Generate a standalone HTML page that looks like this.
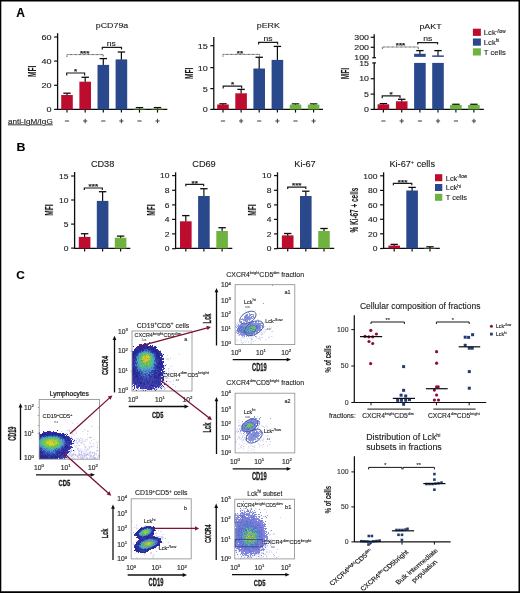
<!DOCTYPE html>
<html><head><meta charset="utf-8"><style>
html,body{margin:0;padding:0;background:#fff;}
svg{display:block;font-family:"Liberation Sans",sans-serif;will-change:transform;}
text{stroke:currentColor;stroke-width:0.12px;}
</style></head><body>
<svg width="520" height="593" viewBox="0 0 520 593">
<defs><filter id="soft" x="0" y="0" width="1" height="1"><feGaussianBlur stdDeviation="0.35"/></filter></defs>
<rect width="520" height="593" fill="#fff"/>
<g filter="url(#soft)">
<path d="M0 0H520V593H0Z M1.3 1.5V591.2H518.5V1.5Z" fill="#000" fill-rule="evenodd"/>
<text transform="translate(16.30,16.90) scale(1.0,1.0)" font-size="12" text-anchor="start" font-weight="bold" fill="#000" color="#000">A</text>
<text transform="translate(16.60,150.90) scale(1.06,1.0)" font-size="11.7" text-anchor="start" font-weight="bold" fill="#000" color="#000">B</text>
<text transform="translate(16.30,278.60) scale(1.0,1.0)" font-size="11.8" text-anchor="start" font-weight="bold" fill="#000" color="#000">C</text>
<line x1="57.60" y1="33.20" x2="57.60" y2="110.00" stroke="#111" stroke-width="1.3"/>
<line x1="54.10" y1="109.40" x2="57.60" y2="109.40" stroke="#111" stroke-width="1.2"/>
<text transform="translate(51.50,112.32) scale(1.12,1.0)" font-size="8.1" text-anchor="end" font-weight="normal" fill="#222" color="#222">0</text>
<line x1="54.10" y1="85.30" x2="57.60" y2="85.30" stroke="#111" stroke-width="1.2"/>
<text transform="translate(51.50,88.22) scale(1.12,1.0)" font-size="8.1" text-anchor="end" font-weight="normal" fill="#222" color="#222">20</text>
<line x1="54.10" y1="61.10" x2="57.60" y2="61.10" stroke="#111" stroke-width="1.2"/>
<text transform="translate(51.50,64.02) scale(1.12,1.0)" font-size="8.1" text-anchor="end" font-weight="normal" fill="#222" color="#222">40</text>
<line x1="54.10" y1="37.00" x2="57.60" y2="37.00" stroke="#111" stroke-width="1.2"/>
<text transform="translate(51.50,39.92) scale(1.12,1.0)" font-size="8.1" text-anchor="end" font-weight="normal" fill="#222" color="#222">60</text>
<line x1="57.00" y1="109.40" x2="167.30" y2="109.40" stroke="#111" stroke-width="1.3"/>
<line x1="67.00" y1="109.40" x2="67.00" y2="112.60" stroke="#111" stroke-width="1.2"/>
<line x1="85.20" y1="109.40" x2="85.20" y2="112.60" stroke="#111" stroke-width="1.2"/>
<line x1="103.30" y1="109.40" x2="103.30" y2="112.60" stroke="#111" stroke-width="1.2"/>
<line x1="121.40" y1="109.40" x2="121.40" y2="112.60" stroke="#111" stroke-width="1.2"/>
<line x1="139.50" y1="109.40" x2="139.50" y2="112.60" stroke="#111" stroke-width="1.2"/>
<line x1="157.50" y1="109.40" x2="157.50" y2="112.60" stroke="#111" stroke-width="1.2"/>
<line x1="67.00" y1="93.20" x2="67.00" y2="95.50" stroke="#111" stroke-width="1.2"/>
<line x1="63.30" y1="93.20" x2="70.70" y2="93.20" stroke="#111" stroke-width="1.3"/>
<rect x="61.20" y="95.00" width="11.60" height="14.40" fill="#bd0a2e"/>
<line x1="85.20" y1="77.30" x2="85.20" y2="82.20" stroke="#111" stroke-width="1.2"/>
<line x1="81.50" y1="77.30" x2="88.90" y2="77.30" stroke="#111" stroke-width="1.3"/>
<rect x="79.40" y="81.70" width="11.60" height="27.70" fill="#bd0a2e"/>
<line x1="103.30" y1="58.60" x2="103.30" y2="65.40" stroke="#111" stroke-width="1.2"/>
<line x1="99.60" y1="58.60" x2="107.00" y2="58.60" stroke="#111" stroke-width="1.3"/>
<rect x="97.50" y="64.90" width="11.60" height="44.50" fill="#2b4a8d"/>
<line x1="121.40" y1="52.00" x2="121.40" y2="59.90" stroke="#111" stroke-width="1.2"/>
<line x1="117.70" y1="52.00" x2="125.10" y2="52.00" stroke="#111" stroke-width="1.3"/>
<rect x="115.60" y="59.40" width="11.60" height="50.00" fill="#2b4a8d"/>
<line x1="139.50" y1="107.60" x2="139.50" y2="109.10" stroke="#111" stroke-width="1.2"/>
<line x1="135.80" y1="107.60" x2="143.20" y2="107.60" stroke="#111" stroke-width="1.3"/>
<rect x="133.70" y="108.60" width="11.60" height="0.80" fill="#6fb241"/>
<line x1="157.50" y1="107.60" x2="157.50" y2="109.10" stroke="#111" stroke-width="1.2"/>
<line x1="153.80" y1="107.60" x2="161.20" y2="107.60" stroke="#111" stroke-width="1.3"/>
<rect x="151.70" y="108.60" width="11.60" height="0.80" fill="#6fb241"/>
<path d="M66.70,75.40 V73.00 H84.60 V75.40" fill="none" stroke="#1a1a1a" stroke-width="1.2"/>
<text transform="translate(75.60,74.00) scale(1.1,1.0)" font-size="7.4" text-anchor="middle" font-weight="bold" fill="#1c1c1c" color="#1c1c1c">*</text>
<path d="M66.90,56.80 V54.60 H103.20 V56.80" fill="none" stroke="#3a3a3a" stroke-width="1.0" stroke-dasharray="0.8,0.5"/>
<text transform="translate(84.70,55.80) scale(1.1,1.0)" font-size="7.4" text-anchor="middle" font-weight="bold" fill="#1c1c1c" color="#1c1c1c">***</text>
<path d="M102.30,49.40 V47.40 H121.50 V49.40" fill="none" stroke="#1a1a1a" stroke-width="1.2"/>
<text transform="translate(111.30,46.10) scale(1.15,1.0)" font-size="7.5" text-anchor="middle" font-weight="normal" fill="#1c1c1c" color="#1c1c1c">ns</text>
<text transform="translate(112.00,27.80) scale(1.18,1.0)" font-size="7.5" text-anchor="middle" font-weight="normal" fill="#1c1c1c" color="#1c1c1c">pCD79a</text>
<text transform="translate(35.90,71.30) rotate(-90) scale(0.65,1)" font-size="10.2" text-anchor="middle" font-weight="bold" fill="#1a1a1a" color="#1a1a1a">MFI</text>
<line x1="64.90" y1="121.00" x2="69.10" y2="121.00" stroke="#444" stroke-width="1.05"/>
<line x1="83.10" y1="121.00" x2="87.30" y2="121.00" stroke="#444" stroke-width="1.05"/>
<line x1="85.20" y1="118.80" x2="85.20" y2="123.20" stroke="#444" stroke-width="1.05"/>
<line x1="101.20" y1="121.00" x2="105.40" y2="121.00" stroke="#444" stroke-width="1.05"/>
<line x1="119.30" y1="121.00" x2="123.50" y2="121.00" stroke="#444" stroke-width="1.05"/>
<line x1="121.40" y1="118.80" x2="121.40" y2="123.20" stroke="#444" stroke-width="1.05"/>
<line x1="137.40" y1="121.00" x2="141.60" y2="121.00" stroke="#444" stroke-width="1.05"/>
<line x1="155.40" y1="121.00" x2="159.60" y2="121.00" stroke="#444" stroke-width="1.05"/>
<line x1="157.50" y1="118.80" x2="157.50" y2="123.20" stroke="#444" stroke-width="1.05"/>
<text transform="translate(8.00,123.50) scale(1.1,1.0)" font-size="7.4" text-anchor="start" font-weight="normal" fill="#1c1c1c" color="#1c1c1c" text-decoration="underline">anti-IgM/IgG</text>
<line x1="213.80" y1="37.00" x2="213.80" y2="110.00" stroke="#111" stroke-width="1.3"/>
<line x1="210.30" y1="109.40" x2="213.80" y2="109.40" stroke="#111" stroke-width="1.2"/>
<text transform="translate(207.70,112.32) scale(1.12,1.0)" font-size="8.1" text-anchor="end" font-weight="normal" fill="#222" color="#222">0</text>
<line x1="210.30" y1="88.60" x2="213.80" y2="88.60" stroke="#111" stroke-width="1.2"/>
<text transform="translate(207.70,91.52) scale(1.12,1.0)" font-size="8.1" text-anchor="end" font-weight="normal" fill="#222" color="#222">5</text>
<line x1="210.30" y1="67.60" x2="213.80" y2="67.60" stroke="#111" stroke-width="1.2"/>
<text transform="translate(207.70,70.52) scale(1.12,1.0)" font-size="8.1" text-anchor="end" font-weight="normal" fill="#222" color="#222">10</text>
<line x1="210.30" y1="45.70" x2="213.80" y2="45.70" stroke="#111" stroke-width="1.2"/>
<text transform="translate(207.70,48.62) scale(1.12,1.0)" font-size="8.1" text-anchor="end" font-weight="normal" fill="#222" color="#222">15</text>
<line x1="213.20" y1="109.40" x2="323.00" y2="109.40" stroke="#111" stroke-width="1.3"/>
<line x1="223.00" y1="109.40" x2="223.00" y2="112.60" stroke="#111" stroke-width="1.2"/>
<line x1="241.10" y1="109.40" x2="241.10" y2="112.60" stroke="#111" stroke-width="1.2"/>
<line x1="259.20" y1="109.40" x2="259.20" y2="112.60" stroke="#111" stroke-width="1.2"/>
<line x1="277.40" y1="109.40" x2="277.40" y2="112.60" stroke="#111" stroke-width="1.2"/>
<line x1="295.50" y1="109.40" x2="295.50" y2="112.60" stroke="#111" stroke-width="1.2"/>
<line x1="313.60" y1="109.40" x2="313.60" y2="112.60" stroke="#111" stroke-width="1.2"/>
<line x1="223.00" y1="103.80" x2="223.00" y2="105.00" stroke="#111" stroke-width="1.2"/>
<line x1="219.30" y1="103.80" x2="226.70" y2="103.80" stroke="#111" stroke-width="1.3"/>
<rect x="217.20" y="104.50" width="11.60" height="4.90" fill="#bd0a2e"/>
<line x1="241.10" y1="89.40" x2="241.10" y2="93.80" stroke="#111" stroke-width="1.2"/>
<line x1="237.40" y1="89.40" x2="244.80" y2="89.40" stroke="#111" stroke-width="1.3"/>
<rect x="235.30" y="93.30" width="11.60" height="16.10" fill="#bd0a2e"/>
<line x1="259.20" y1="57.30" x2="259.20" y2="69.00" stroke="#111" stroke-width="1.2"/>
<line x1="255.50" y1="57.30" x2="262.90" y2="57.30" stroke="#111" stroke-width="1.3"/>
<rect x="253.40" y="68.50" width="11.60" height="40.90" fill="#2b4a8d"/>
<line x1="277.40" y1="46.40" x2="277.40" y2="60.40" stroke="#111" stroke-width="1.2"/>
<line x1="273.70" y1="46.40" x2="281.10" y2="46.40" stroke="#111" stroke-width="1.3"/>
<rect x="271.60" y="59.90" width="11.60" height="49.50" fill="#2b4a8d"/>
<line x1="295.50" y1="103.90" x2="295.50" y2="105.10" stroke="#111" stroke-width="1.2"/>
<line x1="291.80" y1="103.90" x2="299.20" y2="103.90" stroke="#111" stroke-width="1.3"/>
<rect x="289.70" y="104.60" width="11.60" height="4.80" fill="#6fb241"/>
<line x1="313.60" y1="103.90" x2="313.60" y2="105.10" stroke="#111" stroke-width="1.2"/>
<line x1="309.90" y1="103.90" x2="317.30" y2="103.90" stroke="#111" stroke-width="1.3"/>
<rect x="307.80" y="104.60" width="11.60" height="4.80" fill="#6fb241"/>
<path d="M223.20,88.50 V86.10 H241.60 V88.50" fill="none" stroke="#1a1a1a" stroke-width="1.2"/>
<text transform="translate(232.50,87.20) scale(1.1,1.0)" font-size="7.4" text-anchor="middle" font-weight="bold" fill="#1c1c1c" color="#1c1c1c">*</text>
<path d="M222.90,56.60 V54.40 H259.60 V56.60" fill="none" stroke="#3a3a3a" stroke-width="1.0" stroke-dasharray="0.8,0.5"/>
<text transform="translate(240.00,55.60) scale(1.1,1.0)" font-size="7.4" text-anchor="middle" font-weight="bold" fill="#1c1c1c" color="#1c1c1c">**</text>
<path d="M258.60,44.40 V42.40 H277.60 V44.40" fill="none" stroke="#1a1a1a" stroke-width="1.2"/>
<text transform="translate(268.10,41.10) scale(1.15,1.0)" font-size="7.5" text-anchor="middle" font-weight="normal" fill="#1c1c1c" color="#1c1c1c">ns</text>
<text transform="translate(268.30,28.40) scale(1.18,1.0)" font-size="7.5" text-anchor="middle" font-weight="normal" fill="#1c1c1c" color="#1c1c1c">pERK</text>
<text transform="translate(192.50,73.30) rotate(-90) scale(0.65,1)" font-size="10.2" text-anchor="middle" font-weight="bold" fill="#1a1a1a" color="#1a1a1a">MFI</text>
<line x1="220.90" y1="121.00" x2="225.10" y2="121.00" stroke="#444" stroke-width="1.05"/>
<line x1="239.00" y1="121.00" x2="243.20" y2="121.00" stroke="#444" stroke-width="1.05"/>
<line x1="241.10" y1="118.80" x2="241.10" y2="123.20" stroke="#444" stroke-width="1.05"/>
<line x1="257.10" y1="121.00" x2="261.30" y2="121.00" stroke="#444" stroke-width="1.05"/>
<line x1="275.30" y1="121.00" x2="279.50" y2="121.00" stroke="#444" stroke-width="1.05"/>
<line x1="277.40" y1="118.80" x2="277.40" y2="123.20" stroke="#444" stroke-width="1.05"/>
<line x1="293.40" y1="121.00" x2="297.60" y2="121.00" stroke="#444" stroke-width="1.05"/>
<line x1="311.50" y1="121.00" x2="315.70" y2="121.00" stroke="#444" stroke-width="1.05"/>
<line x1="313.60" y1="118.80" x2="313.60" y2="123.20" stroke="#444" stroke-width="1.05"/>
<line x1="374.20" y1="34.20" x2="374.20" y2="57.70" stroke="#111" stroke-width="1.3"/>
<line x1="372.30" y1="57.70" x2="375.90" y2="57.70" stroke="#111" stroke-width="1.3"/>
<line x1="374.20" y1="62.90" x2="374.20" y2="110.00" stroke="#111" stroke-width="1.3"/>
<line x1="372.30" y1="62.90" x2="375.90" y2="62.90" stroke="#111" stroke-width="1.3"/>
<line x1="370.70" y1="37.30" x2="374.20" y2="37.30" stroke="#111" stroke-width="1.2"/>
<text transform="translate(369.00,40.00) scale(1.18,1.0)" font-size="7.5" text-anchor="end" font-weight="normal" fill="#222" color="#222">300</text>
<line x1="370.70" y1="47.30" x2="374.20" y2="47.30" stroke="#111" stroke-width="1.2"/>
<text transform="translate(369.00,50.00) scale(1.18,1.0)" font-size="7.5" text-anchor="end" font-weight="normal" fill="#222" color="#222">200</text>
<text transform="translate(369.00,60.40) scale(1.18,1.0)" font-size="7.5" text-anchor="end" font-weight="normal" fill="#222" color="#222">100</text>
<text transform="translate(369.00,65.60) scale(1.18,1.0)" font-size="7.5" text-anchor="end" font-weight="normal" fill="#222" color="#222">15</text>
<line x1="370.70" y1="78.70" x2="374.20" y2="78.70" stroke="#111" stroke-width="1.2"/>
<text transform="translate(369.00,81.40) scale(1.18,1.0)" font-size="7.5" text-anchor="end" font-weight="normal" fill="#222" color="#222">10</text>
<line x1="370.70" y1="94.10" x2="374.20" y2="94.10" stroke="#111" stroke-width="1.2"/>
<text transform="translate(369.00,96.80) scale(1.18,1.0)" font-size="7.5" text-anchor="end" font-weight="normal" fill="#222" color="#222">5</text>
<line x1="370.70" y1="109.40" x2="374.20" y2="109.40" stroke="#111" stroke-width="1.2"/>
<text transform="translate(369.00,112.10) scale(1.18,1.0)" font-size="7.5" text-anchor="end" font-weight="normal" fill="#222" color="#222">0</text>
<line x1="373.60" y1="109.40" x2="483.80" y2="109.40" stroke="#111" stroke-width="1.3"/>
<line x1="383.40" y1="109.40" x2="383.40" y2="112.60" stroke="#111" stroke-width="1.2"/>
<line x1="401.70" y1="109.40" x2="401.70" y2="112.60" stroke="#111" stroke-width="1.2"/>
<line x1="419.90" y1="109.40" x2="419.90" y2="112.60" stroke="#111" stroke-width="1.2"/>
<line x1="438.00" y1="109.40" x2="438.00" y2="112.60" stroke="#111" stroke-width="1.2"/>
<line x1="455.90" y1="109.40" x2="455.90" y2="112.60" stroke="#111" stroke-width="1.2"/>
<line x1="473.90" y1="109.40" x2="473.90" y2="112.60" stroke="#111" stroke-width="1.2"/>
<line x1="383.40" y1="103.60" x2="383.40" y2="104.80" stroke="#111" stroke-width="1.2"/>
<line x1="379.70" y1="103.60" x2="387.10" y2="103.60" stroke="#111" stroke-width="1.3"/>
<rect x="377.60" y="104.30" width="11.60" height="5.10" fill="#bd0a2e"/>
<line x1="401.70" y1="99.30" x2="401.70" y2="101.80" stroke="#111" stroke-width="1.2"/>
<line x1="398.00" y1="99.30" x2="405.40" y2="99.30" stroke="#111" stroke-width="1.3"/>
<rect x="395.90" y="101.30" width="11.60" height="8.10" fill="#bd0a2e"/>
<rect x="414.10" y="62.90" width="11.60" height="46.50" fill="#2b4a8d"/>
<rect x="432.20" y="62.90" width="11.60" height="46.50" fill="#2b4a8d"/>
<line x1="419.90" y1="50.60" x2="419.90" y2="54.30" stroke="#111" stroke-width="1.2"/>
<line x1="416.20" y1="50.60" x2="423.60" y2="50.60" stroke="#111" stroke-width="1.3"/>
<rect x="414.10" y="53.80" width="11.60" height="3.10" fill="#2b4a8d"/>
<line x1="438.00" y1="50.60" x2="438.00" y2="55.90" stroke="#111" stroke-width="1.2"/>
<line x1="434.30" y1="50.60" x2="441.70" y2="50.60" stroke="#111" stroke-width="1.3"/>
<rect x="432.20" y="55.40" width="11.60" height="1.50" fill="#2b4a8d"/>
<line x1="455.90" y1="104.30" x2="455.90" y2="105.40" stroke="#111" stroke-width="1.2"/>
<line x1="452.20" y1="104.30" x2="459.60" y2="104.30" stroke="#111" stroke-width="1.3"/>
<rect x="450.10" y="104.90" width="11.60" height="4.50" fill="#6fb241"/>
<line x1="473.90" y1="104.30" x2="473.90" y2="105.40" stroke="#111" stroke-width="1.2"/>
<line x1="470.20" y1="104.30" x2="477.60" y2="104.30" stroke="#111" stroke-width="1.3"/>
<rect x="468.10" y="104.90" width="11.60" height="4.50" fill="#6fb241"/>
<path d="M382.20,98.30 V95.90 H400.00 V98.30" fill="none" stroke="#1a1a1a" stroke-width="1.2"/>
<text transform="translate(391.00,97.00) scale(1.1,1.0)" font-size="7.4" text-anchor="middle" font-weight="bold" fill="#1c1c1c" color="#1c1c1c">*</text>
<path d="M382.40,49.00 V47.00 H418.30 V49.00" fill="none" stroke="#3a3a3a" stroke-width="1.0" stroke-dasharray="0.8,0.5"/>
<text transform="translate(400.50,48.20) scale(1.1,1.0)" font-size="7.4" text-anchor="middle" font-weight="bold" fill="#1c1c1c" color="#1c1c1c">***</text>
<path d="M417.80,44.50 V42.70 H437.60 V44.50" fill="none" stroke="#1a1a1a" stroke-width="1.2"/>
<text transform="translate(427.80,41.30) scale(1.15,1.0)" font-size="7.5" text-anchor="middle" font-weight="normal" fill="#1c1c1c" color="#1c1c1c">ns</text>
<text transform="translate(430.50,29.00) scale(1.18,1.0)" font-size="7.5" text-anchor="middle" font-weight="normal" fill="#1c1c1c" color="#1c1c1c">pAKT</text>
<text transform="translate(349.20,73.50) rotate(-90) scale(0.65,1)" font-size="10.2" text-anchor="middle" font-weight="bold" fill="#1a1a1a" color="#1a1a1a">MFI</text>
<line x1="381.30" y1="121.00" x2="385.50" y2="121.00" stroke="#444" stroke-width="1.05"/>
<line x1="399.60" y1="121.00" x2="403.80" y2="121.00" stroke="#444" stroke-width="1.05"/>
<line x1="401.70" y1="118.80" x2="401.70" y2="123.20" stroke="#444" stroke-width="1.05"/>
<line x1="417.80" y1="121.00" x2="422.00" y2="121.00" stroke="#444" stroke-width="1.05"/>
<line x1="435.90" y1="121.00" x2="440.10" y2="121.00" stroke="#444" stroke-width="1.05"/>
<line x1="438.00" y1="118.80" x2="438.00" y2="123.20" stroke="#444" stroke-width="1.05"/>
<line x1="453.80" y1="121.00" x2="458.00" y2="121.00" stroke="#444" stroke-width="1.05"/>
<line x1="471.80" y1="121.00" x2="476.00" y2="121.00" stroke="#444" stroke-width="1.05"/>
<line x1="473.90" y1="118.80" x2="473.90" y2="123.20" stroke="#444" stroke-width="1.05"/>
<rect x="472.90" y="28.70" width="8.00" height="7.20" fill="#bd0a2e"/>
<text transform="translate(483.80,35.30) scale(1.0,1.0)" font-size="7.7" text-anchor="start" font-weight="normal" fill="#1c1c1c" color="#1c1c1c">Lck<tspan dy="-2.8" font-size="4.6">-/low</tspan></text>
<rect x="472.90" y="38.50" width="8.00" height="7.20" fill="#2b4a8d"/>
<text transform="translate(483.80,45.10) scale(1.0,1.0)" font-size="7.7" text-anchor="start" font-weight="normal" fill="#1c1c1c" color="#1c1c1c">Lck<tspan dy="-2.8" font-size="4.6">hi</tspan></text>
<rect x="472.90" y="48.30" width="8.00" height="7.20" fill="#6fb241"/>
<text transform="translate(483.80,54.90) scale(1.0,1.0)" font-size="7.7" text-anchor="start" font-weight="normal" fill="#1c1c1c" color="#1c1c1c">T cells</text>
<line x1="74.60" y1="172.00" x2="74.60" y2="249.00" stroke="#111" stroke-width="1.3"/>
<line x1="71.10" y1="248.10" x2="74.60" y2="248.10" stroke="#111" stroke-width="1.2"/>
<text transform="translate(68.50,250.84) scale(1.12,1.0)" font-size="7.6" text-anchor="end" font-weight="normal" fill="#222" color="#222">0</text>
<line x1="71.10" y1="224.10" x2="74.60" y2="224.10" stroke="#111" stroke-width="1.2"/>
<text transform="translate(68.50,226.84) scale(1.12,1.0)" font-size="7.6" text-anchor="end" font-weight="normal" fill="#222" color="#222">5</text>
<line x1="71.10" y1="200.00" x2="74.60" y2="200.00" stroke="#111" stroke-width="1.2"/>
<text transform="translate(68.50,202.74) scale(1.12,1.0)" font-size="7.6" text-anchor="end" font-weight="normal" fill="#222" color="#222">10</text>
<line x1="71.10" y1="176.00" x2="74.60" y2="176.00" stroke="#111" stroke-width="1.2"/>
<text transform="translate(68.50,178.74) scale(1.12,1.0)" font-size="7.6" text-anchor="end" font-weight="normal" fill="#222" color="#222">15</text>
<line x1="74.00" y1="248.40" x2="130.30" y2="248.40" stroke="#111" stroke-width="1.3"/>
<line x1="84.60" y1="248.40" x2="84.60" y2="251.60" stroke="#111" stroke-width="1.2"/>
<line x1="102.60" y1="248.40" x2="102.60" y2="251.60" stroke="#111" stroke-width="1.2"/>
<line x1="120.60" y1="248.40" x2="120.60" y2="251.60" stroke="#111" stroke-width="1.2"/>
<line x1="84.60" y1="233.70" x2="84.60" y2="237.40" stroke="#111" stroke-width="1.2"/>
<line x1="80.90" y1="233.70" x2="88.30" y2="233.70" stroke="#111" stroke-width="1.3"/>
<rect x="78.80" y="236.90" width="11.60" height="11.50" fill="#bd0a2e"/>
<line x1="102.60" y1="191.70" x2="102.60" y2="201.40" stroke="#111" stroke-width="1.2"/>
<line x1="98.90" y1="191.70" x2="106.30" y2="191.70" stroke="#111" stroke-width="1.3"/>
<rect x="96.80" y="200.90" width="11.60" height="47.50" fill="#2b4a8d"/>
<line x1="120.60" y1="236.10" x2="120.60" y2="238.20" stroke="#111" stroke-width="1.2"/>
<line x1="116.90" y1="236.10" x2="124.30" y2="236.10" stroke="#111" stroke-width="1.3"/>
<rect x="114.80" y="237.70" width="11.60" height="10.70" fill="#6fb241"/>
<text transform="translate(102.60,166.60) scale(1.12,1.0)" font-size="8.2" text-anchor="middle" font-weight="normal" fill="#1c1c1c" color="#1c1c1c">CD38</text>
<text transform="translate(52.90,210.10) rotate(-90) scale(0.65,1)" font-size="10.2" text-anchor="middle" font-weight="bold" fill="#1a1a1a" color="#1a1a1a">MFI</text>
<path d="M84.30,190.00 V188.00 H102.30 V190.00" fill="none" stroke="#1a1a1a" stroke-width="1.2"/>
<text transform="translate(93.30,189.20) scale(1.1,1.0)" font-size="7.4" text-anchor="middle" font-weight="bold" fill="#1c1c1c" color="#1c1c1c">***</text>
<line x1="175.60" y1="172.30" x2="175.60" y2="249.00" stroke="#111" stroke-width="1.3"/>
<line x1="172.10" y1="248.70" x2="175.60" y2="248.70" stroke="#111" stroke-width="1.2"/>
<text transform="translate(169.50,251.44) scale(1.12,1.0)" font-size="7.6" text-anchor="end" font-weight="normal" fill="#222" color="#222">0</text>
<line x1="172.10" y1="233.90" x2="175.60" y2="233.90" stroke="#111" stroke-width="1.2"/>
<text transform="translate(169.50,236.64) scale(1.12,1.0)" font-size="7.6" text-anchor="end" font-weight="normal" fill="#222" color="#222">2</text>
<line x1="172.10" y1="219.40" x2="175.60" y2="219.40" stroke="#111" stroke-width="1.2"/>
<text transform="translate(169.50,222.14) scale(1.12,1.0)" font-size="7.6" text-anchor="end" font-weight="normal" fill="#222" color="#222">4</text>
<line x1="172.10" y1="204.90" x2="175.60" y2="204.90" stroke="#111" stroke-width="1.2"/>
<text transform="translate(169.50,207.64) scale(1.12,1.0)" font-size="7.6" text-anchor="end" font-weight="normal" fill="#222" color="#222">6</text>
<line x1="172.10" y1="190.30" x2="175.60" y2="190.30" stroke="#111" stroke-width="1.2"/>
<text transform="translate(169.50,193.04) scale(1.12,1.0)" font-size="7.6" text-anchor="end" font-weight="normal" fill="#222" color="#222">8</text>
<line x1="172.10" y1="175.60" x2="175.60" y2="175.60" stroke="#111" stroke-width="1.2"/>
<text transform="translate(169.50,178.34) scale(1.12,1.0)" font-size="7.6" text-anchor="end" font-weight="normal" fill="#222" color="#222">10</text>
<line x1="175.00" y1="248.40" x2="232.30" y2="248.40" stroke="#111" stroke-width="1.3"/>
<line x1="185.80" y1="248.40" x2="185.80" y2="251.60" stroke="#111" stroke-width="1.2"/>
<line x1="203.90" y1="248.40" x2="203.90" y2="251.60" stroke="#111" stroke-width="1.2"/>
<line x1="222.10" y1="248.40" x2="222.10" y2="251.60" stroke="#111" stroke-width="1.2"/>
<line x1="185.80" y1="215.60" x2="185.80" y2="221.80" stroke="#111" stroke-width="1.2"/>
<line x1="182.10" y1="215.60" x2="189.50" y2="215.60" stroke="#111" stroke-width="1.3"/>
<rect x="180.00" y="221.30" width="11.60" height="27.10" fill="#bd0a2e"/>
<line x1="203.90" y1="188.70" x2="203.90" y2="196.50" stroke="#111" stroke-width="1.2"/>
<line x1="200.20" y1="188.70" x2="207.60" y2="188.70" stroke="#111" stroke-width="1.3"/>
<rect x="198.10" y="196.00" width="11.60" height="52.40" fill="#2b4a8d"/>
<line x1="222.10" y1="227.70" x2="222.10" y2="231.50" stroke="#111" stroke-width="1.2"/>
<line x1="218.40" y1="227.70" x2="225.80" y2="227.70" stroke="#111" stroke-width="1.3"/>
<rect x="216.30" y="231.00" width="11.60" height="17.40" fill="#6fb241"/>
<text transform="translate(204.00,166.60) scale(1.12,1.0)" font-size="8.2" text-anchor="middle" font-weight="normal" fill="#1c1c1c" color="#1c1c1c">CD69</text>
<text transform="translate(154.90,210.10) rotate(-90) scale(0.65,1)" font-size="10.2" text-anchor="middle" font-weight="bold" fill="#1a1a1a" color="#1a1a1a">MFI</text>
<path d="M185.80,186.30 V184.30 H203.60 V186.30" fill="none" stroke="#1a1a1a" stroke-width="1.2"/>
<text transform="translate(194.70,185.50) scale(1.1,1.0)" font-size="7.4" text-anchor="middle" font-weight="bold" fill="#1c1c1c" color="#1c1c1c">**</text>
<line x1="277.50" y1="172.30" x2="277.50" y2="249.00" stroke="#111" stroke-width="1.3"/>
<line x1="274.00" y1="248.70" x2="277.50" y2="248.70" stroke="#111" stroke-width="1.2"/>
<text transform="translate(271.40,251.44) scale(1.12,1.0)" font-size="7.6" text-anchor="end" font-weight="normal" fill="#222" color="#222">0</text>
<line x1="274.00" y1="233.90" x2="277.50" y2="233.90" stroke="#111" stroke-width="1.2"/>
<text transform="translate(271.40,236.64) scale(1.12,1.0)" font-size="7.6" text-anchor="end" font-weight="normal" fill="#222" color="#222">2</text>
<line x1="274.00" y1="219.40" x2="277.50" y2="219.40" stroke="#111" stroke-width="1.2"/>
<text transform="translate(271.40,222.14) scale(1.12,1.0)" font-size="7.6" text-anchor="end" font-weight="normal" fill="#222" color="#222">4</text>
<line x1="274.00" y1="204.90" x2="277.50" y2="204.90" stroke="#111" stroke-width="1.2"/>
<text transform="translate(271.40,207.64) scale(1.12,1.0)" font-size="7.6" text-anchor="end" font-weight="normal" fill="#222" color="#222">6</text>
<line x1="274.00" y1="190.30" x2="277.50" y2="190.30" stroke="#111" stroke-width="1.2"/>
<text transform="translate(271.40,193.04) scale(1.12,1.0)" font-size="7.6" text-anchor="end" font-weight="normal" fill="#222" color="#222">8</text>
<line x1="274.00" y1="175.60" x2="277.50" y2="175.60" stroke="#111" stroke-width="1.2"/>
<text transform="translate(271.40,178.34) scale(1.12,1.0)" font-size="7.6" text-anchor="end" font-weight="normal" fill="#222" color="#222">10</text>
<line x1="276.90" y1="248.40" x2="334.20" y2="248.40" stroke="#111" stroke-width="1.3"/>
<line x1="287.70" y1="248.40" x2="287.70" y2="251.60" stroke="#111" stroke-width="1.2"/>
<line x1="305.80" y1="248.40" x2="305.80" y2="251.60" stroke="#111" stroke-width="1.2"/>
<line x1="324.00" y1="248.40" x2="324.00" y2="251.60" stroke="#111" stroke-width="1.2"/>
<line x1="287.70" y1="233.50" x2="287.70" y2="235.90" stroke="#111" stroke-width="1.2"/>
<line x1="284.00" y1="233.50" x2="291.40" y2="233.50" stroke="#111" stroke-width="1.3"/>
<rect x="281.90" y="235.40" width="11.60" height="13.00" fill="#bd0a2e"/>
<line x1="305.80" y1="191.20" x2="305.80" y2="196.50" stroke="#111" stroke-width="1.2"/>
<line x1="302.10" y1="191.20" x2="309.50" y2="191.20" stroke="#111" stroke-width="1.3"/>
<rect x="300.00" y="196.00" width="11.60" height="52.40" fill="#2b4a8d"/>
<line x1="324.00" y1="228.50" x2="324.00" y2="231.50" stroke="#111" stroke-width="1.2"/>
<line x1="320.30" y1="228.50" x2="327.70" y2="228.50" stroke="#111" stroke-width="1.3"/>
<rect x="318.20" y="231.00" width="11.60" height="17.40" fill="#6fb241"/>
<text transform="translate(305.00,166.60) scale(1.12,1.0)" font-size="8.2" text-anchor="middle" font-weight="normal" fill="#1c1c1c" color="#1c1c1c">Ki-67</text>
<text transform="translate(255.90,210.10) rotate(-90) scale(0.65,1)" font-size="10.2" text-anchor="middle" font-weight="bold" fill="#1a1a1a" color="#1a1a1a">MFI</text>
<path d="M287.70,189.10 V187.10 H305.80 V189.10" fill="none" stroke="#1a1a1a" stroke-width="1.2"/>
<text transform="translate(296.75,188.30) scale(1.1,1.0)" font-size="7.4" text-anchor="middle" font-weight="bold" fill="#1c1c1c" color="#1c1c1c">***</text>
<line x1="383.60" y1="172.30" x2="383.60" y2="249.00" stroke="#111" stroke-width="1.3"/>
<line x1="380.10" y1="248.50" x2="383.60" y2="248.50" stroke="#111" stroke-width="1.2"/>
<text transform="translate(377.50,251.24) scale(1.12,1.0)" font-size="7.6" text-anchor="end" font-weight="normal" fill="#222" color="#222">0</text>
<line x1="380.10" y1="233.80" x2="383.60" y2="233.80" stroke="#111" stroke-width="1.2"/>
<text transform="translate(377.50,236.54) scale(1.12,1.0)" font-size="7.6" text-anchor="end" font-weight="normal" fill="#222" color="#222">20</text>
<line x1="380.10" y1="219.30" x2="383.60" y2="219.30" stroke="#111" stroke-width="1.2"/>
<text transform="translate(377.50,222.04) scale(1.12,1.0)" font-size="7.6" text-anchor="end" font-weight="normal" fill="#222" color="#222">40</text>
<line x1="380.10" y1="204.80" x2="383.60" y2="204.80" stroke="#111" stroke-width="1.2"/>
<text transform="translate(377.50,207.54) scale(1.12,1.0)" font-size="7.6" text-anchor="end" font-weight="normal" fill="#222" color="#222">60</text>
<line x1="380.10" y1="190.40" x2="383.60" y2="190.40" stroke="#111" stroke-width="1.2"/>
<text transform="translate(377.50,193.14) scale(1.12,1.0)" font-size="7.6" text-anchor="end" font-weight="normal" fill="#222" color="#222">80</text>
<line x1="380.10" y1="175.80" x2="383.60" y2="175.80" stroke="#111" stroke-width="1.2"/>
<text transform="translate(377.50,178.54) scale(1.12,1.0)" font-size="7.6" text-anchor="end" font-weight="normal" fill="#222" color="#222">100</text>
<line x1="383.00" y1="248.40" x2="439.80" y2="248.40" stroke="#111" stroke-width="1.3"/>
<line x1="394.20" y1="248.40" x2="394.20" y2="251.60" stroke="#111" stroke-width="1.2"/>
<line x1="412.10" y1="248.40" x2="412.10" y2="251.60" stroke="#111" stroke-width="1.2"/>
<line x1="430.00" y1="248.40" x2="430.00" y2="251.60" stroke="#111" stroke-width="1.2"/>
<line x1="394.20" y1="244.40" x2="394.20" y2="246.10" stroke="#111" stroke-width="1.2"/>
<line x1="390.50" y1="244.40" x2="397.90" y2="244.40" stroke="#111" stroke-width="1.3"/>
<rect x="388.40" y="245.60" width="11.60" height="2.80" fill="#bd0a2e"/>
<line x1="412.10" y1="187.40" x2="412.10" y2="191.00" stroke="#111" stroke-width="1.2"/>
<line x1="408.40" y1="187.40" x2="415.80" y2="187.40" stroke="#111" stroke-width="1.3"/>
<rect x="406.30" y="190.50" width="11.60" height="57.90" fill="#2b4a8d"/>
<line x1="430.00" y1="246.80" x2="430.00" y2="248.50" stroke="#111" stroke-width="1.2"/>
<line x1="426.30" y1="246.80" x2="433.70" y2="246.80" stroke="#111" stroke-width="1.3"/>
<rect x="424.20" y="248.00" width="11.60" height="0.40" fill="#6fb241"/>
<text transform="translate(412.20,166.60) scale(1.12,1.0)" font-size="8.2" text-anchor="middle" font-weight="normal" fill="#1c1c1c" color="#1c1c1c">Ki-67<tspan dy="-2.8" font-size="5">+</tspan><tspan dy="2.8"> cells</tspan></text>
<text transform="translate(358.20,210.1) rotate(-90) scale(0.645,1)" font-size="10" text-anchor="middle" font-weight="bold" fill="#1a1a1a" color="#1a1a1a">% Ki-67 + cells</text>
<path d="M393.40,185.30 V183.30 H411.80 V185.30" fill="none" stroke="#1a1a1a" stroke-width="1.2"/>
<text transform="translate(402.60,184.50) scale(1.1,1.0)" font-size="7.4" text-anchor="middle" font-weight="bold" fill="#1c1c1c" color="#1c1c1c">***</text>
<rect x="435.00" y="174.20" width="7.30" height="7.00" fill="#bd0a2e"/>
<text transform="translate(445.80,180.60) scale(1.0,1.0)" font-size="7.4" text-anchor="start" font-weight="normal" fill="#1c1c1c" color="#1c1c1c">Lck<tspan dy="-2.8" font-size="4.6">-/low</tspan></text>
<rect x="435.00" y="184.00" width="7.30" height="7.00" fill="#2b4a8d"/>
<text transform="translate(445.80,190.40) scale(1.0,1.0)" font-size="7.4" text-anchor="start" font-weight="normal" fill="#1c1c1c" color="#1c1c1c">Lck<tspan dy="-2.8" font-size="4.6">hi</tspan></text>
<rect x="435.00" y="193.80" width="7.30" height="7.00" fill="#6fb241"/>
<text transform="translate(445.80,200.20) scale(1.0,1.0)" font-size="7.4" text-anchor="start" font-weight="normal" fill="#1c1c1c" color="#1c1c1c">T cells</text>
<g transform="translate(39.20,399.40)" shape-rendering="crispEdges"><path fill="#3232aa" d="M18 31h1v1h-1zM4 32h1v1h-1zM10 32h2v1h-2zM14 32h1v1h-1zM0 33h1v1h-1zM4 33h1v1h-1zM8 33h1v1h-1zM13 33h1v1h-1zM0 34h1v1h-1zM4 34h1v1h-1zM20 34h2v1h-2zM23 34h1v1h-1zM28 35h1v1h-1zM25 36h1v1h-1zM27 37h3v1h-3zM30 39h3v1h-3zM30 40h1v1h-1zM33 40h1v1h-1zM35 41h1v1h-1zM32 43h1v1h-1zM31 44h1v1h-1zM34 44h1v1h-1zM31 45h1v1h-1zM31 47h2v1h-2zM30 48h4v1h-4zM30 49h2v1h-2zM30 50h1v1h-1zM28 52h3v1h-3zM28 54h1v1h-1zM27 56h1v1h-1zM24 57h3v1h-3zM0 58h1v1h-1zM23 58h5v1h-5zM0 59h1v1h-1zM17 59h1v1h-1zM21 59h3v1h-3zM25 59h1v1h-1z"/><path fill="#2c2c9e" d="M8 32h2v1h-2zM5 33h3v1h-3zM9 33h4v1h-4zM15 33h3v1h-3zM3 34h1v1h-1zM5 34h2v1h-2zM11 34h2v1h-2zM14 34h1v1h-1zM17 34h3v1h-3zM24 34h1v1h-1zM0 35h2v1h-2zM19 35h1v1h-1zM21 35h1v1h-1zM23 35h4v1h-4zM1 36h1v1h-1zM24 36h1v1h-1zM27 36h1v1h-1zM27 38h4v1h-4zM29 39h1v1h-1zM29 40h1v1h-1zM31 40h1v1h-1zM31 41h2v1h-2zM31 42h2v1h-2zM34 42h1v1h-1zM31 43h1v1h-1zM30 44h1v1h-1zM32 44h2v1h-2zM30 45h1v1h-1zM32 45h1v1h-1zM29 47h2v1h-2zM28 48h2v1h-2zM28 49h2v1h-2zM26 50h4v1h-4zM27 51h1v1h-1zM34 51h1v1h-1zM26 52h2v1h-2zM26 53h4v1h-4zM25 54h1v1h-1zM27 54h1v1h-1zM24 55h4v1h-4zM23 56h1v1h-1zM26 56h1v1h-1zM3 57h1v1h-1zM22 57h2v1h-2zM1 58h1v1h-1zM3 58h1v1h-1zM14 58h1v1h-1zM17 58h1v1h-1zM19 58h4v1h-4zM1 59h12v1h-12zM14 59h1v1h-1zM16 59h1v1h-1zM18 59h1v1h-1zM20 59h1v1h-1z"/><path fill="#262691" d="M14 33h1v1h-1zM7 34h4v1h-4zM13 34h1v1h-1zM15 34h2v1h-2zM2 35h3v1h-3zM6 35h1v1h-1zM9 35h1v1h-1zM12 35h2v1h-2zM18 35h1v1h-1zM20 35h1v1h-1zM22 35h1v1h-1zM0 36h1v1h-1zM2 36h3v1h-3zM22 36h2v1h-2zM0 37h2v1h-2zM24 37h3v1h-3zM0 38h1v1h-1zM24 38h1v1h-1zM26 38h1v1h-1zM27 39h2v1h-2zM27 40h2v1h-2zM28 41h3v1h-3zM30 42h1v1h-1zM30 43h1v1h-1zM28 44h2v1h-2zM29 45h1v1h-1zM27 46h3v1h-3zM28 47h1v1h-1zM27 48h1v1h-1zM26 49h2v1h-2zM24 50h1v1h-1zM25 51h2v1h-2zM28 51h1v1h-1zM24 52h2v1h-2zM24 53h2v1h-2zM22 54h3v1h-3zM26 54h1v1h-1zM0 55h2v1h-2zM22 55h2v1h-2zM0 56h1v1h-1zM20 56h3v1h-3zM24 56h2v1h-2zM0 57h2v1h-2zM5 57h2v1h-2zM16 57h2v1h-2zM19 57h1v1h-1zM21 57h1v1h-1zM2 58h1v1h-1zM4 58h6v1h-6zM13 58h1v1h-1zM15 58h2v1h-2zM18 58h1v1h-1zM13 59h1v1h-1zM15 59h1v1h-1z"/><path fill="#272c94" d="M5 35h1v1h-1zM7 35h2v1h-2zM11 35h1v1h-1zM14 35h4v1h-4zM5 36h1v1h-1zM13 36h1v1h-1zM19 36h3v1h-3zM23 37h1v1h-1zM25 38h1v1h-1zM25 39h2v1h-2zM26 40h1v1h-1zM27 41h1v1h-1zM27 42h1v1h-1zM29 42h1v1h-1zM27 43h3v1h-3zM27 44h1v1h-1zM27 45h2v1h-2zM30 46h1v1h-1zM26 47h2v1h-2zM25 48h2v1h-2zM25 49h1v1h-1zM0 50h1v1h-1zM25 50h1v1h-1zM0 51h1v1h-1zM23 51h2v1h-2zM0 52h2v1h-2zM3 52h1v1h-1zM22 52h2v1h-2zM0 53h3v1h-3zM20 53h4v1h-4zM0 54h4v1h-4zM18 54h1v1h-1zM20 54h2v1h-2zM2 55h3v1h-3zM18 55h2v1h-2zM21 55h1v1h-1zM1 56h2v1h-2zM4 56h1v1h-1zM6 56h2v1h-2zM9 56h1v1h-1zM16 56h1v1h-1zM18 56h2v1h-2zM2 57h1v1h-1zM4 57h1v1h-1zM7 57h3v1h-3zM12 57h4v1h-4zM18 57h1v1h-1zM20 57h1v1h-1zM10 58h3v1h-3z"/><path fill="#2b39a0" d="M10 35h1v1h-1zM6 36h6v1h-6zM14 36h1v1h-1zM16 36h3v1h-3zM2 37h1v1h-1zM4 37h1v1h-1zM6 37h1v1h-1zM19 37h4v1h-4zM1 38h1v1h-1zM23 38h1v1h-1zM0 39h1v1h-1zM24 39h1v1h-1zM0 40h1v1h-1zM25 40h1v1h-1zM26 41h1v1h-1zM26 42h1v1h-1zM28 42h1v1h-1zM26 45h1v1h-1zM26 46h1v1h-1zM25 47h1v1h-1zM23 48h1v1h-1zM0 49h3v1h-3zM22 49h3v1h-3zM1 50h1v1h-1zM19 50h1v1h-1zM21 50h3v1h-3zM1 51h2v1h-2zM18 51h5v1h-5zM2 52h1v1h-1zM4 52h1v1h-1zM17 52h5v1h-5zM3 53h2v1h-2zM17 53h3v1h-3zM5 54h1v1h-1zM8 54h1v1h-1zM14 54h1v1h-1zM17 54h1v1h-1zM19 54h1v1h-1zM5 55h2v1h-2zM8 55h3v1h-3zM13 55h3v1h-3zM17 55h1v1h-1zM20 55h1v1h-1zM3 56h1v1h-1zM5 56h1v1h-1zM8 56h1v1h-1zM10 56h6v1h-6zM17 56h1v1h-1zM10 57h2v1h-2z"/><path fill="#3658b4" d="M12 36h1v1h-1zM15 36h1v1h-1zM3 37h1v1h-1zM5 37h1v1h-1zM8 37h1v1h-1zM13 37h1v1h-1zM16 37h1v1h-1zM2 38h1v1h-1zM21 38h2v1h-2zM1 39h1v1h-1zM21 39h3v1h-3zM23 40h1v1h-1zM25 41h1v1h-1zM25 43h2v1h-2zM25 44h2v1h-2zM25 45h1v1h-1zM25 46h1v1h-1zM0 47h1v1h-1zM22 47h3v1h-3zM0 48h2v1h-2zM22 48h1v1h-1zM24 48h1v1h-1zM17 49h1v1h-1zM20 49h1v1h-1zM2 50h2v1h-2zM16 50h1v1h-1zM18 50h1v1h-1zM20 50h1v1h-1zM4 51h2v1h-2zM14 51h1v1h-1zM16 51h2v1h-2zM5 52h2v1h-2zM8 52h1v1h-1zM10 52h1v1h-1zM15 52h2v1h-2zM5 53h6v1h-6zM12 53h2v1h-2zM16 53h1v1h-1zM4 54h1v1h-1zM6 54h2v1h-2zM9 54h5v1h-5zM15 54h2v1h-2zM7 55h1v1h-1zM11 55h2v1h-2zM16 55h1v1h-1z"/><path fill="#4584cd" d="M7 37h1v1h-1zM9 37h4v1h-4zM15 37h1v1h-1zM17 37h2v1h-2zM3 38h3v1h-3zM8 38h1v1h-1zM19 38h2v1h-2zM2 39h1v1h-1zM20 39h1v1h-1zM1 40h1v1h-1zM21 40h1v1h-1zM24 40h1v1h-1zM0 41h1v1h-1zM23 41h1v1h-1zM23 42h3v1h-3zM24 43h1v1h-1zM24 44h1v1h-1zM0 45h1v1h-1zM24 45h1v1h-1zM0 46h1v1h-1zM23 46h2v1h-2zM2 47h1v1h-1zM21 47h1v1h-1zM2 48h2v1h-2zM21 48h1v1h-1zM3 49h3v1h-3zM7 49h1v1h-1zM19 49h1v1h-1zM21 49h1v1h-1zM4 50h4v1h-4zM15 50h1v1h-1zM3 51h1v1h-1zM6 51h2v1h-2zM9 51h2v1h-2zM15 51h1v1h-1zM7 52h1v1h-1zM9 52h1v1h-1zM12 52h3v1h-3zM11 53h1v1h-1zM14 53h2v1h-2z"/><path fill="#4ca2c4" d="M14 37h1v1h-1zM6 38h1v1h-1zM9 38h1v1h-1zM13 38h1v1h-1zM15 38h4v1h-4zM3 39h1v1h-1zM5 39h1v1h-1zM19 39h1v1h-1zM3 40h1v1h-1zM1 41h1v1h-1zM24 41h1v1h-1zM0 42h2v1h-2zM0 43h1v1h-1zM23 43h1v1h-1zM0 44h2v1h-2zM23 44h1v1h-1zM1 45h1v1h-1zM23 45h1v1h-1zM1 46h2v1h-2zM22 46h1v1h-1zM1 47h1v1h-1zM3 47h2v1h-2zM4 48h1v1h-1zM6 49h1v1h-1zM8 49h1v1h-1zM15 49h2v1h-2zM18 49h1v1h-1zM8 50h1v1h-1zM10 50h3v1h-3zM17 50h1v1h-1zM8 51h1v1h-1zM11 51h3v1h-3zM11 52h1v1h-1z"/><path fill="#4fb6a3" d="M7 38h1v1h-1zM10 38h1v1h-1zM12 38h1v1h-1zM4 39h1v1h-1zM6 39h1v1h-1zM18 39h1v1h-1zM2 40h1v1h-1zM22 40h1v1h-1zM2 41h2v1h-2zM21 41h2v1h-2zM21 42h2v1h-2zM1 43h1v1h-1zM22 43h1v1h-1zM21 45h2v1h-2zM3 46h2v1h-2zM21 46h1v1h-1zM20 47h1v1h-1zM5 48h2v1h-2zM9 48h1v1h-1zM12 48h1v1h-1zM15 48h1v1h-1zM17 48h4v1h-4zM9 49h3v1h-3zM13 49h2v1h-2zM9 50h1v1h-1zM13 50h2v1h-2z"/><path fill="#56c081" d="M11 38h1v1h-1zM14 38h1v1h-1zM10 39h2v1h-2zM13 39h1v1h-1zM4 40h2v1h-2zM19 40h2v1h-2zM19 41h2v1h-2zM2 42h1v1h-1zM2 43h1v1h-1zM20 44h1v1h-1zM2 45h2v1h-2zM5 46h1v1h-1zM19 46h2v1h-2zM5 47h3v1h-3zM17 47h1v1h-1zM19 47h1v1h-1zM7 48h1v1h-1zM10 48h1v1h-1zM12 49h1v1h-1z"/><path fill="#60c25e" d="M7 39h3v1h-3zM12 39h1v1h-1zM14 39h2v1h-2zM17 39h1v1h-1zM6 40h2v1h-2zM18 40h1v1h-1zM4 41h2v1h-2zM3 42h1v1h-1zM20 42h1v1h-1zM3 43h1v1h-1zM5 43h1v1h-1zM21 43h1v1h-1zM3 44h1v1h-1zM21 44h2v1h-2zM4 45h1v1h-1zM18 45h1v1h-1zM20 45h1v1h-1zM18 46h1v1h-1zM8 47h1v1h-1zM18 47h1v1h-1zM8 48h1v1h-1zM13 48h2v1h-2zM16 48h1v1h-1z"/><path fill="#74c649" d="M16 39h1v1h-1zM8 40h1v1h-1zM11 40h1v1h-1zM15 40h1v1h-1zM6 41h1v1h-1zM4 42h1v1h-1zM6 42h2v1h-2zM19 42h1v1h-1zM4 43h1v1h-1zM20 43h1v1h-1zM2 44h1v1h-1zM4 44h3v1h-3zM6 45h1v1h-1zM17 45h1v1h-1zM19 45h1v1h-1zM6 46h1v1h-1zM9 46h1v1h-1zM15 46h1v1h-1zM17 46h1v1h-1zM9 47h8v1h-8zM11 48h1v1h-1z"/><path fill="#8fcc3e" d="M9 40h2v1h-2zM13 40h2v1h-2zM16 40h2v1h-2zM7 41h3v1h-3zM13 41h1v1h-1zM15 41h1v1h-1zM17 41h2v1h-2zM5 42h1v1h-1zM18 42h1v1h-1zM6 43h1v1h-1zM15 43h1v1h-1zM18 43h2v1h-2zM5 45h1v1h-1zM7 45h1v1h-1zM7 46h1v1h-1zM13 46h1v1h-1zM16 46h1v1h-1z"/><path fill="#aad232" d="M12 40h1v1h-1zM11 41h1v1h-1zM14 41h1v1h-1zM16 41h1v1h-1zM7 43h1v1h-1zM9 43h1v1h-1zM16 43h1v1h-1zM18 44h2v1h-2zM8 45h2v1h-2zM15 45h2v1h-2zM8 46h1v1h-1z"/><path fill="#e5d229" d="M10 41h1v1h-1zM8 42h1v1h-1zM11 42h1v1h-1zM10 43h1v1h-1zM12 43h2v1h-2zM17 43h1v1h-1zM7 44h1v1h-1zM10 44h6v1h-6zM12 45h1v1h-1zM14 45h1v1h-1z"/><path fill="#c8d22d" d="M12 41h1v1h-1zM9 42h2v1h-2zM12 42h6v1h-6zM8 43h1v1h-1zM11 43h1v1h-1zM14 43h1v1h-1zM8 44h2v1h-2zM16 44h2v1h-2zM10 45h2v1h-2zM13 45h1v1h-1zM10 46h3v1h-3zM14 46h1v1h-1z"/></g>
<path transform="translate(39.20,399.40)" fill="#6a6ad0" fill-opacity="0.45" d="M26.7 33.4h.9v.9h-.9zM40.4 54.6h.9v.9h-.9zM27.3 43.1h.9v.9h-.9zM14 58.2h.9v.9h-.9zM25.8 53.7h.9v.9h-.9zM43.3 31.8h.9v.9h-.9zM53 58.3h.9v.9h-.9zM31.7 36.5h.9v.9h-.9zM29.5 29.9h.9v.9h-.9zM54.1 46.1h.9v.9h-.9zM31.1 53h.9v.9h-.9zM43.4 58.4h.9v.9h-.9zM24 54h.9v.9h-.9zM12.5 51.3h.9v.9h-.9zM39.2 54.4h.9v.9h-.9zM26.4 52.9h.9v.9h-.9zM19.2 57.7h.9v.9h-.9zM39.1 41.3h.9v.9h-.9zM23.8 54.6h.9v.9h-.9zM32.6 54.9h.9v.9h-.9zM19.6 44.3h.9v.9h-.9zM34.7 42h.9v.9h-.9zM31 51.1h.9v.9h-.9zM17.9 37.3h.9v.9h-.9zM49.3 54.1h.9v.9h-.9zM24.5 51.2h.9v.9h-.9zM43.3 39.1h.9v.9h-.9zM27.5 51.3h.9v.9h-.9zM40.7 38.4h.9v.9h-.9zM39 45.3h.9v.9h-.9zM50.6 38.2h.9v.9h-.9zM52.6 56.8h.9v.9h-.9zM27.4 58.6h.9v.9h-.9zM47.9 34.3h.9v.9h-.9zM23.5 42.8h.9v.9h-.9zM51.1 57.3h.9v.9h-.9zM34.5 57.3h.9v.9h-.9zM41.2 57.6h.9v.9h-.9zM1.3 41.7h.9v.9h-.9zM21.4 46.4h.9v.9h-.9zM42.1 52.1h.9v.9h-.9zM25.3 54.8h.9v.9h-.9zM33.2 23.1h.9v.9h-.9zM53.9 55.7h.9v.9h-.9zM40.7 56.5h.9v.9h-.9zM27 55.5h.9v.9h-.9zM54.8 58.7h.9v.9h-.9zM42 43.2h.9v.9h-.9zM42.9 41.9h.9v.9h-.9zM6.4 38h.9v.9h-.9zM38.4 39.1h.9v.9h-.9zM57.4 51.7h.9v.9h-.9zM39 52h.9v.9h-.9zM12.3 47.1h.9v.9h-.9zM36.4 42.3h.9v.9h-.9zM43.6 58.6h.9v.9h-.9zM20.8 50.1h.9v.9h-.9zM57.9 47.7h.9v.9h-.9zM54.9 54.2h.9v.9h-.9zM53.1 53.6h.9v.9h-.9zM21.1 57.1h.9v.9h-.9zM55.1 53.1h.9v.9h-.9zM23.4 58.2h.9v.9h-.9zM45.2 41.5h.9v.9h-.9zM1.4 54.6h.9v.9h-.9zM48.1 50h.9v.9h-.9zM11.8 32.3h.9v.9h-.9zM54.8 58h.9v.9h-.9zM47.7 54.9h.9v.9h-.9zM41.3 40.8h.9v.9h-.9zM31.5 37.9h.9v.9h-.9zM39.4 41.9h.9v.9h-.9zM54 57.7h.9v.9h-.9zM20.2 49.6h.9v.9h-.9zM10 58.6h.9v.9h-.9zM52.8 58.5h.9v.9h-.9zM9.8 53.6h.9v.9h-.9zM39.4 54.3h.9v.9h-.9zM54.5 39.5h.9v.9h-.9zM58 57.3h.9v.9h-.9zM15.5 36.7h.9v.9h-.9zM29.2 46.5h.9v.9h-.9zM54.7 55.1h.9v.9h-.9zM48.5 31.4h.9v.9h-.9zM47.2 54.5h.9v.9h-.9zM21.7 49.4h.9v.9h-.9zM30.6 53.1h.9v.9h-.9zM50.9 37.3h.9v.9h-.9zM54.2 58.1h.9v.9h-.9zM47.6 58.6h.9v.9h-.9zM27.9 44.9h.9v.9h-.9zM33.5 57.9h.9v.9h-.9zM31.7 56.8h.9v.9h-.9zM25.5 55.2h.9v.9h-.9zM30.7 44.6h.9v.9h-.9zM37.7 43.9h.9v.9h-.9zM37.7 49.4h.9v.9h-.9zM56.3 53.7h.9v.9h-.9zM32.4 38.2h.9v.9h-.9zM49.8 37.5h.9v.9h-.9zM42.9 56.2h.9v.9h-.9zM58.8 56.3h.9v.9h-.9zM49.5 52h.9v.9h-.9zM52.5 58h.9v.9h-.9zM41.9 54.1h.9v.9h-.9zM51 57.1h.9v.9h-.9zM21.4 53.9h.9v.9h-.9zM39.3 53.6h.9v.9h-.9zM39.7 55.7h.9v.9h-.9zM55.2 58.3h.9v.9h-.9zM21.7 58.1h.9v.9h-.9zM41.7 52.3h.9v.9h-.9zM50.8 51.6h.9v.9h-.9zM29 54h.9v.9h-.9zM47.3 57.6h.9v.9h-.9zM17.2 51.2h.9v.9h-.9zM42.9 57.9h.9v.9h-.9zM41.2 58.9h.9v.9h-.9zM39.9 51.9h.9v.9h-.9zM49.9 47.9h.9v.9h-.9zM43.4 41.1h.9v.9h-.9zM40.1 58h.9v.9h-.9zM47.1 52.4h.9v.9h-.9zM29.5 30h.9v.9h-.9zM44.1 53.8h.9v.9h-.9zM36.2 40.3h.9v.9h-.9zM39.7 40.9h.9v.9h-.9zM23.8 45.4h.9v.9h-.9zM25.2 55.5h.9v.9h-.9zM31.8 51.6h.9v.9h-.9zM59.2 27.3h.9v.9h-.9zM7 33.8h.9v.9h-.9zM59.3 56.2h.9v.9h-.9zM28.8 45.6h.9v.9h-.9zM28 56.1h.9v.9h-.9zM56.8 42.5h.9v.9h-.9zM38.2 56.5h.9v.9h-.9zM45.4 54.1h.9v.9h-.9zM27.5 42.4h.9v.9h-.9zM27.6 30.7h.9v.9h-.9zM14 53.6h.9v.9h-.9zM38.1 56.6h.9v.9h-.9zM29 44.4h.9v.9h-.9zM50.4 57.9h.9v.9h-.9zM39.7 55.5h.9v.9h-.9zM29.6 31.6h.9v.9h-.9zM42.2 43.6h.9v.9h-.9zM47.4 54.1h.9v.9h-.9zM57.7 46h.9v.9h-.9zM39.9 54.8h.9v.9h-.9zM35.9 54.7h.9v.9h-.9zM9.3 57.2h.9v.9h-.9zM42.2 52.9h.9v.9h-.9zM46.5 54.6h.9v.9h-.9zM34.2 41h.9v.9h-.9zM38 57.8h.9v.9h-.9zM49.2 53.6h.9v.9h-.9zM39.5 56h.9v.9h-.9zM35.7 55.6h.9v.9h-.9zM26.4 39.4h.9v.9h-.9zM41.9 52.7h.9v.9h-.9zM47 55.1h.9v.9h-.9zM23.7 40.5h.9v.9h-.9zM29.7 44.5h.9v.9h-.9zM42.8 55.1h.9v.9h-.9zM48.6 46.8h.9v.9h-.9zM54.2 56.6h.9v.9h-.9zM37.7 55.9h.9v.9h-.9zM50.4 42.4h.9v.9h-.9zM47 58.8h.9v.9h-.9zM58.3 57.6h.9v.9h-.9zM57.6 47.9h.9v.9h-.9zM48 53.9h.9v.9h-.9zM29.6 45.8h.9v.9h-.9zM30.6 55.8h.9v.9h-.9zM30.9 50.6h.9v.9h-.9zM39.5 53.9h.9v.9h-.9zM37.2 55.3h.9v.9h-.9zM29.2 54h.9v.9h-.9zM50.3 56.1h.9v.9h-.9zM25.1 57.2h.9v.9h-.9zM18.9 47.5h.9v.9h-.9zM36.8 40.7h.9v.9h-.9zM24.9 39.8h.9v.9h-.9zM33.4 54.2h.9v.9h-.9zM41.8 55h.9v.9h-.9zM19.6 36.4h.9v.9h-.9zM37.3 56.1h.9v.9h-.9zM54.6 52.2h.9v.9h-.9zM40 45.6h.9v.9h-.9zM45.3 47.3h.9v.9h-.9zM34 53.2h.9v.9h-.9zM3.3 54.3h.9v.9h-.9zM16.3 42.3h.9v.9h-.9zM58.6 42.2h.9v.9h-.9zM44.4 44h.9v.9h-.9zM45.6 46.1h.9v.9h-.9zM32.6 34.2h.9v.9h-.9zM31.7 50.5h.9v.9h-.9zM26.2 57.9h.9v.9h-.9zM27.5 51.6h.9v.9h-.9zM13.7 42.2h.9v.9h-.9zM37.6 49.4h.9v.9h-.9zM40.4 55.4h.9v.9h-.9zM27.9 42h.9v.9h-.9zM45.3 57.3h.9v.9h-.9zM44.8 54.4h.9v.9h-.9zM57.1 50.5h.9v.9h-.9zM34.1 55.2h.9v.9h-.9zM32.5 58.7h.9v.9h-.9zM51.2 55.4h.9v.9h-.9zM31.5 43.1h.9v.9h-.9zM48.3 49.9h.9v.9h-.9zM46.2 41.1h.9v.9h-.9zM28.5 55.7h.9v.9h-.9zM0.5 49.4h.9v.9h-.9zM54.2 55.9h.9v.9h-.9zM33.2 55.2h.9v.9h-.9zM35.6 54.3h.9v.9h-.9zM53.7 57.1h.9v.9h-.9zM44.5 56.5h.9v.9h-.9zM42.1 58.8h.9v.9h-.9zM19.5 54.9h.9v.9h-.9zM50 53.3h.9v.9h-.9zM34.8 39.9h.9v.9h-.9zM47.1 58.2h.9v.9h-.9zM31.5 56.4h.9v.9h-.9zM43.8 58h.9v.9h-.9zM7.5 49h.9v.9h-.9zM11.7 52h.9v.9h-.9zM42.1 50.1h.9v.9h-.9zM48 49.2h.9v.9h-.9zM27.5 48.9h.9v.9h-.9zM57.2 55.3h.9v.9h-.9zM41.5 52.2h.9v.9h-.9zM56.7 54.2h.9v.9h-.9zM31.2 54.4h.9v.9h-.9zM29.7 55h.9v.9h-.9zM53.2 52.7h.9v.9h-.9zM55.2 58.6h.9v.9h-.9zM29.2 57.1h.9v.9h-.9zM22.3 51.6h.9v.9h-.9zM47.4 54.7h.9v.9h-.9zM27.9 56.8h.9v.9h-.9zM30.6 49.2h.9v.9h-.9zM35.8 46.9h.9v.9h-.9zM49.7 58.4h.9v.9h-.9zM43.6 55h.9v.9h-.9zM32.2 51h.9v.9h-.9zM35.3 58.5h.9v.9h-.9zM34.1 30.5h.9v.9h-.9zM52.2 58.6h.9v.9h-.9zM25.5 51h.9v.9h-.9zM43.1 57.7h.9v.9h-.9zM21.1 42.9h.9v.9h-.9zM30.7 52.3h.9v.9h-.9zM23.5 56.1h.9v.9h-.9zM31.1 40h.9v.9h-.9zM23.4 44.6h.9v.9h-.9zM20.8 49h.9v.9h-.9zM15.9 46.6h.9v.9h-.9zM38.5 58.3h.9v.9h-.9zM26.4 53.8h.9v.9h-.9zM21.3 56.5h.9v.9h-.9zM32.2 56.5h.9v.9h-.9zM49.7 56h.9v.9h-.9zM44.5 56.4h.9v.9h-.9zM28.1 43.8h.9v.9h-.9zM18.8 54.6h.9v.9h-.9zM25.7 43.5h.9v.9h-.9zM50.8 56.7h.9v.9h-.9zM42.2 55.2h.9v.9h-.9zM9.1 56.9h.9v.9h-.9zM40.6 55.3h.9v.9h-.9zM18.5 50.4h.9v.9h-.9zM56.2 58.6h.9v.9h-.9zM34.8 51.1h.9v.9h-.9zM52.3 46.9h.9v.9h-.9zM37.1 47.1h.9v.9h-.9zM38.9 41.4h.9v.9h-.9zM46.2 39.7h.9v.9h-.9zM25.2 48.7h.9v.9h-.9zM33.2 54.9h.9v.9h-.9zM8.1 52.5h.9v.9h-.9zM40.8 55.2h.9v.9h-.9zM47 56.2h.9v.9h-.9zM29.8 54h.9v.9h-.9zM37.1 38.6h.9v.9h-.9zM54.9 54.7h.9v.9h-.9zM48.1 38h.9v.9h-.9zM51.6 47.3h.9v.9h-.9zM28.4 43.3h.9v.9h-.9zM29.1 56h.9v.9h-.9zM41.5 57.7h.9v.9h-.9zM37 33h.9v.9h-.9zM51.2 44.2h.9v.9h-.9zM39 55.1h.9v.9h-.9zM36.1 31.2h.9v.9h-.9zM47.8 40h.9v.9h-.9zM37.8 23.9h.9v.9h-.9zM42.1 39.3h.9v.9h-.9zM19.6 58.9h.9v.9h-.9zM39.3 50.7h.9v.9h-.9zM32.2 38.8h.9v.9h-.9zM52.4 52.9h.9v.9h-.9zM47.9 31.2h.9v.9h-.9zM28.4 51.4h.9v.9h-.9zM58.3 50.6h.9v.9h-.9zM20.6 51.3h.9v.9h-.9zM45 29.9h.9v.9h-.9zM24 42.8h.9v.9h-.9zM33.4 33.8h.9v.9h-.9zM23.3 38.3h.9v.9h-.9zM50 49.3h.9v.9h-.9zM31.4 43.2h.9v.9h-.9zM39.7 39.6h.9v.9h-.9zM32.3 30.8h.9v.9h-.9zM44.8 53.9h.9v.9h-.9zM45.6 57h.9v.9h-.9zM43.5 51.8h.9v.9h-.9zM26.8 57.6h.9v.9h-.9zM55.1 57.8h.9v.9h-.9zM52 56.1h.9v.9h-.9zM15.8 39.5h.9v.9h-.9zM11.5 42.2h.9v.9h-.9zM22.5 55.9h.9v.9h-.9zM38.5 50h.9v.9h-.9zM45.6 52.1h.9v.9h-.9zM22.1 56h.9v.9h-.9zM50.4 54.8h.9v.9h-.9zM52.2 56.1h.9v.9h-.9zM50.1 47.2h.9v.9h-.9zM38.5 57.1h.9v.9h-.9zM46.2 47.7h.9v.9h-.9zM29.7 38.7h.9v.9h-.9zM30.7 40.6h.9v.9h-.9zM43.4 56.1h.9v.9h-.9zM34.5 45.5h.9v.9h-.9zM51.8 40.5h.9v.9h-.9zM41.3 42.6h.9v.9h-.9zM34.3 43.4h.9v.9h-.9zM27.2 33.7h.9v.9h-.9zM2.4 47.2h.9v.9h-.9zM51.5 37.6h.9v.9h-.9zM47.4 54.4h.9v.9h-.9zM44.3 53.2h.9v.9h-.9zM32.4 44.5h.9v.9h-.9zM8.5 56.2h.9v.9h-.9zM38.7 48.4h.9v.9h-.9zM44.3 45.1h.9v.9h-.9zM38.3 48.6h.9v.9h-.9zM29.9 36.1h.9v.9h-.9zM29.5 41.7h.9v.9h-.9zM28.9 41.8h.9v.9h-.9zM44.8 57.2h.9v.9h-.9zM31.1 52.6h.9v.9h-.9zM19.4 50.4h.9v.9h-.9zM24.2 47.3h.9v.9h-.9zM47.9 54.5h.9v.9h-.9zM18.5 56.2h.9v.9h-.9zM48.6 55.5h.9v.9h-.9zM28.7 50.4h.9v.9h-.9zM34.6 35.6h.9v.9h-.9zM41.7 51.7h.9v.9h-.9zM48.5 49.4h.9v.9h-.9zM21.8 47.2h.9v.9h-.9zM52.4 26.6h.9v.9h-.9zM14.2 43.9h.9v.9h-.9zM21 55.3h.9v.9h-.9zM7.6 50.8h.9v.9h-.9zM33 55.9h.9v.9h-.9zM40.5 49.1h.9v.9h-.9zM56.1 57.6h.9v.9h-.9zM50.5 52.6h.9v.9h-.9zM45.5 54h.9v.9h-.9zM30.2 44.6h.9v.9h-.9zM45.3 50.4h.9v.9h-.9zM26.4 44.5h.9v.9h-.9zM30.5 46.9h.9v.9h-.9zM24.8 44.4h.9v.9h-.9zM19.1 41.9h.9v.9h-.9zM21.3 57.4h.9v.9h-.9zM22.6 57.6h.9v.9h-.9zM34.7 54.6h.9v.9h-.9zM51.7 46.3h.9v.9h-.9zM9.2 49.8h.9v.9h-.9zM0.3 56.3h.9v.9h-.9zM34.8 51.4h.9v.9h-.9zM36.5 42.6h.9v.9h-.9zM26.9 38.1h.9v.9h-.9zM58.7 55.1h.9v.9h-.9zM37.6 43.1h.9v.9h-.9zM23.6 54.4h.9v.9h-.9zM22.1 31.7h.9v.9h-.9zM57.8 44.8h.9v.9h-.9zM42.3 57h.9v.9h-.9zM59.3 56.5h.9v.9h-.9zM28.7 41.8h.9v.9h-.9zM31.7 49.4h.9v.9h-.9zM51.7 55.3h.9v.9h-.9zM37.3 56.4h.9v.9h-.9zM36.3 33.5h.9v.9h-.9zM8 44.9h.9v.9h-.9zM19.3 47.9h.9v.9h-.9zM17.6 42.2h.9v.9h-.9zM14.9 42.1h.9v.9h-.9zM34.2 57.3h.9v.9h-.9zM54.1 43.7h.9v.9h-.9zM40.5 50.8h.9v.9h-.9zM43.9 58.4h.9v.9h-.9zM54.5 57.5h.9v.9h-.9zM51.1 53h.9v.9h-.9zM31.9 55.2h.9v.9h-.9zM36.7 45.5h.9v.9h-.9zM44.7 55.6h.9v.9h-.9zM29.5 30.8h.9v.9h-.9zM47.1 50.6h.9v.9h-.9zM28.2 57h.9v.9h-.9zM46 55.7h.9v.9h-.9zM14.8 51.9h.9v.9h-.9zM23.4 42.3h.9v.9h-.9zM24.9 54h.9v.9h-.9zM45.2 49.3h.9v.9h-.9z"/>
<rect x="39.20" y="399.40" width="60.20" height="59.80" fill="none" stroke="#8a8a8a" stroke-width="0.8"/>
<line x1="37.70" y1="407.50" x2="39.20" y2="407.50" stroke="#8a8a8a" stroke-width="0.7"/>
<line x1="37.70" y1="415.50" x2="39.20" y2="415.50" stroke="#8a8a8a" stroke-width="0.7"/>
<line x1="37.70" y1="425.60" x2="39.20" y2="425.60" stroke="#8a8a8a" stroke-width="0.7"/>
<line x1="37.70" y1="433.40" x2="39.20" y2="433.40" stroke="#8a8a8a" stroke-width="0.7"/>
<text transform="translate(69.30,395.80) scale(1.0,1.0)" font-size="6.7" text-anchor="middle" font-weight="normal" fill="#111" color="#111" style="stroke-width:0.22px">Lymphocytes</text>
<text transform="translate(42.60,418.30) scale(1.0,1.0)" font-size="5.6" text-anchor="start" font-weight="normal" fill="#222" color="#222"><tspan>CD19</tspan><tspan dy="-2.2" font-size="3.6">+</tspan><tspan dy="2.2">CD5</tspan><tspan dy="-2.2" font-size="3.6">+</tspan></text>
<text transform="translate(56.30,423.20) scale(1.0,1.0)" font-size="2.6" text-anchor="middle" font-weight="normal" fill="#777" color="#777">n.x</text>
<text transform="translate(33.80,410.00) scale(1.0,1.0)" font-size="6.7" text-anchor="end" font-weight="normal" fill="#333" color="#333" style="stroke-width:0.2px">10<tspan dy="-2.6" font-size="4.29">2</tspan></text>
<text transform="translate(33.80,435.70) scale(1.0,1.0)" font-size="6.7" text-anchor="end" font-weight="normal" fill="#333" color="#333" style="stroke-width:0.2px">10<tspan dy="-2.6" font-size="4.29">1</tspan></text>
<text transform="translate(33.80,460.40) scale(1.0,1.0)" font-size="6.7" text-anchor="end" font-weight="normal" fill="#333" color="#333" style="stroke-width:0.2px">10<tspan dy="-2.6" font-size="4.29">0</tspan></text>
<text transform="translate(39.00,470.00) scale(1.0,1.0)" font-size="6.7" text-anchor="middle" font-weight="normal" fill="#333" color="#333" style="stroke-width:0.2px">10<tspan dy="-2.6" font-size="4.29">0</tspan></text>
<text transform="translate(65.60,470.00) scale(1.0,1.0)" font-size="6.7" text-anchor="middle" font-weight="normal" fill="#333" color="#333" style="stroke-width:0.2px">10<tspan dy="-2.6" font-size="4.29">1</tspan></text>
<text transform="translate(93.00,470.00) scale(1.0,1.0)" font-size="6.7" text-anchor="middle" font-weight="normal" fill="#333" color="#333" style="stroke-width:0.2px">10<tspan dy="-2.6" font-size="4.29">2</tspan></text>
<line x1="20.50" y1="460.00" x2="20.50" y2="406.80" stroke="#111" stroke-width="1.3"/>
<path d="M20.50,403.30 L18.60,407.60 L22.40,407.60 Z" fill="#111"/>
<line x1="36.00" y1="474.80" x2="91.50" y2="474.80" stroke="#111" stroke-width="1.3"/>
<path d="M95.00,474.80 L90.70,472.90 L90.70,476.70 Z" fill="#111"/>
<text transform="translate(16.10,433.70) rotate(-90) scale(0.56,1)" font-size="10.0" text-anchor="middle" font-weight="bold" fill="#1a1a1a" color="#1a1a1a" style="stroke-width:0.3px">CD19</text>
<text transform="translate(64.45,485.60) scale(0.62,1.0)" font-size="9.6" text-anchor="middle" font-weight="bold" fill="#1a1a1a" color="#1a1a1a" style="stroke-width:0.3px">CD5</text>
<g transform="translate(132.00,331.00)" shape-rendering="crispEdges"><path fill="#3232aa" d="M17 11h1v1h-1zM12 12h2v1h-2zM7 13h2v1h-2zM11 13h3v1h-3zM15 13h1v1h-1zM7 14h1v1h-1zM9 14h1v1h-1zM20 14h1v1h-1zM1 15h1v1h-1zM5 15h2v1h-2zM8 15h1v1h-1zM13 15h1v1h-1zM15 15h1v1h-1zM20 15h1v1h-1zM23 15h1v1h-1zM3 17h1v1h-1zM2 18h1v1h-1zM25 18h1v1h-1zM25 20h1v1h-1zM28 20h1v1h-1zM0 21h1v1h-1zM27 21h2v1h-2zM28 22h2v1h-2zM29 23h1v1h-1zM31 23h1v1h-1zM30 24h1v1h-1zM30 25h1v1h-1zM29 27h3v1h-3zM30 28h2v1h-2zM30 30h2v1h-2zM29 34h1v1h-1zM33 34h1v1h-1zM30 35h2v1h-2zM28 36h1v1h-1zM31 37h2v1h-2zM30 38h2v1h-2zM29 39h2v1h-2zM31 40h1v1h-1zM31 41h1v1h-1zM32 42h1v1h-1zM34 42h1v1h-1zM30 43h1v1h-1zM31 45h1v1h-1zM29 46h1v1h-1zM31 46h1v1h-1zM29 47h1v1h-1zM31 47h1v1h-1zM30 48h2v1h-2zM0 49h1v1h-1zM28 49h1v1h-1zM30 49h2v1h-2zM0 50h1v1h-1zM27 50h1v1h-1zM30 50h1v1h-1zM34 50h1v1h-1zM2 51h1v1h-1zM30 51h1v1h-1zM0 52h3v1h-3zM28 52h2v1h-2zM0 53h1v1h-1zM3 53h1v1h-1zM27 53h1v1h-1zM29 53h1v1h-1zM32 53h1v1h-1zM1 54h2v1h-2zM24 54h1v1h-1zM28 54h1v1h-1zM30 54h1v1h-1zM2 55h1v1h-1zM8 55h1v1h-1zM19 55h1v1h-1zM23 55h1v1h-1zM25 55h3v1h-3zM29 55h1v1h-1zM31 55h1v1h-1zM2 56h1v1h-1zM4 56h3v1h-3zM8 56h1v1h-1zM11 56h1v1h-1zM23 56h2v1h-2zM26 56h1v1h-1zM28 56h1v1h-1zM2 57h1v1h-1zM9 57h2v1h-2zM12 57h1v1h-1zM16 57h1v1h-1zM18 57h1v1h-1zM20 57h2v1h-2zM29 57h1v1h-1zM1 58h1v1h-1zM16 58h4v1h-4zM22 58h1v1h-1zM24 58h1v1h-1zM4 59h1v1h-1zM11 59h1v1h-1zM13 59h1v1h-1z"/><path fill="#2c2c9e" d="M9 13h1v1h-1zM16 13h1v1h-1zM8 14h1v1h-1zM11 14h5v1h-5zM18 14h1v1h-1zM9 15h2v1h-2zM12 15h1v1h-1zM14 15h1v1h-1zM16 15h4v1h-4zM22 15h1v1h-1zM4 16h4v1h-4zM10 16h1v1h-1zM17 16h1v1h-1zM19 16h6v1h-6zM4 17h4v1h-4zM21 17h3v1h-3zM3 18h2v1h-2zM6 18h1v1h-1zM22 18h3v1h-3zM2 19h1v1h-1zM4 19h1v1h-1zM25 19h2v1h-2zM0 20h3v1h-3zM26 20h2v1h-2zM2 21h1v1h-1zM26 21h1v1h-1zM0 22h1v1h-1zM27 22h1v1h-1zM27 23h2v1h-2zM27 24h3v1h-3zM0 25h1v1h-1zM27 25h1v1h-1zM29 25h1v1h-1zM28 26h2v1h-2zM29 29h1v1h-1zM28 30h2v1h-2zM28 31h1v1h-1zM31 31h1v1h-1zM29 32h2v1h-2zM29 33h2v1h-2zM28 34h1v1h-1zM30 34h2v1h-2zM27 35h1v1h-1zM29 35h1v1h-1zM29 36h3v1h-3zM27 37h3v1h-3zM27 38h2v1h-2zM28 39h1v1h-1zM30 40h1v1h-1zM32 40h1v1h-1zM28 41h3v1h-3zM26 42h5v1h-5zM28 43h2v1h-2zM28 44h3v1h-3zM0 45h1v1h-1zM23 45h1v1h-1zM26 45h3v1h-3zM0 46h3v1h-3zM26 46h3v1h-3zM30 46h1v1h-1zM0 47h2v1h-2zM26 47h1v1h-1zM28 47h1v1h-1zM30 47h1v1h-1zM0 48h3v1h-3zM4 48h1v1h-1zM24 48h1v1h-1zM27 48h2v1h-2zM1 49h1v1h-1zM4 49h1v1h-1zM26 49h2v1h-2zM1 50h2v1h-2zM6 50h1v1h-1zM25 50h1v1h-1zM28 50h2v1h-2zM0 51h2v1h-2zM3 51h2v1h-2zM23 51h6v1h-6zM3 52h5v1h-5zM22 52h1v1h-1zM25 52h3v1h-3zM2 53h1v1h-1zM4 53h4v1h-4zM19 53h4v1h-4zM24 53h3v1h-3zM28 53h1v1h-1zM4 54h3v1h-3zM8 54h3v1h-3zM13 54h2v1h-2zM17 54h1v1h-1zM22 54h2v1h-2zM25 54h3v1h-3zM0 55h1v1h-1zM4 55h4v1h-4zM9 55h3v1h-3zM13 55h2v1h-2zM16 55h3v1h-3zM20 55h3v1h-3zM24 55h1v1h-1zM9 56h2v1h-2zM12 56h10v1h-10zM5 57h1v1h-1zM8 57h1v1h-1zM11 57h1v1h-1zM13 57h3v1h-3zM17 57h1v1h-1zM19 57h1v1h-1zM22 57h1v1h-1zM15 58h1v1h-1zM23 59h1v1h-1z"/><path fill="#262691" d="M7 15h1v1h-1zM11 15h1v1h-1zM8 16h2v1h-2zM11 16h2v1h-2zM15 16h2v1h-2zM8 17h2v1h-2zM12 17h1v1h-1zM18 17h3v1h-3zM5 18h1v1h-1zM7 18h1v1h-1zM9 18h1v1h-1zM19 18h1v1h-1zM21 18h1v1h-1zM3 19h1v1h-1zM5 19h2v1h-2zM23 19h2v1h-2zM23 20h2v1h-2zM1 21h1v1h-1zM3 21h2v1h-2zM25 21h1v1h-1zM1 22h3v1h-3zM24 22h3v1h-3zM0 23h3v1h-3zM25 23h2v1h-2zM0 24h2v1h-2zM25 24h2v1h-2zM25 25h2v1h-2zM0 26h1v1h-1zM27 26h1v1h-1zM27 27h2v1h-2zM28 28h2v1h-2zM28 29h1v1h-1zM0 31h1v1h-1zM27 31h1v1h-1zM29 31h2v1h-2zM26 32h3v1h-3zM0 33h1v1h-1zM26 33h3v1h-3zM27 34h1v1h-1zM26 35h1v1h-1zM28 35h1v1h-1zM0 36h1v1h-1zM27 36h1v1h-1zM0 37h1v1h-1zM26 37h1v1h-1zM26 38h1v1h-1zM29 38h1v1h-1zM0 39h2v1h-2zM0 40h1v1h-1zM27 40h2v1h-2zM0 41h3v1h-3zM24 41h1v1h-1zM26 41h2v1h-2zM0 42h1v1h-1zM2 42h1v1h-1zM25 42h1v1h-1zM0 43h3v1h-3zM26 43h2v1h-2zM0 44h2v1h-2zM4 44h1v1h-1zM22 44h6v1h-6zM1 45h1v1h-1zM3 45h1v1h-1zM22 45h1v1h-1zM24 45h2v1h-2zM3 46h1v1h-1zM23 46h3v1h-3zM3 47h1v1h-1zM5 47h1v1h-1zM24 47h2v1h-2zM27 47h1v1h-1zM3 48h1v1h-1zM6 48h1v1h-1zM18 48h1v1h-1zM20 48h1v1h-1zM22 48h2v1h-2zM26 48h1v1h-1zM2 49h2v1h-2zM5 49h2v1h-2zM8 49h1v1h-1zM23 49h1v1h-1zM25 49h1v1h-1zM3 50h3v1h-3zM7 50h2v1h-2zM15 50h1v1h-1zM20 50h5v1h-5zM26 50h1v1h-1zM5 51h4v1h-4zM10 51h1v1h-1zM19 51h4v1h-4zM8 52h5v1h-5zM14 52h1v1h-1zM21 52h1v1h-1zM23 52h2v1h-2zM8 53h1v1h-1zM10 53h3v1h-3zM14 53h4v1h-4zM23 53h1v1h-1zM7 54h1v1h-1zM11 54h2v1h-2zM15 54h2v1h-2zM19 54h3v1h-3zM12 55h1v1h-1zM15 55h1v1h-1z"/><path fill="#272c94" d="M13 16h2v1h-2zM18 16h1v1h-1zM10 17h1v1h-1zM13 17h5v1h-5zM8 18h1v1h-1zM10 18h2v1h-2zM16 18h3v1h-3zM20 18h1v1h-1zM7 19h2v1h-2zM11 19h1v1h-1zM21 19h2v1h-2zM3 20h4v1h-4zM8 20h1v1h-1zM20 20h3v1h-3zM5 21h1v1h-1zM23 21h2v1h-2zM24 23h1v1h-1zM2 24h1v1h-1zM24 24h1v1h-1zM1 25h2v1h-2zM24 25h1v1h-1zM1 26h1v1h-1zM25 26h2v1h-2zM0 27h2v1h-2zM3 27h1v1h-1zM25 27h2v1h-2zM0 28h2v1h-2zM26 28h2v1h-2zM0 29h1v1h-1zM2 29h1v1h-1zM27 29h1v1h-1zM0 30h2v1h-2zM26 30h2v1h-2zM1 31h1v1h-1zM25 31h2v1h-2zM0 32h2v1h-2zM1 33h1v1h-1zM0 34h1v1h-1zM26 34h1v1h-1zM0 35h1v1h-1zM24 35h2v1h-2zM1 36h1v1h-1zM23 36h4v1h-4zM1 37h2v1h-2zM25 37h1v1h-1zM0 38h3v1h-3zM25 38h1v1h-1zM2 39h1v1h-1zM22 39h1v1h-1zM25 39h3v1h-3zM1 40h2v1h-2zM5 40h1v1h-1zM23 40h4v1h-4zM3 41h3v1h-3zM22 41h2v1h-2zM25 41h1v1h-1zM1 42h1v1h-1zM4 42h1v1h-1zM6 42h1v1h-1zM21 42h4v1h-4zM3 43h2v1h-2zM21 43h5v1h-5zM2 44h2v1h-2zM5 44h1v1h-1zM17 44h1v1h-1zM20 44h1v1h-1zM2 45h1v1h-1zM4 45h2v1h-2zM18 45h2v1h-2zM21 45h1v1h-1zM4 46h2v1h-2zM8 46h3v1h-3zM14 46h1v1h-1zM19 46h4v1h-4zM2 47h1v1h-1zM4 47h1v1h-1zM6 47h3v1h-3zM10 47h1v1h-1zM21 47h1v1h-1zM23 47h1v1h-1zM5 48h1v1h-1zM7 48h4v1h-4zM14 48h1v1h-1zM17 48h1v1h-1zM25 48h1v1h-1zM7 49h1v1h-1zM9 49h2v1h-2zM13 49h1v1h-1zM15 49h3v1h-3zM20 49h3v1h-3zM24 49h1v1h-1zM9 50h2v1h-2zM12 50h3v1h-3zM16 50h3v1h-3zM9 51h1v1h-1zM11 51h2v1h-2zM14 51h5v1h-5zM13 52h1v1h-1zM15 52h6v1h-6zM9 53h1v1h-1zM13 53h1v1h-1zM18 53h1v1h-1zM18 54h1v1h-1z"/><path fill="#2b39a0" d="M11 17h1v1h-1zM9 19h2v1h-2zM14 19h1v1h-1zM17 19h4v1h-4zM7 20h1v1h-1zM10 20h1v1h-1zM19 20h1v1h-1zM6 21h1v1h-1zM20 21h3v1h-3zM4 22h2v1h-2zM22 22h2v1h-2zM3 23h3v1h-3zM22 23h1v1h-1zM3 24h2v1h-2zM23 24h1v1h-1zM3 25h1v1h-1zM2 26h2v1h-2zM24 26h1v1h-1zM2 27h1v1h-1zM23 27h2v1h-2zM3 28h2v1h-2zM23 28h3v1h-3zM1 29h1v1h-1zM24 29h3v1h-3zM2 30h2v1h-2zM24 30h2v1h-2zM3 31h1v1h-1zM24 31h1v1h-1zM2 32h3v1h-3zM25 32h1v1h-1zM2 33h1v1h-1zM22 33h1v1h-1zM25 33h1v1h-1zM1 34h2v1h-2zM23 34h3v1h-3zM1 35h3v1h-3zM2 36h3v1h-3zM3 37h2v1h-2zM23 37h2v1h-2zM3 38h1v1h-1zM5 38h1v1h-1zM23 38h2v1h-2zM3 39h3v1h-3zM20 39h2v1h-2zM23 39h2v1h-2zM3 40h1v1h-1zM7 40h1v1h-1zM21 40h2v1h-2zM6 41h2v1h-2zM17 41h1v1h-1zM19 41h2v1h-2zM3 42h1v1h-1zM5 42h1v1h-1zM7 42h1v1h-1zM9 42h1v1h-1zM5 43h4v1h-4zM16 43h2v1h-2zM19 43h2v1h-2zM6 44h3v1h-3zM16 44h1v1h-1zM18 44h2v1h-2zM21 44h1v1h-1zM6 45h4v1h-4zM11 45h1v1h-1zM13 45h1v1h-1zM17 45h1v1h-1zM20 45h1v1h-1zM6 46h2v1h-2zM15 46h4v1h-4zM9 47h1v1h-1zM11 47h4v1h-4zM17 47h4v1h-4zM22 47h1v1h-1zM11 48h3v1h-3zM16 48h1v1h-1zM19 48h1v1h-1zM21 48h1v1h-1zM11 49h2v1h-2zM14 49h1v1h-1zM18 49h2v1h-2zM11 50h1v1h-1zM19 50h1v1h-1zM13 51h1v1h-1z"/><path fill="#3658b4" d="M12 18h4v1h-4zM12 19h2v1h-2zM16 19h1v1h-1zM16 20h1v1h-1zM18 20h1v1h-1zM7 21h2v1h-2zM18 21h2v1h-2zM6 22h1v1h-1zM20 22h2v1h-2zM23 23h1v1h-1zM5 24h1v1h-1zM22 24h1v1h-1zM4 25h1v1h-1zM22 25h2v1h-2zM23 26h1v1h-1zM4 27h1v1h-1zM2 28h1v1h-1zM3 29h2v1h-2zM22 29h2v1h-2zM22 30h2v1h-2zM2 31h1v1h-1zM5 31h1v1h-1zM22 32h1v1h-1zM24 32h1v1h-1zM4 33h1v1h-1zM23 33h2v1h-2zM4 34h1v1h-1zM22 34h1v1h-1zM4 35h1v1h-1zM22 35h2v1h-2zM5 36h1v1h-1zM21 36h2v1h-2zM21 37h2v1h-2zM4 38h1v1h-1zM8 38h1v1h-1zM7 39h1v1h-1zM19 39h1v1h-1zM4 40h1v1h-1zM6 40h1v1h-1zM8 40h2v1h-2zM13 40h1v1h-1zM16 40h1v1h-1zM19 40h2v1h-2zM9 41h2v1h-2zM18 41h1v1h-1zM21 41h1v1h-1zM8 42h1v1h-1zM10 42h1v1h-1zM12 42h4v1h-4zM17 42h3v1h-3zM9 43h6v1h-6zM9 44h3v1h-3zM13 44h3v1h-3zM10 45h1v1h-1zM12 45h1v1h-1zM14 45h3v1h-3zM11 46h3v1h-3zM15 47h2v1h-2zM15 48h1v1h-1z"/><path fill="#4584cd" d="M15 19h1v1h-1zM9 20h1v1h-1zM11 20h1v1h-1zM13 20h3v1h-3zM17 20h1v1h-1zM9 21h1v1h-1zM16 21h1v1h-1zM6 23h1v1h-1zM21 23h1v1h-1zM6 24h1v1h-1zM21 24h1v1h-1zM5 25h1v1h-1zM21 25h1v1h-1zM4 26h1v1h-1zM6 26h1v1h-1zM21 26h2v1h-2zM6 27h1v1h-1zM4 30h2v1h-2zM4 31h1v1h-1zM23 31h1v1h-1zM5 32h1v1h-1zM23 32h1v1h-1zM3 33h1v1h-1zM6 33h1v1h-1zM3 34h1v1h-1zM5 34h1v1h-1zM21 34h1v1h-1zM5 35h2v1h-2zM7 36h1v1h-1zM19 36h1v1h-1zM5 37h3v1h-3zM19 37h1v1h-1zM6 38h2v1h-2zM17 38h1v1h-1zM20 38h3v1h-3zM6 39h1v1h-1zM8 39h2v1h-2zM11 39h1v1h-1zM13 39h3v1h-3zM18 39h1v1h-1zM10 40h3v1h-3zM14 40h1v1h-1zM17 40h2v1h-2zM8 41h1v1h-1zM11 41h1v1h-1zM14 41h3v1h-3zM11 42h1v1h-1zM20 42h1v1h-1zM15 43h1v1h-1zM18 43h1v1h-1zM12 44h1v1h-1z"/><path fill="#4ca2c4" d="M12 20h1v1h-1zM10 21h3v1h-3zM14 21h1v1h-1zM17 21h1v1h-1zM7 22h3v1h-3zM18 22h2v1h-2zM7 23h2v1h-2zM18 23h3v1h-3zM7 24h1v1h-1zM20 24h1v1h-1zM6 25h3v1h-3zM5 26h1v1h-1zM21 27h2v1h-2zM6 28h1v1h-1zM22 28h1v1h-1zM5 29h1v1h-1zM21 30h1v1h-1zM21 31h2v1h-2zM6 32h1v1h-1zM20 32h2v1h-2zM7 33h1v1h-1zM21 33h1v1h-1zM6 34h2v1h-2zM20 34h1v1h-1zM20 35h2v1h-2zM6 36h1v1h-1zM9 36h1v1h-1zM20 36h1v1h-1zM12 37h1v1h-1zM16 37h3v1h-3zM20 37h1v1h-1zM11 38h1v1h-1zM13 38h4v1h-4zM18 38h2v1h-2zM10 39h1v1h-1zM12 39h1v1h-1zM16 39h2v1h-2zM15 40h1v1h-1zM12 41h2v1h-2zM16 42h1v1h-1z"/><path fill="#56c081" d="M13 21h1v1h-1zM10 22h1v1h-1zM10 23h1v1h-1zM17 23h1v1h-1zM8 24h1v1h-1zM18 24h1v1h-1zM9 25h1v1h-1zM19 25h1v1h-1zM7 27h1v1h-1zM19 27h1v1h-1zM7 28h1v1h-1zM20 28h1v1h-1zM6 30h2v1h-2zM19 30h1v1h-1zM6 31h1v1h-1zM8 31h1v1h-1zM19 31h2v1h-2zM8 32h1v1h-1zM10 32h1v1h-1zM18 32h1v1h-1zM9 33h1v1h-1zM12 33h1v1h-1zM18 33h1v1h-1zM8 34h3v1h-3zM12 34h1v1h-1zM18 34h1v1h-1zM7 35h1v1h-1zM9 35h1v1h-1zM12 35h1v1h-1zM14 35h1v1h-1zM16 35h2v1h-2zM14 36h2v1h-2zM18 36h1v1h-1zM14 37h1v1h-1z"/><path fill="#4fb6a3" d="M15 21h1v1h-1zM17 22h1v1h-1zM9 23h1v1h-1zM19 24h1v1h-1zM20 25h1v1h-1zM7 26h1v1h-1zM19 26h2v1h-2zM5 27h1v1h-1zM20 27h1v1h-1zM5 28h1v1h-1zM21 28h1v1h-1zM6 29h2v1h-2zM19 29h3v1h-3zM20 30h1v1h-1zM7 31h1v1h-1zM7 32h1v1h-1zM5 33h1v1h-1zM19 33h2v1h-2zM19 34h1v1h-1zM8 35h1v1h-1zM10 35h2v1h-2zM18 35h2v1h-2zM8 36h1v1h-1zM10 36h4v1h-4zM16 36h2v1h-2zM8 37h4v1h-4zM13 37h1v1h-1zM15 37h1v1h-1zM9 38h2v1h-2zM12 38h1v1h-1z"/><path fill="#60c25e" d="M11 22h6v1h-6zM16 23h1v1h-1zM9 24h2v1h-2zM18 25h1v1h-1zM8 26h1v1h-1zM8 27h2v1h-2zM18 27h1v1h-1zM18 28h2v1h-2zM8 29h2v1h-2zM15 31h1v1h-1zM17 31h2v1h-2zM9 32h1v1h-1zM11 32h1v1h-1zM15 32h1v1h-1zM17 32h1v1h-1zM19 32h1v1h-1zM8 33h1v1h-1zM10 33h2v1h-2zM14 33h1v1h-1zM13 34h5v1h-5zM13 35h1v1h-1zM15 35h1v1h-1z"/><path fill="#8fcc3e" d="M11 23h1v1h-1zM12 24h2v1h-2zM16 24h1v1h-1zM10 25h1v1h-1zM17 25h1v1h-1zM9 26h2v1h-2zM9 28h1v1h-1zM11 29h1v1h-1zM15 29h1v1h-1zM10 30h1v1h-1zM9 31h1v1h-1zM12 32h1v1h-1zM16 32h1v1h-1zM16 33h1v1h-1z"/><path fill="#74c649" d="M12 23h1v1h-1zM14 23h1v1h-1zM11 24h1v1h-1zM15 24h1v1h-1zM17 24h1v1h-1zM18 26h1v1h-1zM8 28h1v1h-1zM10 29h1v1h-1zM17 29h2v1h-2zM8 30h2v1h-2zM16 30h3v1h-3zM12 31h3v1h-3zM14 32h1v1h-1zM13 33h1v1h-1zM15 33h1v1h-1zM17 33h1v1h-1zM11 34h1v1h-1z"/><path fill="#aad232" d="M13 23h1v1h-1zM15 23h1v1h-1zM14 24h1v1h-1zM13 26h1v1h-1zM10 27h1v1h-1zM17 27h1v1h-1zM11 28h1v1h-1zM16 28h1v1h-1zM16 29h1v1h-1zM11 30h2v1h-2zM14 30h2v1h-2zM10 31h2v1h-2zM16 31h1v1h-1zM13 32h1v1h-1z"/><path fill="#c8d22d" d="M11 25h1v1h-1zM15 25h2v1h-2zM11 26h1v1h-1zM15 26h1v1h-1zM17 26h1v1h-1zM11 27h1v1h-1zM14 27h1v1h-1zM16 27h1v1h-1zM10 28h1v1h-1zM12 28h1v1h-1zM17 28h1v1h-1zM12 29h3v1h-3zM13 30h1v1h-1z"/><path fill="#eeb428" d="M12 25h1v1h-1zM12 26h1v1h-1zM14 26h1v1h-1zM12 27h2v1h-2zM15 28h1v1h-1z"/><path fill="#e5d229" d="M13 25h2v1h-2zM16 26h1v1h-1zM13 28h2v1h-2z"/><path fill="#ee8a28" d="M15 27h1v1h-1z"/></g>
<path transform="translate(132.00,331.00)" fill="#6a6ad0" fill-opacity="0.45" d="M16.7 58.7h.9v.9h-.9zM24.1 54.1h.9v.9h-.9zM28.5 44.6h.9v.9h-.9zM17.5 17.8h.9v.9h-.9zM15.7 49.1h.9v.9h-.9zM24.8 49.3h.9v.9h-.9zM10.9 37.7h.9v.9h-.9zM16.4 45h.9v.9h-.9zM6.4 43h.9v.9h-.9zM4.2 33.4h.9v.9h-.9zM3.9 57.2h.9v.9h-.9zM10.2 42.4h.9v.9h-.9zM24.1 57.7h.9v.9h-.9zM2.9 49.8h.9v.9h-.9zM17 17.2h.9v.9h-.9zM23.6 54.3h.9v.9h-.9zM21.4 43.7h.9v.9h-.9zM17.9 54.5h.9v.9h-.9zM27.1 48.9h.9v.9h-.9zM11.2 49.5h.9v.9h-.9zM12.4 43.1h.9v.9h-.9zM7.8 36.6h.9v.9h-.9zM29 55.3h.9v.9h-.9zM18.4 50h.9v.9h-.9zM14.7 52h.9v.9h-.9zM25.4 39.9h.9v.9h-.9zM26.2 40.9h.9v.9h-.9zM24.9 48.8h.9v.9h-.9zM16.1 49.5h.9v.9h-.9zM23 51.3h.9v.9h-.9zM24.8 29.4h.9v.9h-.9zM28.1 49.9h.9v.9h-.9zM19.6 34.6h.9v.9h-.9zM16.7 39.2h.9v.9h-.9zM29.2 55.5h.9v.9h-.9zM2.3 53.8h.9v.9h-.9zM13.2 19.9h.9v.9h-.9zM6.3 33.1h.9v.9h-.9zM34.2 52.5h.9v.9h-.9zM14 51.8h.9v.9h-.9zM7.9 53h.9v.9h-.9zM15 42.4h.9v.9h-.9zM24.9 37.9h.9v.9h-.9zM25.3 27.6h.9v.9h-.9zM17 57.2h.9v.9h-.9zM0.7 30.4h.9v.9h-.9zM13.7 35.7h.9v.9h-.9zM12.5 42.3h.9v.9h-.9zM27.1 54.1h.9v.9h-.9zM29.1 51.4h.9v.9h-.9zM11.6 42.3h.9v.9h-.9zM12 55.9h.9v.9h-.9zM12.3 51h.9v.9h-.9zM36.4 37h.9v.9h-.9zM21.3 33.2h.9v.9h-.9zM18.8 51.1h.9v.9h-.9zM10.5 51h.9v.9h-.9zM10.5 43h.9v.9h-.9zM14.8 46.6h.9v.9h-.9zM19.7 43.9h.9v.9h-.9zM37.1 43.3h.9v.9h-.9zM4.1 33.1h.9v.9h-.9zM27.7 56.8h.9v.9h-.9zM22.3 53.8h.9v.9h-.9zM30.1 41.4h.9v.9h-.9zM4.7 54h.9v.9h-.9zM23.6 51.7h.9v.9h-.9zM4.6 47.7h.9v.9h-.9zM26.7 40.9h.9v.9h-.9zM14.9 53.3h.9v.9h-.9zM29.6 48.1h.9v.9h-.9zM6.3 50.4h.9v.9h-.9zM13.6 54.1h.9v.9h-.9zM24.8 46.9h.9v.9h-.9zM14.6 55.9h.9v.9h-.9zM22.9 57h.9v.9h-.9zM28.2 54h.9v.9h-.9zM25.6 31h.9v.9h-.9zM11.9 46.3h.9v.9h-.9zM19.8 45.7h.9v.9h-.9zM17.4 30h.9v.9h-.9zM6.2 48.3h.9v.9h-.9zM24.3 40.2h.9v.9h-.9zM18.1 43.8h.9v.9h-.9zM16 50h.9v.9h-.9zM7.7 48.9h.9v.9h-.9zM15.2 49.1h.9v.9h-.9zM36.4 52.8h.9v.9h-.9zM34.1 40.7h.9v.9h-.9zM0.5 52.5h.9v.9h-.9zM32 55.7h.9v.9h-.9zM8.5 48h.9v.9h-.9zM12.8 56.3h.9v.9h-.9zM20.7 57.5h.9v.9h-.9zM15.2 56.3h.9v.9h-.9zM13.4 53.3h.9v.9h-.9zM9.1 44.1h.9v.9h-.9zM24.5 47.7h.9v.9h-.9zM30.2 37.5h.9v.9h-.9zM15.2 43.8h.9v.9h-.9zM10.6 52.9h.9v.9h-.9zM18.6 49h.9v.9h-.9zM7.9 54.6h.9v.9h-.9zM2.3 44.3h.9v.9h-.9zM6.2 51.4h.9v.9h-.9zM18.3 50.9h.9v.9h-.9zM29.6 30.6h.9v.9h-.9zM11.6 54.2h.9v.9h-.9zM16.2 53.8h.9v.9h-.9zM16.3 30.2h.9v.9h-.9zM23.6 52.7h.9v.9h-.9zM14.8 31h.9v.9h-.9zM13.7 32.1h.9v.9h-.9zM10.6 55.7h.9v.9h-.9zM19.5 51.9h.9v.9h-.9zM27 52.3h.9v.9h-.9zM17.8 41.5h.9v.9h-.9zM10.8 58.7h.9v.9h-.9zM22.8 56.9h.9v.9h-.9zM25.3 37.5h.9v.9h-.9zM36.1 37.3h.9v.9h-.9zM3.6 47h.9v.9h-.9zM31.1 40.9h.9v.9h-.9zM22.5 50.8h.9v.9h-.9zM34.9 46.4h.9v.9h-.9zM36.5 43.1h.9v.9h-.9zM38.9 44.4h.9v.9h-.9zM26.7 54h.9v.9h-.9zM19.9 24.9h.9v.9h-.9zM28 51.2h.9v.9h-.9zM6.2 48.7h.9v.9h-.9zM16.2 40.9h.9v.9h-.9zM9.1 29.1h.9v.9h-.9zM21.1 52h.9v.9h-.9zM37.5 49.9h.9v.9h-.9zM14.6 58.1h.9v.9h-.9zM19.9 52.7h.9v.9h-.9zM35.7 28.3h.9v.9h-.9zM12.3 19.3h.9v.9h-.9zM15.4 58.1h.9v.9h-.9zM16 49.2h.9v.9h-.9zM8.7 59h.9v.9h-.9zM17.5 34.2h.9v.9h-.9zM36 39.6h.9v.9h-.9zM24.7 41.1h.9v.9h-.9zM24.1 53.1h.9v.9h-.9zM4 54h.9v.9h-.9zM23.7 44.2h.9v.9h-.9zM11 41.1h.9v.9h-.9zM20.9 27.2h.9v.9h-.9zM4.1 56.2h.9v.9h-.9zM25.8 41.3h.9v.9h-.9zM19.2 55.9h.9v.9h-.9zM29.2 55h.9v.9h-.9zM12 55.1h.9v.9h-.9zM18.9 46.5h.9v.9h-.9zM7.1 54.9h.9v.9h-.9zM14.7 56.6h.9v.9h-.9zM8.6 55.6h.9v.9h-.9zM28.5 44.8h.9v.9h-.9zM8.4 44.3h.9v.9h-.9zM22.5 58.4h.9v.9h-.9zM4.3 49.9h.9v.9h-.9zM33.8 33.3h.9v.9h-.9zM14.1 42.3h.9v.9h-.9zM14.6 43.2h.9v.9h-.9zM22.4 56.5h.9v.9h-.9zM19.9 53.3h.9v.9h-.9zM12.4 55.5h.9v.9h-.9zM4.9 49.7h.9v.9h-.9zM39.3 44.8h.9v.9h-.9zM12.6 23.5h.9v.9h-.9zM31.5 36.9h.9v.9h-.9zM5.1 25.2h.9v.9h-.9zM28.2 56.1h.9v.9h-.9zM26.9 38.8h.9v.9h-.9zM28 54.6h.9v.9h-.9zM23.5 43h.9v.9h-.9zM21.2 22.2h.9v.9h-.9zM5 52.4h.9v.9h-.9zM9.1 24.7h.9v.9h-.9zM26.5 55h.9v.9h-.9zM24.6 57.5h.9v.9h-.9zM33.5 38.8h.9v.9h-.9zM16.3 19h.9v.9h-.9zM15.7 32.3h.9v.9h-.9zM27.2 56h.9v.9h-.9zM33.7 51.7h.9v.9h-.9zM30.7 45.3h.9v.9h-.9zM17.6 49.9h.9v.9h-.9zM15.9 46.6h.9v.9h-.9zM22.2 38.1h.9v.9h-.9zM8.4 49.3h.9v.9h-.9zM14.9 53.9h.9v.9h-.9zM11.4 24.4h.9v.9h-.9zM20 57.8h.9v.9h-.9zM35.4 27.3h.9v.9h-.9zM13.3 49.5h.9v.9h-.9zM31.9 56h.9v.9h-.9zM16.2 56.1h.9v.9h-.9zM14.2 36.6h.9v.9h-.9zM17.6 33.2h.9v.9h-.9zM13.3 54h.9v.9h-.9zM20.5 56h.9v.9h-.9zM25 51.5h.9v.9h-.9zM10.6 49.7h.9v.9h-.9zM4.1 34.5h.9v.9h-.9zM17 48.3h.9v.9h-.9zM14.3 51.4h.9v.9h-.9zM10.4 28.9h.9v.9h-.9zM14.4 53.4h.9v.9h-.9zM4.8 40.2h.9v.9h-.9zM5.7 54.8h.9v.9h-.9zM0.8 49.3h.9v.9h-.9zM9.6 52.6h.9v.9h-.9zM9.6 45.3h.9v.9h-.9zM18.2 42.9h.9v.9h-.9zM0 34.8h.9v.9h-.9zM21.1 50.7h.9v.9h-.9zM20.9 52.8h.9v.9h-.9zM18.6 29.4h.9v.9h-.9zM28.2 51.4h.9v.9h-.9zM12 28.4h.9v.9h-.9zM17.8 47.5h.9v.9h-.9zM17.1 56.5h.9v.9h-.9zM22.5 26.7h.9v.9h-.9zM6.7 54.8h.9v.9h-.9zM35.5 49.8h.9v.9h-.9zM16.3 46.5h.9v.9h-.9zM26.9 46.2h.9v.9h-.9zM13.9 32.3h.9v.9h-.9zM21.1 55.5h.9v.9h-.9zM12.4 44.9h.9v.9h-.9zM21.2 38.6h.9v.9h-.9zM0.5 51.2h.9v.9h-.9zM12.6 50.6h.9v.9h-.9zM14.4 54.8h.9v.9h-.9zM16.4 54.8h.9v.9h-.9zM6 58h.9v.9h-.9zM10.5 56.1h.9v.9h-.9zM18 57.8h.9v.9h-.9zM16.8 21.9h.9v.9h-.9zM5.7 36h.9v.9h-.9zM31.9 33.8h.9v.9h-.9zM18.2 52.7h.9v.9h-.9zM9.8 53.5h.9v.9h-.9zM18.5 48.4h.9v.9h-.9zM18 57.7h.9v.9h-.9zM26.4 49.9h.9v.9h-.9zM47.7 42.5h.9v.9h-.9zM12.7 47.7h.9v.9h-.9zM5.4 56.4h.9v.9h-.9zM1.4 50.8h.9v.9h-.9zM15.2 44.4h.9v.9h-.9zM7.4 52.8h.9v.9h-.9zM9.9 51.7h.9v.9h-.9zM12.3 56.4h.9v.9h-.9zM28.2 56.9h.9v.9h-.9zM21.3 54.9h.9v.9h-.9zM5.3 53.3h.9v.9h-.9zM11.8 28.5h.9v.9h-.9zM11.7 47.3h.9v.9h-.9zM19.8 55.8h.9v.9h-.9zM30.8 37.5h.9v.9h-.9zM9.4 50.2h.9v.9h-.9zM3.5 47.6h.9v.9h-.9zM36.2 47.4h.9v.9h-.9zM10.8 55.3h.9v.9h-.9zM20.2 47.2h.9v.9h-.9zM6.6 45.8h.9v.9h-.9zM29.2 48h.9v.9h-.9zM14.6 53h.9v.9h-.9zM8.9 54.7h.9v.9h-.9zM12.4 39.1h.9v.9h-.9zM23.7 37.4h.9v.9h-.9zM11.3 47.9h.9v.9h-.9zM11.3 38.4h.9v.9h-.9zM27.4 28.7h.9v.9h-.9zM9.2 55.9h.9v.9h-.9zM20.8 55.8h.9v.9h-.9zM19 50.4h.9v.9h-.9zM10.5 49.1h.9v.9h-.9zM38 26.8h.9v.9h-.9zM13.1 51.8h.9v.9h-.9zM13.9 45.4h.9v.9h-.9zM13.9 49.2h.9v.9h-.9zM15.5 45h.9v.9h-.9zM12.1 56.1h.9v.9h-.9zM32.7 56.8h.9v.9h-.9zM31 26.6h.9v.9h-.9zM19.5 37.6h.9v.9h-.9zM32.9 46.3h.9v.9h-.9zM7.7 30.1h.9v.9h-.9zM32.4 57.1h.9v.9h-.9zM17.7 43.4h.9v.9h-.9zM22.2 53.5h.9v.9h-.9zM5.2 55.8h.9v.9h-.9zM18.5 36h.9v.9h-.9zM9.1 30.6h.9v.9h-.9zM3.4 48h.9v.9h-.9zM15.3 55.1h.9v.9h-.9zM11.2 19.9h.9v.9h-.9zM12.6 50.3h.9v.9h-.9zM15.6 43.2h.9v.9h-.9zM27.4 47.7h.9v.9h-.9zM18.5 55.1h.9v.9h-.9zM7.3 46.4h.9v.9h-.9zM24.3 45h.9v.9h-.9zM38.5 50.5h.9v.9h-.9zM5.3 53.4h.9v.9h-.9zM10.9 46.7h.9v.9h-.9zM19.5 48h.9v.9h-.9zM18.3 51.5h.9v.9h-.9zM3.1 48.1h.9v.9h-.9zM19.2 59h.9v.9h-.9zM9.8 51.7h.9v.9h-.9zM14.4 41.9h.9v.9h-.9zM41.9 39.8h.9v.9h-.9zM3.6 49.8h.9v.9h-.9zM12.8 39.5h.9v.9h-.9zM18.1 52.2h.9v.9h-.9zM16.7 51h.9v.9h-.9zM22.2 47.9h.9v.9h-.9zM13 49.3h.9v.9h-.9zM11.5 53.6h.9v.9h-.9zM13.9 34.3h.9v.9h-.9zM24.2 57.8h.9v.9h-.9zM20.5 44.4h.9v.9h-.9zM20.9 45.6h.9v.9h-.9zM7.4 44.5h.9v.9h-.9zM5.1 53.8h.9v.9h-.9zM20.9 41.8h.9v.9h-.9zM22.9 51.4h.9v.9h-.9zM22.7 52.8h.9v.9h-.9zM10.4 51.5h.9v.9h-.9zM19.7 47.4h.9v.9h-.9zM23.6 58.5h.9v.9h-.9zM27.5 58.9h.9v.9h-.9zM29.9 56.1h.9v.9h-.9zM32 39.9h.9v.9h-.9zM38.8 35.1h.9v.9h-.9zM25.8 53.5h.9v.9h-.9zM9.4 46.5h.9v.9h-.9zM31.7 57.8h.9v.9h-.9zM19.6 45.6h.9v.9h-.9zM10.6 48.5h.9v.9h-.9zM15 5.7h.9v.9h-.9zM12.4 39.6h.9v.9h-.9zM21.2 27.6h.9v.9h-.9zM20.8 47.4h.9v.9h-.9zM11.5 53.6h.9v.9h-.9zM15.6 52.7h.9v.9h-.9zM6.4 56.4h.9v.9h-.9zM4.6 57.1h.9v.9h-.9zM13.1 25.4h.9v.9h-.9zM15.3 46h.9v.9h-.9zM12.5 37.5h.9v.9h-.9zM24.6 56.8h.9v.9h-.9zM23.4 35.9h.9v.9h-.9zM14.8 37.7h.9v.9h-.9zM10.6 49.1h.9v.9h-.9zM24.9 44.3h.9v.9h-.9zM8 46.4h.9v.9h-.9zM15.8 35.2h.9v.9h-.9zM14.9 55.4h.9v.9h-.9zM12 33.5h.9v.9h-.9zM21.4 31.4h.9v.9h-.9zM31.1 34.5h.9v.9h-.9zM16.5 27h.9v.9h-.9zM13.5 27.5h.9v.9h-.9zM13 18.4h.9v.9h-.9zM14.9 57.3h.9v.9h-.9zM4.6 51.7h.9v.9h-.9zM35 24.2h.9v.9h-.9zM7.9 46.4h.9v.9h-.9zM8.3 21.9h.9v.9h-.9zM1.4 51.5h.9v.9h-.9zM11.2 58.6h.9v.9h-.9zM16.2 47.4h.9v.9h-.9zM15.2 48.6h.9v.9h-.9zM40.6 53h.9v.9h-.9zM12.9 40.3h.9v.9h-.9zM34.2 27.7h.9v.9h-.9zM22.8 49.4h.9v.9h-.9zM15.2 58.6h.9v.9h-.9zM16.2 47.2h.9v.9h-.9zM9.3 58.6h.9v.9h-.9zM24.7 42.8h.9v.9h-.9zM27.2 59.1h.9v.9h-.9zM10.6 43.2h.9v.9h-.9zM15.1 35.1h.9v.9h-.9zM33.8 46.8h.9v.9h-.9zM30.2 49.9h.9v.9h-.9zM8.4 29h.9v.9h-.9zM28.4 51.5h.9v.9h-.9zM12.2 43h.9v.9h-.9zM28.9 58.3h.9v.9h-.9zM21.6 48.3h.9v.9h-.9zM17.8 52.6h.9v.9h-.9zM11.8 41.9h.9v.9h-.9zM10 31.2h.9v.9h-.9zM2.3 52.8h.9v.9h-.9zM8.1 49h.9v.9h-.9zM31.2 51.7h.9v.9h-.9zM15.6 42.8h.9v.9h-.9zM10.2 57.9h.9v.9h-.9zM24.1 39.6h.9v.9h-.9zM16.1 39.8h.9v.9h-.9zM22.4 35.1h.9v.9h-.9zM28.5 51.1h.9v.9h-.9zM31.5 44.2h.9v.9h-.9zM32.2 41.3h.9v.9h-.9zM25.8 49.9h.9v.9h-.9zM19.7 46h.9v.9h-.9zM29.5 45.2h.9v.9h-.9zM20.9 48.4h.9v.9h-.9zM36.9 41.5h.9v.9h-.9zM13.5 50.1h.9v.9h-.9zM2.8 47.6h.9v.9h-.9zM1.2 41.4h.9v.9h-.9zM17.1 41.6h.9v.9h-.9zM2.2 49.5h.9v.9h-.9zM10.9 50.9h.9v.9h-.9zM32.1 43.3h.9v.9h-.9zM34.4 52.7h.9v.9h-.9zM6.5 50.4h.9v.9h-.9zM10.4 42.3h.9v.9h-.9zM24.8 55.7h.9v.9h-.9zM20.5 49.6h.9v.9h-.9zM18.4 50.7h.9v.9h-.9zM9.1 48.9h.9v.9h-.9zM13.4 22.3h.9v.9h-.9zM4.6 17.3h.9v.9h-.9zM23.1 53.1h.9v.9h-.9zM16.8 45.1h.9v.9h-.9zM32.3 35.1h.9v.9h-.9zM20 56.3h.9v.9h-.9zM11.7 48.2h.9v.9h-.9zM12.9 46.9h.9v.9h-.9zM11.9 42h.9v.9h-.9zM10 50.1h.9v.9h-.9zM7.2 47.4h.9v.9h-.9zM19.7 49.6h.9v.9h-.9zM12.7 50h.9v.9h-.9zM34.4 47.1h.9v.9h-.9zM31 51h.9v.9h-.9zM14.2 58.3h.9v.9h-.9zM19.3 39.2h.9v.9h-.9zM27.1 34.1h.9v.9h-.9zM15.9 52.7h.9v.9h-.9zM14.7 45.8h.9v.9h-.9zM24.2 37.9h.9v.9h-.9zM9.7 55.3h.9v.9h-.9zM9.4 27.1h.9v.9h-.9zM13.1 50.8h.9v.9h-.9zM16.5 44.7h.9v.9h-.9zM34.8 56h.9v.9h-.9zM17.5 53.3h.9v.9h-.9zM4.7 55h.9v.9h-.9zM2.8 57.9h.9v.9h-.9zM10 50.7h.9v.9h-.9zM32.7 57.9h.9v.9h-.9zM2.8 30.5h.9v.9h-.9zM18.1 50.6h.9v.9h-.9zM24.8 47.9h.9v.9h-.9zM15.9 45.5h.9v.9h-.9zM18.5 50.7h.9v.9h-.9zM26 37.7h.9v.9h-.9zM10.8 49.2h.9v.9h-.9zM28.1 56.7h.9v.9h-.9zM30.4 42.4h.9v.9h-.9zM27.9 45.2h.9v.9h-.9zM12.2 55.5h.9v.9h-.9zM1.3 44.6h.9v.9h-.9zM27.8 46.6h.9v.9h-.9zM17.4 52.8h.9v.9h-.9zM19.4 47.7h.9v.9h-.9zM31.8 49.7h.9v.9h-.9zM24.9 41.9h.9v.9h-.9zM22.2 40.7h.9v.9h-.9zM32.9 7.8h.9v.9h-.9zM22 56.8h.9v.9h-.9zM41.1 49.5h.9v.9h-.9zM22.8 53.7h.9v.9h-.9zM24.5 30.7h.9v.9h-.9zM6.4 53h.9v.9h-.9zM22.5 48h.9v.9h-.9zM23.6 56.9h.9v.9h-.9zM5.1 27h.9v.9h-.9zM16.1 38h.9v.9h-.9zM29.3 38.7h.9v.9h-.9zM12.9 25h.9v.9h-.9zM29.1 53.6h.9v.9h-.9zM22.4 43.2h.9v.9h-.9zM22.8 49h.9v.9h-.9zM34.8 45.6h.9v.9h-.9zM15.1 49.3h.9v.9h-.9zM34.5 50.2h.9v.9h-.9zM9.9 30.1h.9v.9h-.9zM11 44.1h.9v.9h-.9zM14.6 46.4h.9v.9h-.9zM19 46.9h.9v.9h-.9zM20.9 44.5h.9v.9h-.9zM10.6 37.5h.9v.9h-.9zM20.7 52.2h.9v.9h-.9zM8.4 49.8h.9v.9h-.9zM13.4 35.4h.9v.9h-.9zM18.9 55.4h.9v.9h-.9zM19.7 47.9h.9v.9h-.9zM9.1 32.3h.9v.9h-.9zM15.9 53.4h.9v.9h-.9zM30.2 51.1h.9v.9h-.9zM28.1 19.1h.9v.9h-.9zM22.6 53.1h.9v.9h-.9zM9.9 53h.9v.9h-.9zM20.2 55.5h.9v.9h-.9zM28.5 51.9h.9v.9h-.9zM4.1 50.3h.9v.9h-.9zM12 56.6h.9v.9h-.9zM30.1 23h.9v.9h-.9zM29.5 44.8h.9v.9h-.9zM44.7 47.9h.9v.9h-.9zM28.1 50.3h.9v.9h-.9zM23.7 47.5h.9v.9h-.9zM17.4 52.1h.9v.9h-.9zM16.9 56.7h.9v.9h-.9zM13.1 35h.9v.9h-.9zM1.4 51.1h.9v.9h-.9zM10.5 57.3h.9v.9h-.9zM25.3 30.2h.9v.9h-.9zM13.6 44.9h.9v.9h-.9zM43 55.3h.9v.9h-.9zM9.1 42.6h.9v.9h-.9zM22.3 29.5h.9v.9h-.9zM6.5 50.9h.9v.9h-.9zM15.4 57.9h.9v.9h-.9zM15.2 37h.9v.9h-.9zM14 42.4h.9v.9h-.9zM10.6 43.8h.9v.9h-.9zM17.3 38.8h.9v.9h-.9zM3.5 53.5h.9v.9h-.9zM28.9 22.9h.9v.9h-.9zM17.8 42.6h.9v.9h-.9zM6.2 18.6h.9v.9h-.9zM32.7 48.6h.9v.9h-.9zM21.6 47.4h.9v.9h-.9zM21.9 23.1h.9v.9h-.9zM0.8 45.7h.9v.9h-.9zM11 31.3h.9v.9h-.9zM12.3 54.5h.9v.9h-.9zM10 57.6h.9v.9h-.9zM10.6 46.9h.9v.9h-.9zM15.8 54.1h.9v.9h-.9zM5.5 57.6h.9v.9h-.9zM23.5 48.6h.9v.9h-.9zM9.1 57.1h.9v.9h-.9zM29.3 48.1h.9v.9h-.9zM13.7 39h.9v.9h-.9zM26.3 57h.9v.9h-.9zM28.4 52.8h.9v.9h-.9zM8.2 53.7h.9v.9h-.9zM22.9 32.5h.9v.9h-.9zM20.9 46.9h.9v.9h-.9zM18.8 48.3h.9v.9h-.9zM39.2 59.1h.9v.9h-.9zM18.8 44.1h.9v.9h-.9zM2.4 56.2h.9v.9h-.9zM14.3 53.8h.9v.9h-.9zM17.2 50.7h.9v.9h-.9zM1.3 47.2h.9v.9h-.9zM26.6 33.7h.9v.9h-.9zM19.6 52.7h.9v.9h-.9zM0 45.4h.9v.9h-.9zM15.7 43.1h.9v.9h-.9zM26.7 48.2h.9v.9h-.9zM21.8 50.1h.9v.9h-.9zM13.2 52h.9v.9h-.9zM24.9 56.3h.9v.9h-.9zM6.5 49.6h.9v.9h-.9zM29.6 56.5h.9v.9h-.9zM46.8 22.7h.9v.9h-.9zM4.1 50.4h.9v.9h-.9zM5.2 52.3h.9v.9h-.9z"/>
<rect x="132.00" y="331.00" width="60.00" height="60.00" fill="none" stroke="#8a8a8a" stroke-width="0.8"/>
<line x1="130.50" y1="351.00" x2="132.00" y2="351.00" stroke="#8a8a8a" stroke-width="0.7"/>
<line x1="130.50" y1="371.20" x2="132.00" y2="371.20" stroke="#8a8a8a" stroke-width="0.7"/>
<text transform="translate(163.00,327.60) scale(1.0,1.0)" font-size="6.9" text-anchor="middle" font-weight="normal" fill="#222" color="#222"><tspan>CD19</tspan><tspan dy="-2.6" font-size="4.6">+</tspan><tspan dy="2.6">CD5</tspan><tspan dy="-2.6" font-size="4.6">+</tspan><tspan dy="2.6"> cells</tspan></text>
<text transform="translate(134.50,337.00) scale(1.0,1.0)" font-size="5.4" text-anchor="start" font-weight="normal" fill="#222" color="#222"><tspan>CXCR4</tspan><tspan dy="-2.4" font-size="4.3">bright</tspan><tspan dy="2.4">CD5</tspan><tspan dy="-2.4" font-size="4.3">dim</tspan></text>
<text transform="translate(143.80,341.40) scale(1.0,1.0)" font-size="2.6" text-anchor="middle" font-weight="normal" fill="#777" color="#777">1.xx</text>
<text transform="translate(185.60,340.50) scale(1.0,1.0)" font-size="5.2" text-anchor="middle" font-weight="normal" fill="#222" color="#222">a</text>
<text transform="translate(162.20,376.50) scale(1.0,1.0)" font-size="5.4" text-anchor="start" font-weight="normal" fill="#222" color="#222"><tspan>CXCR4</tspan><tspan dy="-2.4" font-size="4.3">dim</tspan><tspan dy="2.4">CD5</tspan><tspan dy="-2.4" font-size="4.3">bright</tspan></text>
<text transform="translate(177.50,380.60) scale(1.0,1.0)" font-size="2.6" text-anchor="middle" font-weight="normal" fill="#777" color="#777">x.x</text>
<text transform="translate(127.80,333.70) scale(1.0,1.0)" font-size="6.7" text-anchor="end" font-weight="normal" fill="#333" color="#333" style="stroke-width:0.2px">10<tspan dy="-2.6" font-size="4.29">3</tspan></text>
<text transform="translate(127.80,353.20) scale(1.0,1.0)" font-size="6.7" text-anchor="end" font-weight="normal" fill="#333" color="#333" style="stroke-width:0.2px">10<tspan dy="-2.6" font-size="4.29">2</tspan></text>
<text transform="translate(127.80,373.40) scale(1.0,1.0)" font-size="6.7" text-anchor="end" font-weight="normal" fill="#333" color="#333" style="stroke-width:0.2px">10<tspan dy="-2.6" font-size="4.29">1</tspan></text>
<text transform="translate(127.80,393.00) scale(1.0,1.0)" font-size="6.7" text-anchor="end" font-weight="normal" fill="#333" color="#333" style="stroke-width:0.2px">10<tspan dy="-2.6" font-size="4.29">0</tspan></text>
<text transform="translate(133.00,401.60) scale(1.0,1.0)" font-size="6.7" text-anchor="middle" font-weight="normal" fill="#333" color="#333" style="stroke-width:0.2px">10<tspan dy="-2.6" font-size="4.29">0</tspan></text>
<text transform="translate(160.00,401.60) scale(1.0,1.0)" font-size="6.7" text-anchor="middle" font-weight="normal" fill="#333" color="#333" style="stroke-width:0.2px">10<tspan dy="-2.6" font-size="4.29">1</tspan></text>
<text transform="translate(187.50,401.60) scale(1.0,1.0)" font-size="6.7" text-anchor="middle" font-weight="normal" fill="#333" color="#333" style="stroke-width:0.2px">10<tspan dy="-2.6" font-size="4.29">2</tspan></text>
<line x1="114.50" y1="392.40" x2="114.50" y2="339.30" stroke="#111" stroke-width="1.3"/>
<path d="M114.50,335.80 L112.60,340.10 L116.40,340.10 Z" fill="#111"/>
<line x1="128.80" y1="406.50" x2="185.30" y2="406.50" stroke="#111" stroke-width="1.3"/>
<path d="M188.80,406.50 L184.50,404.60 L184.50,408.40 Z" fill="#111"/>
<text transform="translate(108.40,365.50) rotate(-90) scale(0.64,1)" font-size="8.8" text-anchor="middle" font-weight="bold" fill="#1a1a1a" color="#1a1a1a" style="stroke-width:0.3px">CXCR4</text>
<text transform="translate(157.70,417.70) scale(0.62,1.0)" font-size="9.2" text-anchor="middle" font-weight="bold" fill="#1a1a1a" color="#1a1a1a" style="stroke-width:0.3px">CD5</text>
<path transform="translate(235.10,284.70)" fill="#7d8ad8" fill-opacity="0.5" d="M17.6 56.4h.9v.9h-.9zM7.8 57.2h.9v.9h-.9zM6.4 50.7h.9v.9h-.9zM28.1 46.5h.9v.9h-.9zM17.1 41.9h.9v.9h-.9zM16.4 53.9h.9v.9h-.9zM13.8 45.9h.9v.9h-.9zM8.6 53h.9v.9h-.9zM22.7 47.5h.9v.9h-.9zM14.9 46.6h.9v.9h-.9zM8.8 49.3h.9v.9h-.9zM12.1 28.8h.9v.9h-.9zM6.6 44.2h.9v.9h-.9zM12.4 50.2h.9v.9h-.9zM15 49.9h.9v.9h-.9zM8.3 48.9h.9v.9h-.9zM15.1 43.9h.9v.9h-.9zM3.1 49.9h.9v.9h-.9zM12.6 48.1h.9v.9h-.9zM10.7 39.3h.9v.9h-.9zM16 51.5h.9v.9h-.9zM11 46.7h.9v.9h-.9zM9.8 41.7h.9v.9h-.9zM15.6 57h.9v.9h-.9zM24.2 44.8h.9v.9h-.9zM14.2 36.3h.9v.9h-.9zM7 51.1h.9v.9h-.9zM29.5 41.3h.9v.9h-.9zM6.9 43.3h.9v.9h-.9zM16.2 45.9h.9v.9h-.9zM10.6 31h.9v.9h-.9zM1 39.9h.9v.9h-.9zM11.6 34h.9v.9h-.9zM25.3 41.1h.9v.9h-.9zM8.5 38.3h.9v.9h-.9zM15.3 36.8h.9v.9h-.9zM9 51.1h.9v.9h-.9zM5.9 37.2h.9v.9h-.9zM1.1 39.3h.9v.9h-.9zM13 51.5h.9v.9h-.9zM20 46.4h.9v.9h-.9zM15.9 53.1h.9v.9h-.9zM13 49h.9v.9h-.9zM15.1 45.6h.9v.9h-.9zM26.8 48.6h.9v.9h-.9zM24.6 39.3h.9v.9h-.9zM5 34.3h.9v.9h-.9zM18.9 38.7h.9v.9h-.9zM31.7 43.8h.9v.9h-.9zM26.8 42.2h.9v.9h-.9zM14.9 46.4h.9v.9h-.9zM12.1 36.6h.9v.9h-.9zM1.8 37.8h.9v.9h-.9zM14.5 52.6h.9v.9h-.9zM26.1 49.8h.9v.9h-.9zM19.3 48.6h.9v.9h-.9zM2.9 43.3h.9v.9h-.9zM17 48.9h.9v.9h-.9zM11.3 44.5h.9v.9h-.9zM17.7 39.1h.9v.9h-.9zM11.4 43.3h.9v.9h-.9zM12.2 46.6h.9v.9h-.9zM10.9 47.9h.9v.9h-.9zM16.3 40.6h.9v.9h-.9zM31.1 44.5h.9v.9h-.9zM24 28.7h.9v.9h-.9zM5.2 43.7h.9v.9h-.9zM36.3 51.4h.9v.9h-.9zM9.9 25.6h.9v.9h-.9zM30.1 45.9h.9v.9h-.9zM1.2 40.3h.9v.9h-.9zM15.2 32.4h.9v.9h-.9zM13.7 34.8h.9v.9h-.9zM16.5 43.9h.9v.9h-.9zM21.4 52.9h.9v.9h-.9zM11.2 35.8h.9v.9h-.9zM23.8 41.5h.9v.9h-.9zM13.1 56.9h.9v.9h-.9zM16.2 26.2h.9v.9h-.9zM10.8 46.2h.9v.9h-.9zM15.7 49.3h.9v.9h-.9zM11.7 35.6h.9v.9h-.9zM20 43.8h.9v.9h-.9zM18.7 46.9h.9v.9h-.9zM24.9 54.9h.9v.9h-.9zM10.3 29.9h.9v.9h-.9zM9.1 46.6h.9v.9h-.9zM21.2 46.2h.9v.9h-.9zM35.2 34.4h.9v.9h-.9zM13.5 41.5h.9v.9h-.9zM28.4 44.1h.9v.9h-.9zM5.5 53.9h.9v.9h-.9zM8.9 52.7h.9v.9h-.9zM17.4 52h.9v.9h-.9zM4.4 43.1h.9v.9h-.9zM9.3 49.5h.9v.9h-.9zM11.6 32.8h.9v.9h-.9zM13.7 46.7h.9v.9h-.9zM24.4 39.9h.9v.9h-.9zM3.9 37.8h.9v.9h-.9zM1.3 54.4h.9v.9h-.9zM31 44h.9v.9h-.9zM1 46.7h.9v.9h-.9zM30.1 44.5h.9v.9h-.9zM18.4 33.1h.9v.9h-.9zM2.7 50.6h.9v.9h-.9zM5.6 55.4h.9v.9h-.9zM20.7 52.6h.9v.9h-.9zM14.6 34.1h.9v.9h-.9zM4.7 45.9h.9v.9h-.9zM17.6 49h.9v.9h-.9zM33.8 51.9h.9v.9h-.9zM17.1 48.1h.9v.9h-.9zM3.3 42h.9v.9h-.9zM15.7 55.1h.9v.9h-.9zM12.5 36.6h.9v.9h-.9zM27.3 49.1h.9v.9h-.9zM13.4 49.3h.9v.9h-.9zM36 42.9h.9v.9h-.9zM26.5 47.7h.9v.9h-.9zM16.8 54.4h.9v.9h-.9zM25.9 45.2h.9v.9h-.9zM16.2 40.5h.9v.9h-.9zM8.6 48.1h.9v.9h-.9zM16 43.1h.9v.9h-.9zM15.9 31.9h.9v.9h-.9zM25.7 42.1h.9v.9h-.9zM15.3 49.9h.9v.9h-.9zM13.9 48.3h.9v.9h-.9zM9.4 46.3h.9v.9h-.9zM5.2 38.8h.9v.9h-.9zM4.1 49.5h.9v.9h-.9zM18 29.9h.9v.9h-.9zM8.9 42.8h.9v.9h-.9zM6.4 39.7h.9v.9h-.9zM25.3 48.9h.9v.9h-.9zM14.6 49.3h.9v.9h-.9zM6.1 42.6h.9v.9h-.9zM11.9 33.6h.9v.9h-.9zM26.2 52.3h.9v.9h-.9zM10.9 46.4h.9v.9h-.9zM7.7 48.1h.9v.9h-.9zM10.9 34h.9v.9h-.9zM14.8 48.1h.9v.9h-.9zM8.4 51.5h.9v.9h-.9zM19.8 30.3h.9v.9h-.9zM19.9 48.1h.9v.9h-.9zM11 36.9h.9v.9h-.9zM14.7 50.3h.9v.9h-.9zM3.7 28h.9v.9h-.9zM7.2 51.9h.9v.9h-.9zM14.8 42.9h.9v.9h-.9zM14.6 51.8h.9v.9h-.9zM10.7 38.7h.9v.9h-.9zM17.6 51.7h.9v.9h-.9zM8.1 52.7h.9v.9h-.9zM9.1 44.4h.9v.9h-.9zM20.7 47.1h.9v.9h-.9zM9.8 45.7h.9v.9h-.9zM12.5 48h.9v.9h-.9zM16.9 42h.9v.9h-.9zM12.9 39.5h.9v.9h-.9zM9.8 34.3h.9v.9h-.9zM9.5 39.7h.9v.9h-.9zM8.7 44.5h.9v.9h-.9zM6.7 52.1h.9v.9h-.9zM28.7 37.2h.9v.9h-.9zM2.4 46.8h.9v.9h-.9zM5.7 57.2h.9v.9h-.9zM8.9 32.2h.9v.9h-.9zM17 38.3h.9v.9h-.9zM15.9 31.6h.9v.9h-.9zM19.7 55.5h.9v.9h-.9zM21.7 48.3h.9v.9h-.9zM14.3 49.7h.9v.9h-.9zM22.8 53.3h.9v.9h-.9zM6.9 44.2h.9v.9h-.9zM9 49.9h.9v.9h-.9zM9.3 55.7h.9v.9h-.9zM4.6 48.6h.9v.9h-.9zM6.2 49.7h.9v.9h-.9zM37 46.4h.9v.9h-.9zM10 31.6h.9v.9h-.9zM10 44.3h.9v.9h-.9zM24.5 54.2h.9v.9h-.9zM23.8 51.7h.9v.9h-.9zM11.4 41.6h.9v.9h-.9zM8.9 43.2h.9v.9h-.9zM10.3 38.2h.9v.9h-.9zM3.6 45.7h.9v.9h-.9zM3.7 42.3h.9v.9h-.9zM6.6 45h.9v.9h-.9zM5.7 49.2h.9v.9h-.9zM12.5 37.3h.9v.9h-.9zM4.2 46.8h.9v.9h-.9zM15.8 53.8h.9v.9h-.9zM26.9 52.3h.9v.9h-.9zM18 41.2h.9v.9h-.9zM4 50.4h.9v.9h-.9zM8.7 36h.9v.9h-.9zM20.1 25.5h.9v.9h-.9zM10.9 56.2h.9v.9h-.9zM13.7 35.5h.9v.9h-.9zM11.2 47.5h.9v.9h-.9zM8.8 47.1h.9v.9h-.9zM3.5 36.8h.9v.9h-.9zM17.4 48h.9v.9h-.9zM21 45.4h.9v.9h-.9zM35.4 46.7h.9v.9h-.9zM11.4 47.6h.9v.9h-.9zM15 44.9h.9v.9h-.9zM19.9 40.5h.9v.9h-.9zM16.7 50.5h.9v.9h-.9zM0.3 47.6h.9v.9h-.9zM10.6 43.1h.9v.9h-.9zM11.8 53.9h.9v.9h-.9zM8.4 49.6h.9v.9h-.9zM30.5 54.6h.9v.9h-.9zM8.9 46.9h.9v.9h-.9zM22.4 34.4h.9v.9h-.9zM5.2 48.2h.9v.9h-.9zM3.6 37.2h.9v.9h-.9zM15.7 58.4h.9v.9h-.9zM26.2 47.3h.9v.9h-.9zM7.9 41.7h.9v.9h-.9zM19.4 46.9h.9v.9h-.9zM28.9 47.6h.9v.9h-.9zM10.5 49.1h.9v.9h-.9zM15.5 46.9h.9v.9h-.9zM18.3 39.3h.9v.9h-.9zM6.8 49.5h.9v.9h-.9zM32.9 52.5h.9v.9h-.9zM6.9 57.8h.9v.9h-.9zM34 41.7h.9v.9h-.9zM24.5 53.9h.9v.9h-.9zM21 51.3h.9v.9h-.9zM14.7 43.8h.9v.9h-.9zM23.9 52.9h.9v.9h-.9zM21.4 46h.9v.9h-.9zM7.1 39.3h.9v.9h-.9zM6.4 45.2h.9v.9h-.9zM10.5 33.7h.9v.9h-.9zM7.6 36.9h.9v.9h-.9zM5.4 49.6h.9v.9h-.9zM12.5 40.5h.9v.9h-.9zM2.6 47.4h.9v.9h-.9zM2.3 55.9h.9v.9h-.9zM17.3 49.9h.9v.9h-.9zM5.2 49.6h.9v.9h-.9zM7 29.1h.9v.9h-.9zM10 44.3h.9v.9h-.9zM12.3 43.7h.9v.9h-.9zM24.7 41.4h.9v.9h-.9z"/>
<g transform="translate(235.10,284.70)" shape-rendering="crispEdges"><path fill="#939cdf" d="M37 0h1v1h-1zM28 18h1v1h-1zM14 28h1v1h-1zM15 29h1v1h-1zM18 29h1v1h-1zM18 30h1v1h-1zM9 31h1v1h-1zM12 31h1v1h-1zM18 31h1v1h-1zM18 32h1v1h-1zM7 33h1v1h-1zM6 34h1v1h-1zM9 34h1v1h-1zM15 34h1v1h-1zM11 35h1v1h-1zM12 36h1v1h-1zM18 36h1v1h-1zM23 36h1v1h-1zM6 37h1v1h-1zM8 37h1v1h-1zM12 37h1v1h-1zM15 37h1v1h-1zM18 37h1v1h-1zM26 37h1v1h-1zM6 38h2v1h-2zM9 38h1v1h-1zM13 38h2v1h-2zM21 38h1v1h-1zM3 39h1v1h-1zM7 39h1v1h-1zM12 39h1v1h-1zM0 41h1v1h-1zM28 42h1v1h-1zM26 44h1v1h-1zM25 45h1v1h-1zM24 46h1v1h-1zM1 47h1v1h-1zM22 47h1v1h-1zM2 48h2v1h-2zM6 48h1v1h-1zM6 50h2v1h-2zM9 50h1v1h-1zM14 50h1v1h-1zM16 50h1v1h-1zM19 50h1v1h-1zM9 51h1v1h-1zM11 51h1v1h-1zM13 51h1v1h-1zM20 51h1v1h-1z"/><path fill="#8a95dc" d="M13 27h1v1h-1zM11 29h2v1h-2zM14 29h1v1h-1zM16 29h2v1h-2zM14 30h2v1h-2zM10 31h1v1h-1zM13 31h1v1h-1zM16 31h1v1h-1zM9 32h1v1h-1zM14 32h2v1h-2zM19 32h1v1h-1zM10 33h1v1h-1zM14 33h4v1h-4zM7 34h1v1h-1zM11 34h2v1h-2zM14 34h1v1h-1zM8 35h2v1h-2zM14 35h1v1h-1zM6 36h1v1h-1zM10 36h2v1h-2zM16 36h2v1h-2zM20 36h2v1h-2zM9 37h1v1h-1zM11 37h1v1h-1zM13 37h1v1h-1zM21 37h1v1h-1zM23 37h1v1h-1zM11 38h1v1h-1zM15 38h2v1h-2zM18 38h1v1h-1zM23 38h1v1h-1zM25 38h3v1h-3zM5 39h1v1h-1zM8 39h2v1h-2zM11 39h1v1h-1zM13 39h1v1h-1zM21 39h1v1h-1zM25 39h1v1h-1zM3 40h2v1h-2zM8 40h5v1h-5zM14 40h1v1h-1zM25 40h1v1h-1zM27 40h1v1h-1zM2 41h2v1h-2zM9 41h1v1h-1zM25 41h1v1h-1zM27 41h1v1h-1zM1 42h1v1h-1zM25 43h1v1h-1zM21 44h1v1h-1zM24 44h2v1h-2zM1 45h1v1h-1zM23 45h2v1h-2zM2 46h1v1h-1zM3 47h2v1h-2zM5 48h1v1h-1zM7 48h1v1h-1zM21 48h1v1h-1zM4 49h3v1h-3zM8 49h2v1h-2zM13 49h1v1h-1zM8 50h1v1h-1zM11 50h2v1h-2zM15 50h1v1h-1z"/><path fill="#818eda" d="M10 30h3v1h-3zM14 31h1v1h-1zM17 31h1v1h-1zM10 32h4v1h-4zM16 32h1v1h-1zM9 33h1v1h-1zM13 33h1v1h-1zM8 34h1v1h-1zM13 34h1v1h-1zM12 35h1v1h-1zM20 37h1v1h-1zM17 38h1v1h-1zM19 38h2v1h-2zM22 38h1v1h-1zM6 39h1v1h-1zM10 39h1v1h-1zM14 39h1v1h-1zM18 39h2v1h-2zM22 39h1v1h-1zM24 39h1v1h-1zM5 40h2v1h-2zM13 40h1v1h-1zM20 40h1v1h-1zM23 40h2v1h-2zM26 40h1v1h-1zM7 41h2v1h-2zM10 41h1v1h-1zM23 42h1v1h-1zM25 42h1v1h-1zM2 43h1v1h-1zM5 44h1v1h-1zM11 44h1v1h-1zM22 45h1v1h-1zM4 46h1v1h-1zM21 46h1v1h-1zM5 47h1v1h-1zM21 47h1v1h-1zM23 47h1v1h-1zM8 48h1v1h-1zM18 48h1v1h-1zM11 49h2v1h-2zM15 49h1v1h-1z"/><path fill="#7887d7" d="M11 31h1v1h-1zM11 33h2v1h-2zM10 34h1v1h-1zM10 35h1v1h-1zM24 38h1v1h-1zM16 39h1v1h-1zM23 39h1v1h-1zM4 41h1v1h-1zM13 41h1v1h-1zM4 42h1v1h-1zM12 42h1v1h-1zM24 42h1v1h-1zM6 43h1v1h-1zM23 43h2v1h-2zM3 44h1v1h-1zM22 44h2v1h-2zM3 45h1v1h-1zM11 45h1v1h-1zM21 45h1v1h-1zM5 46h1v1h-1zM7 46h1v1h-1zM22 46h1v1h-1zM6 47h1v1h-1zM17 48h1v1h-1zM19 48h1v1h-1zM7 49h1v1h-1zM10 49h1v1h-1zM14 49h1v1h-1zM16 49h1v1h-1z"/><path fill="#6c7fd4" d="M15 39h1v1h-1zM17 39h1v1h-1zM20 39h1v1h-1zM7 40h1v1h-1zM19 40h1v1h-1zM22 40h1v1h-1zM11 41h2v1h-2zM22 41h1v1h-1zM24 41h1v1h-1zM3 42h1v1h-1zM9 42h2v1h-2zM3 43h1v1h-1zM11 43h1v1h-1zM2 44h1v1h-1zM18 44h1v1h-1zM2 45h1v1h-1zM9 45h1v1h-1zM9 47h2v1h-2zM17 47h2v1h-2zM9 48h4v1h-4zM15 48h1v1h-1zM17 49h1v1h-1z"/><path fill="#6176d0" d="M15 40h1v1h-1zM17 40h2v1h-2zM5 41h1v1h-1zM15 41h1v1h-1zM5 42h2v1h-2zM8 42h1v1h-1zM11 42h1v1h-1zM13 42h1v1h-1zM4 43h2v1h-2zM16 43h1v1h-1zM12 44h1v1h-1zM4 45h1v1h-1zM3 46h1v1h-1zM8 46h1v1h-1zM13 46h1v1h-1zM17 46h1v1h-1zM20 46h1v1h-1zM7 47h1v1h-1zM11 47h3v1h-3zM19 47h1v1h-1zM13 48h2v1h-2zM16 48h1v1h-1z"/><path fill="#5096cd" d="M16 40h1v1h-1zM16 41h1v1h-1zM7 43h1v1h-1zM13 43h2v1h-2zM7 44h2v1h-2zM10 45h1v1h-1zM14 47h2v1h-2z"/><path fill="#556ecd" d="M21 40h1v1h-1zM6 41h1v1h-1zM14 41h1v1h-1zM21 41h1v1h-1zM23 41h1v1h-1zM21 42h2v1h-2zM8 43h1v1h-1zM10 43h1v1h-1zM4 44h1v1h-1zM6 44h1v1h-1zM20 44h1v1h-1zM6 45h1v1h-1zM8 45h1v1h-1zM20 45h1v1h-1zM6 46h1v1h-1zM10 46h1v1h-1zM18 46h2v1h-2zM8 47h1v1h-1zM16 47h1v1h-1z"/><path fill="#69be5a" d="M17 41h2v1h-2zM18 42h1v1h-1zM9 43h1v1h-1zM18 43h1v1h-1zM9 44h1v1h-1zM14 45h1v1h-1zM17 45h1v1h-1zM12 46h1v1h-1z"/><path fill="#5daa93" d="M19 41h1v1h-1zM14 42h2v1h-2zM19 42h1v1h-1zM12 43h1v1h-1zM20 43h1v1h-1zM10 44h1v1h-1zM14 44h1v1h-1zM7 45h1v1h-1zM13 45h1v1h-1zM16 45h1v1h-1zM19 45h1v1h-1zM14 46h3v1h-3z"/><path fill="#5282cd" d="M20 41h1v1h-1zM7 42h1v1h-1zM15 43h1v1h-1zM21 43h2v1h-2zM13 44h1v1h-1zM17 44h1v1h-1zM5 45h1v1h-1zM12 45h1v1h-1zM15 45h1v1h-1zM9 46h1v1h-1zM11 46h1v1h-1z"/><path fill="#7dc832" d="M16 42h1v1h-1zM15 44h1v1h-1z"/><path fill="#70c14d" d="M17 42h1v1h-1zM17 43h1v1h-1zM19 43h1v1h-1zM19 44h1v1h-1z"/><path fill="#76c53f" d="M20 42h1v1h-1zM18 45h1v1h-1z"/><path fill="#8acb30" d="M16 44h1v1h-1z"/></g>
<rect x="235.10" y="284.70" width="59.70" height="59.70" fill="none" stroke="#8a8a8a" stroke-width="0.8"/>
<text transform="translate(265.20,276.70) scale(1.0,1.0)" font-size="6.95" text-anchor="middle" font-weight="normal" fill="#222" color="#222"><tspan>CXCR4</tspan><tspan dy="-2.8" font-size="3.8">bright</tspan><tspan dy="2.8">CD5</tspan><tspan dy="-2.8" font-size="3.8">dim</tspan><tspan dy="2.8"> fraction</tspan></text>
<text transform="translate(290.50,294.40) scale(1.0,1.0)" font-size="5.4" text-anchor="end" font-weight="normal" fill="#222" color="#222">a1</text>
<ellipse cx="247.90" cy="317.50" rx="9.00" ry="5.20" transform="rotate(-30 247.90 317.50)" fill="none" stroke="#4a5898" stroke-width="0.85"/>
<ellipse cx="254.00" cy="328.20" rx="10.30" ry="6.20" transform="rotate(-30 254.00 328.20)" fill="none" stroke="#4a5898" stroke-width="0.85"/>
<text transform="translate(244.00,303.80) scale(1.0,1.0)" font-size="5.4" text-anchor="start" font-weight="normal" fill="#222" color="#222">Lck<tspan dy="-2.4" font-size="4.3">hi</tspan></text>
<text transform="translate(247.50,307.60) scale(1.0,1.0)" font-size="2.6" text-anchor="middle" font-weight="normal" fill="#777" color="#777">x.xx</text>
<text transform="translate(265.20,323.40) scale(1.0,1.0)" font-size="5.4" text-anchor="start" font-weight="normal" fill="#222" color="#222">Lck<tspan dy="-2.4" font-size="4.3">-/low</tspan></text>
<text transform="translate(269.00,330.00) scale(1.0,1.0)" font-size="2.6" text-anchor="middle" font-weight="normal" fill="#777" color="#777">x.x</text>
<text transform="translate(230.80,287.40) scale(1.0,1.0)" font-size="6.7" text-anchor="end" font-weight="normal" fill="#333" color="#333" style="stroke-width:0.2px">10<tspan dy="-2.6" font-size="4.29">4</tspan></text>
<text transform="translate(230.80,302.50) scale(1.0,1.0)" font-size="6.7" text-anchor="end" font-weight="normal" fill="#333" color="#333" style="stroke-width:0.2px">10<tspan dy="-2.6" font-size="4.29">3</tspan></text>
<text transform="translate(230.80,316.90) scale(1.0,1.0)" font-size="6.7" text-anchor="end" font-weight="normal" fill="#333" color="#333" style="stroke-width:0.2px">10<tspan dy="-2.6" font-size="4.29">2</tspan></text>
<text transform="translate(230.80,331.40) scale(1.0,1.0)" font-size="6.7" text-anchor="end" font-weight="normal" fill="#333" color="#333" style="stroke-width:0.2px">10<tspan dy="-2.6" font-size="4.29">1</tspan></text>
<text transform="translate(230.80,346.30) scale(1.0,1.0)" font-size="6.7" text-anchor="end" font-weight="normal" fill="#333" color="#333" style="stroke-width:0.2px">10<tspan dy="-2.6" font-size="4.29">0</tspan></text>
<text transform="translate(236.00,355.00) scale(1.0,1.0)" font-size="6.7" text-anchor="middle" font-weight="normal" fill="#333" color="#333" style="stroke-width:0.2px">10<tspan dy="-2.6" font-size="4.29">0</tspan></text>
<text transform="translate(261.00,355.00) scale(1.0,1.0)" font-size="6.7" text-anchor="middle" font-weight="normal" fill="#333" color="#333" style="stroke-width:0.2px">10<tspan dy="-2.6" font-size="4.29">1</tspan></text>
<text transform="translate(286.10,355.00) scale(1.0,1.0)" font-size="6.7" text-anchor="middle" font-weight="normal" fill="#333" color="#333" style="stroke-width:0.2px">10<tspan dy="-2.6" font-size="4.29">2</tspan></text>
<line x1="216.50" y1="345.50" x2="216.50" y2="291.50" stroke="#111" stroke-width="1.3"/>
<path d="M216.50,288.00 L214.60,292.30 L218.40,292.30 Z" fill="#111"/>
<line x1="232.70" y1="359.60" x2="287.50" y2="359.60" stroke="#111" stroke-width="1.3"/>
<path d="M291.00,359.60 L286.70,357.70 L286.70,361.50 Z" fill="#111"/>
<text transform="translate(211.40,318.40) rotate(-90) scale(0.58,1)" font-size="10.0" text-anchor="middle" font-weight="bold" fill="#1a1a1a" color="#1a1a1a" style="stroke-width:0.3px">Lck</text>
<text transform="translate(259.40,371.00) scale(0.58,1.0)" font-size="10.0" text-anchor="middle" font-weight="bold" fill="#1a1a1a" color="#1a1a1a" style="stroke-width:0.3px">CD19</text>
<path transform="translate(235.10,393.20)" fill="#7d8ad8" fill-opacity="0.5" d="M4.4 43.5h.9v.9h-.9zM5.9 40.3h.9v.9h-.9zM11.4 29.7h.9v.9h-.9zM24.7 42.6h.9v.9h-.9zM19.4 30.6h.9v.9h-.9zM18.3 40.5h.9v.9h-.9zM27.8 50.9h.9v.9h-.9zM7.4 47h.9v.9h-.9zM0.8 47.8h.9v.9h-.9zM22.2 46h.9v.9h-.9zM31.4 35.8h.9v.9h-.9zM18.2 40.3h.9v.9h-.9zM7 28.4h.9v.9h-.9zM13 47h.9v.9h-.9zM1.9 35.3h.9v.9h-.9zM30.5 48.1h.9v.9h-.9zM4.2 50.3h.9v.9h-.9zM22.8 29.5h.9v.9h-.9zM9.3 40.6h.9v.9h-.9zM4.7 32h.9v.9h-.9zM13 37.4h.9v.9h-.9zM8.6 53h.9v.9h-.9zM16.7 42.2h.9v.9h-.9zM23.4 38.7h.9v.9h-.9zM18.7 23.4h.9v.9h-.9zM14.5 42.8h.9v.9h-.9zM3.9 35.5h.9v.9h-.9zM4.7 34.2h.9v.9h-.9zM11.8 32.2h.9v.9h-.9zM17.3 27.6h.9v.9h-.9zM17.6 38.9h.9v.9h-.9zM25.4 51.6h.9v.9h-.9zM20.5 45h.9v.9h-.9zM13.5 33.9h.9v.9h-.9zM13.9 26.9h.9v.9h-.9zM15.6 56.7h.9v.9h-.9zM18.9 31.9h.9v.9h-.9zM5.3 46.2h.9v.9h-.9zM17.1 44.3h.9v.9h-.9zM6 45.1h.9v.9h-.9zM18.9 52.5h.9v.9h-.9zM10.5 44.3h.9v.9h-.9zM20.5 45.8h.9v.9h-.9zM25.9 32.2h.9v.9h-.9zM26.9 45.5h.9v.9h-.9zM31.8 34h.9v.9h-.9zM37.8 38.1h.9v.9h-.9zM3.3 55h.9v.9h-.9zM7.5 50.4h.9v.9h-.9zM25.1 47.3h.9v.9h-.9zM13.9 43h.9v.9h-.9zM13.5 37.4h.9v.9h-.9zM15.5 37h.9v.9h-.9zM19.2 44.4h.9v.9h-.9zM22.8 34h.9v.9h-.9zM6.7 32.7h.9v.9h-.9zM16.1 54.5h.9v.9h-.9zM22.2 49.5h.9v.9h-.9zM20.6 40h.9v.9h-.9zM25.5 44.2h.9v.9h-.9zM23.4 33.5h.9v.9h-.9zM14.5 35.9h.9v.9h-.9zM7.4 41.9h.9v.9h-.9zM13.8 45.2h.9v.9h-.9zM13.2 30.7h.9v.9h-.9zM14.7 42.8h.9v.9h-.9zM17.9 34.5h.9v.9h-.9zM28.3 44.6h.9v.9h-.9zM13.6 37.5h.9v.9h-.9zM16.8 44h.9v.9h-.9zM4.3 40.5h.9v.9h-.9zM8.2 45.9h.9v.9h-.9zM11.5 48.1h.9v.9h-.9zM12 29.8h.9v.9h-.9zM16.6 28.9h.9v.9h-.9zM16.6 43.4h.9v.9h-.9zM5.3 35.1h.9v.9h-.9zM22.1 39.5h.9v.9h-.9zM19.7 30h.9v.9h-.9zM1.9 45.4h.9v.9h-.9zM12.7 54.4h.9v.9h-.9zM4.1 35.4h.9v.9h-.9zM6.1 35.5h.9v.9h-.9zM14 27.9h.9v.9h-.9zM21.5 46.8h.9v.9h-.9zM10.8 32.1h.9v.9h-.9zM22.4 24.9h.9v.9h-.9zM9.3 41.6h.9v.9h-.9zM12.6 36.2h.9v.9h-.9zM15.5 48.7h.9v.9h-.9zM14.8 33.8h.9v.9h-.9zM6.3 35.4h.9v.9h-.9zM11.1 32.1h.9v.9h-.9zM17.6 47.7h.9v.9h-.9zM20.4 29.2h.9v.9h-.9zM16 29.7h.9v.9h-.9zM7.7 52.7h.9v.9h-.9zM12.2 41h.9v.9h-.9zM5.8 53.7h.9v.9h-.9zM10.7 45.1h.9v.9h-.9zM27.5 40.4h.9v.9h-.9zM3.8 35.9h.9v.9h-.9zM9.5 31.9h.9v.9h-.9zM13.7 39.9h.9v.9h-.9zM30.4 42.4h.9v.9h-.9zM11.5 31.2h.9v.9h-.9zM20.3 47.8h.9v.9h-.9zM28.1 33.1h.9v.9h-.9zM6.1 31.8h.9v.9h-.9zM34.2 50.9h.9v.9h-.9zM21.5 29.6h.9v.9h-.9zM4.6 39.1h.9v.9h-.9zM23.3 29.9h.9v.9h-.9zM19.5 44.5h.9v.9h-.9zM24.2 53.1h.9v.9h-.9zM13.3 52.8h.9v.9h-.9zM19.8 30.4h.9v.9h-.9zM7.2 42.9h.9v.9h-.9zM6.4 33.1h.9v.9h-.9zM12.5 40.1h.9v.9h-.9zM20.2 29.6h.9v.9h-.9zM10.6 36.8h.9v.9h-.9zM14.3 40.4h.9v.9h-.9zM12.7 41.7h.9v.9h-.9zM8 36.5h.9v.9h-.9zM10.9 42.7h.9v.9h-.9zM20.7 40.8h.9v.9h-.9zM27.2 53.2h.9v.9h-.9zM23.3 37.1h.9v.9h-.9zM8.6 49.5h.9v.9h-.9zM18.8 58.2h.9v.9h-.9zM17.1 41.5h.9v.9h-.9zM10.7 44.8h.9v.9h-.9zM15.5 24.7h.9v.9h-.9zM24.5 39.1h.9v.9h-.9zM20.6 36.1h.9v.9h-.9zM17.4 52.7h.9v.9h-.9zM16.3 41.9h.9v.9h-.9zM12.6 57h.9v.9h-.9zM15.3 51.5h.9v.9h-.9zM24.5 44.7h.9v.9h-.9zM7 34.2h.9v.9h-.9zM14.3 34.5h.9v.9h-.9zM11.6 45.8h.9v.9h-.9zM6.5 29.6h.9v.9h-.9zM9 44.1h.9v.9h-.9zM16.4 49.3h.9v.9h-.9zM19.9 47.4h.9v.9h-.9zM17.2 38.4h.9v.9h-.9zM11 39.1h.9v.9h-.9zM1.8 36.7h.9v.9h-.9zM3.4 28.8h.9v.9h-.9zM28.3 45.7h.9v.9h-.9zM3.1 26.6h.9v.9h-.9zM22.1 22.7h.9v.9h-.9zM11.3 36.6h.9v.9h-.9zM3.6 44.2h.9v.9h-.9zM20.2 33.1h.9v.9h-.9zM8 37.1h.9v.9h-.9zM27.4 46.8h.9v.9h-.9zM22.3 33.4h.9v.9h-.9zM10.4 28.7h.9v.9h-.9zM4.3 45.5h.9v.9h-.9zM16.2 30.2h.9v.9h-.9zM15 40.3h.9v.9h-.9zM11.6 29.3h.9v.9h-.9zM0.1 39.2h.9v.9h-.9zM9.7 31.4h.9v.9h-.9zM17.2 33.7h.9v.9h-.9zM5.2 54.2h.9v.9h-.9zM10.8 46.4h.9v.9h-.9zM15.1 32.9h.9v.9h-.9zM10.8 28.7h.9v.9h-.9zM11.7 28.6h.9v.9h-.9zM19.8 35.4h.9v.9h-.9zM3.8 32.1h.9v.9h-.9zM14.9 52.5h.9v.9h-.9zM19.6 43.6h.9v.9h-.9zM10.1 46.3h.9v.9h-.9zM24 46.5h.9v.9h-.9zM18.7 53.9h.9v.9h-.9zM27.3 47.7h.9v.9h-.9zM23.8 39.6h.9v.9h-.9zM26 38.4h.9v.9h-.9zM17.2 27.8h.9v.9h-.9zM13.9 35h.9v.9h-.9zM16.7 47.6h.9v.9h-.9zM5 52.5h.9v.9h-.9zM17.8 55.9h.9v.9h-.9zM19.2 31.6h.9v.9h-.9zM1.1 37.8h.9v.9h-.9zM34.7 47.8h.9v.9h-.9zM5.5 33h.9v.9h-.9zM15.5 38.1h.9v.9h-.9zM6.3 51.9h.9v.9h-.9zM17.4 48.4h.9v.9h-.9zM32.1 42.1h.9v.9h-.9zM2.9 32.4h.9v.9h-.9zM4.4 31.5h.9v.9h-.9zM7.9 46.4h.9v.9h-.9zM12.5 50h.9v.9h-.9zM29 34h.9v.9h-.9zM25.2 43.3h.9v.9h-.9zM17.4 52.7h.9v.9h-.9zM10.9 45.8h.9v.9h-.9zM27.3 32.6h.9v.9h-.9zM15.5 31.3h.9v.9h-.9zM13.1 33.4h.9v.9h-.9zM6.6 37.9h.9v.9h-.9zM15 33.9h.9v.9h-.9zM10.7 51h.9v.9h-.9zM13.1 40.1h.9v.9h-.9zM16.3 34.8h.9v.9h-.9zM36.4 34.7h.9v.9h-.9zM0.1 49.4h.9v.9h-.9zM10.5 33h.9v.9h-.9zM17.3 41.1h.9v.9h-.9zM30.6 32.3h.9v.9h-.9zM9.3 44.4h.9v.9h-.9zM16.9 52.7h.9v.9h-.9zM9.5 32h.9v.9h-.9zM9 31.1h.9v.9h-.9zM8.2 31.7h.9v.9h-.9zM4.6 31.4h.9v.9h-.9zM22.3 47.4h.9v.9h-.9zM14.7 35.2h.9v.9h-.9zM2.3 38.7h.9v.9h-.9zM7 43.9h.9v.9h-.9zM6.6 48h.9v.9h-.9zM3.8 43.9h.9v.9h-.9zM23.2 44.6h.9v.9h-.9zM19.9 48.3h.9v.9h-.9zM23.4 50.6h.9v.9h-.9zM17.4 37.5h.9v.9h-.9zM9.9 37.4h.9v.9h-.9zM7.7 55.4h.9v.9h-.9zM3.1 43.1h.9v.9h-.9zM8.8 44.4h.9v.9h-.9zM15.1 47.8h.9v.9h-.9zM19.8 44.5h.9v.9h-.9zM31.9 52.1h.9v.9h-.9zM20.1 35.7h.9v.9h-.9zM11.1 45.8h.9v.9h-.9zM22.6 45.5h.9v.9h-.9z"/>
<g transform="translate(235.10,393.20)" shape-rendering="crispEdges"><path fill="#939cdf" d="M19 23h1v1h-1zM25 24h1v1h-1zM16 25h1v1h-1zM18 25h1v1h-1zM24 25h1v1h-1zM35 25h1v1h-1zM15 26h1v1h-1zM20 26h1v1h-1zM24 26h1v1h-1zM15 27h1v1h-1zM21 27h3v1h-3zM7 28h1v1h-1zM24 28h1v1h-1zM11 29h1v1h-1zM8 30h1v1h-1zM7 31h2v1h-2zM24 31h1v1h-1zM23 32h1v1h-1zM6 33h1v1h-1zM6 35h1v1h-1zM20 35h1v1h-1zM6 36h2v1h-2zM24 36h1v1h-1zM5 37h2v1h-2zM10 37h1v1h-1zM18 37h1v1h-1zM21 37h1v1h-1zM25 37h1v1h-1zM3 38h1v1h-1zM5 38h1v1h-1zM12 38h1v1h-1zM14 38h1v1h-1zM18 38h1v1h-1zM22 38h1v1h-1zM9 39h1v1h-1zM13 39h1v1h-1zM25 39h1v1h-1zM27 39h1v1h-1zM8 40h1v1h-1zM11 40h1v1h-1zM24 40h1v1h-1zM26 40h1v1h-1zM14 41h2v1h-2zM22 41h1v1h-1zM13 43h1v1h-1zM13 44h1v1h-1zM19 44h1v1h-1zM12 45h1v1h-1zM19 45h2v1h-2zM23 45h1v1h-1zM13 46h1v1h-1zM20 46h1v1h-1zM17 47h1v1h-1zM13 48h1v1h-1zM15 48h1v1h-1zM17 48h1v1h-1zM20 48h1v1h-1z"/><path fill="#8a95dc" d="M19 24h1v1h-1zM15 25h1v1h-1zM17 25h1v1h-1zM20 25h2v1h-2zM14 26h1v1h-1zM17 26h2v1h-2zM12 27h3v1h-3zM19 27h1v1h-1zM10 28h1v1h-1zM17 28h1v1h-1zM22 28h2v1h-2zM10 29h1v1h-1zM21 29h2v1h-2zM24 29h1v1h-1zM24 30h1v1h-1zM22 31h1v1h-1zM8 32h1v1h-1zM22 32h1v1h-1zM20 33h2v1h-2zM18 34h1v1h-1zM20 34h1v1h-1zM7 35h1v1h-1zM18 35h2v1h-2zM22 35h1v1h-1zM8 36h1v1h-1zM16 36h1v1h-1zM20 36h1v1h-1zM8 37h1v1h-1zM14 37h2v1h-2zM17 37h1v1h-1zM19 37h2v1h-2zM8 38h1v1h-1zM11 38h1v1h-1zM17 38h1v1h-1zM19 38h1v1h-1zM24 38h1v1h-1zM11 39h1v1h-1zM14 39h2v1h-2zM17 39h1v1h-1zM20 39h1v1h-1zM23 39h1v1h-1zM26 39h1v1h-1zM12 40h7v1h-7zM13 41h1v1h-1zM17 41h1v1h-1zM23 41h1v1h-1zM25 41h1v1h-1zM11 42h2v1h-2zM14 42h2v1h-2zM21 42h3v1h-3zM11 43h1v1h-1zM14 43h3v1h-3zM22 43h1v1h-1zM14 44h2v1h-2zM18 44h1v1h-1zM20 44h3v1h-3zM11 45h1v1h-1zM13 45h2v1h-2zM18 45h1v1h-1zM22 45h1v1h-1zM14 46h1v1h-1zM17 46h1v1h-1zM19 46h1v1h-1zM14 47h3v1h-3zM18 47h1v1h-1z"/><path fill="#818eda" d="M16 26h1v1h-1zM17 27h2v1h-2zM20 27h1v1h-1zM11 28h3v1h-3zM18 28h1v1h-1zM20 29h1v1h-1zM9 30h1v1h-1zM22 30h1v1h-1zM20 31h1v1h-1zM7 32h1v1h-1zM21 32h1v1h-1zM7 33h2v1h-2zM8 35h1v1h-1zM10 35h1v1h-1zM16 35h2v1h-2zM15 36h1v1h-1zM17 36h3v1h-3zM7 37h1v1h-1zM9 37h1v1h-1zM13 37h1v1h-1zM16 37h1v1h-1zM10 38h1v1h-1zM21 38h1v1h-1zM25 38h1v1h-1zM12 39h1v1h-1zM18 39h1v1h-1zM22 39h1v1h-1zM19 40h1v1h-1zM21 40h2v1h-2zM16 41h1v1h-1zM21 41h1v1h-1zM16 42h2v1h-2zM20 42h1v1h-1zM19 43h1v1h-1zM23 43h1v1h-1zM16 44h2v1h-2zM16 45h2v1h-2zM15 46h2v1h-2zM18 46h1v1h-1z"/><path fill="#7887d7" d="M19 26h1v1h-1zM16 27h1v1h-1zM14 28h1v1h-1zM19 28h3v1h-3zM19 29h1v1h-1zM10 30h1v1h-1zM13 30h1v1h-1zM19 30h1v1h-1zM21 30h1v1h-1zM9 31h2v1h-2zM20 32h1v1h-1zM9 33h1v1h-1zM19 33h1v1h-1zM19 34h1v1h-1zM15 35h1v1h-1zM14 36h1v1h-1zM12 37h1v1h-1zM19 39h1v1h-1zM20 40h1v1h-1zM23 40h1v1h-1zM19 41h2v1h-2zM18 42h1v1h-1zM24 42h1v1h-1zM17 43h2v1h-2zM20 43h2v1h-2zM15 45h1v1h-1z"/><path fill="#6c7fd4" d="M15 28h2v1h-2zM13 29h1v1h-1zM17 29h2v1h-2zM11 30h1v1h-1zM18 30h1v1h-1zM20 30h1v1h-1zM11 31h1v1h-1zM18 33h1v1h-1zM7 34h1v1h-1zM17 34h1v1h-1zM9 36h3v1h-3zM11 37h1v1h-1zM21 39h1v1h-1zM18 41h1v1h-1zM19 42h1v1h-1z"/><path fill="#6176d0" d="M12 29h1v1h-1zM14 29h3v1h-3zM17 30h1v1h-1zM9 32h1v1h-1zM19 32h1v1h-1zM8 34h1v1h-1zM12 34h1v1h-1zM12 36h1v1h-1z"/><path fill="#5daa93" d="M12 30h1v1h-1zM15 30h1v1h-1zM17 31h1v1h-1zM15 32h1v1h-1zM18 32h1v1h-1zM11 33h1v1h-1zM15 33h1v1h-1z"/><path fill="#70c14d" d="M14 30h1v1h-1zM13 32h2v1h-2zM11 34h1v1h-1zM15 34h1v1h-1z"/><path fill="#5096cd" d="M16 30h1v1h-1zM12 31h1v1h-1zM18 31h1v1h-1zM17 33h1v1h-1zM12 35h1v1h-1zM14 35h1v1h-1z"/><path fill="#76c53f" d="M13 31h1v1h-1zM16 31h1v1h-1zM13 33h1v1h-1zM13 34h1v1h-1z"/><path fill="#a4d12c" d="M14 31h1v1h-1z"/><path fill="#69be5a" d="M15 31h1v1h-1zM16 32h1v1h-1zM16 33h1v1h-1zM10 34h1v1h-1z"/><path fill="#556ecd" d="M19 31h1v1h-1zM11 32h1v1h-1zM10 33h1v1h-1zM16 34h1v1h-1zM9 35h1v1h-1zM11 35h1v1h-1zM13 36h1v1h-1z"/><path fill="#5282cd" d="M10 32h1v1h-1zM9 34h1v1h-1zM14 34h1v1h-1zM13 35h1v1h-1z"/><path fill="#7dc832" d="M12 32h1v1h-1z"/><path fill="#8acb30" d="M17 32h1v1h-1zM14 33h1v1h-1z"/><path fill="#97ce2e" d="M12 33h1v1h-1z"/></g>
<rect x="235.10" y="393.20" width="59.70" height="59.70" fill="none" stroke="#8a8a8a" stroke-width="0.8"/>
<text transform="translate(265.20,385.20) scale(1.0,1.0)" font-size="6.95" text-anchor="middle" font-weight="normal" fill="#222" color="#222"><tspan>CXCR4</tspan><tspan dy="-2.8" font-size="3.8">dim</tspan><tspan dy="2.8">CD5</tspan><tspan dy="-2.8" font-size="3.8">bright</tspan><tspan dy="2.8"> fraction</tspan></text>
<text transform="translate(290.50,402.90) scale(1.0,1.0)" font-size="5.4" text-anchor="end" font-weight="normal" fill="#222" color="#222">a2</text>
<ellipse cx="249.90" cy="425.30" rx="8.80" ry="5.40" transform="rotate(-30 249.90 425.30)" fill="none" stroke="#4a5898" stroke-width="0.85"/>
<ellipse cx="254.20" cy="436.10" rx="9.00" ry="5.80" transform="rotate(-35 254.20 436.10)" fill="none" stroke="#4a5898" stroke-width="0.85"/>
<text transform="translate(243.70,413.80) scale(1.0,1.0)" font-size="5.4" text-anchor="start" font-weight="normal" fill="#222" color="#222">Lck<tspan dy="-2.4" font-size="4.3">hi</tspan></text>
<text transform="translate(247.50,417.80) scale(1.0,1.0)" font-size="2.6" text-anchor="middle" font-weight="normal" fill="#777" color="#777">x.xx</text>
<text transform="translate(263.70,433.40) scale(1.0,1.0)" font-size="5.4" text-anchor="start" font-weight="normal" fill="#222" color="#222">Lck<tspan dy="-2.4" font-size="4.3">-/low</tspan></text>
<text transform="translate(268.50,439.80) scale(1.0,1.0)" font-size="2.6" text-anchor="middle" font-weight="normal" fill="#777" color="#777">x.x</text>
<text transform="translate(230.80,395.90) scale(1.0,1.0)" font-size="6.7" text-anchor="end" font-weight="normal" fill="#333" color="#333" style="stroke-width:0.2px">10<tspan dy="-2.6" font-size="4.29">4</tspan></text>
<text transform="translate(230.80,411.50) scale(1.0,1.0)" font-size="6.7" text-anchor="end" font-weight="normal" fill="#333" color="#333" style="stroke-width:0.2px">10<tspan dy="-2.6" font-size="4.29">3</tspan></text>
<text transform="translate(230.80,426.20) scale(1.0,1.0)" font-size="6.7" text-anchor="end" font-weight="normal" fill="#333" color="#333" style="stroke-width:0.2px">10<tspan dy="-2.6" font-size="4.29">2</tspan></text>
<text transform="translate(230.80,440.10) scale(1.0,1.0)" font-size="6.7" text-anchor="end" font-weight="normal" fill="#333" color="#333" style="stroke-width:0.2px">10<tspan dy="-2.6" font-size="4.29">1</tspan></text>
<text transform="translate(230.80,455.20) scale(1.0,1.0)" font-size="6.7" text-anchor="end" font-weight="normal" fill="#333" color="#333" style="stroke-width:0.2px">10<tspan dy="-2.6" font-size="4.29">0</tspan></text>
<text transform="translate(235.00,464.00) scale(1.0,1.0)" font-size="6.7" text-anchor="middle" font-weight="normal" fill="#333" color="#333" style="stroke-width:0.2px">10<tspan dy="-2.6" font-size="4.29">0</tspan></text>
<text transform="translate(259.20,464.00) scale(1.0,1.0)" font-size="6.7" text-anchor="middle" font-weight="normal" fill="#333" color="#333" style="stroke-width:0.2px">10<tspan dy="-2.6" font-size="4.29">1</tspan></text>
<text transform="translate(286.90,464.00) scale(1.0,1.0)" font-size="6.7" text-anchor="middle" font-weight="normal" fill="#333" color="#333" style="stroke-width:0.2px">10<tspan dy="-2.6" font-size="4.29">2</tspan></text>
<line x1="216.50" y1="454.00" x2="216.50" y2="400.50" stroke="#111" stroke-width="1.3"/>
<path d="M216.50,397.00 L214.60,401.30 L218.40,401.30 Z" fill="#111"/>
<line x1="232.70" y1="468.80" x2="287.50" y2="468.80" stroke="#111" stroke-width="1.3"/>
<path d="M291.00,468.80 L286.70,466.90 L286.70,470.70 Z" fill="#111"/>
<text transform="translate(211.40,427.50) rotate(-90) scale(0.58,1)" font-size="10.0" text-anchor="middle" font-weight="bold" fill="#1a1a1a" color="#1a1a1a" style="stroke-width:0.3px">Lck</text>
<text transform="translate(259.30,479.60) scale(0.58,1.0)" font-size="10.0" text-anchor="middle" font-weight="bold" fill="#1a1a1a" color="#1a1a1a" style="stroke-width:0.3px">CD19</text>
<g transform="translate(131.20,498.80)" shape-rendering="crispEdges"><path fill="#2c2c9e" d="M15 27h4v1h-4zM22 27h1v1h-1zM10 28h1v1h-1zM21 28h3v1h-3zM9 29h1v1h-1zM22 29h2v1h-2zM8 30h1v1h-1zM23 30h1v1h-1zM7 31h1v1h-1zM23 31h2v1h-2zM22 32h1v1h-1zM5 33h1v1h-1zM22 33h1v1h-1zM4 34h1v1h-1zM22 34h1v1h-1zM4 35h1v1h-1zM21 35h2v1h-2zM20 36h2v1h-2zM6 37h1v1h-1zM20 37h4v1h-4zM5 38h3v1h-3zM22 38h1v1h-1zM24 38h1v1h-1zM26 38h1v1h-1zM7 39h3v1h-3zM29 39h1v1h-1zM8 40h3v1h-3zM7 41h3v1h-3zM28 41h2v1h-2zM6 42h3v1h-3zM28 42h1v1h-1zM5 43h2v1h-2zM29 43h2v1h-2zM5 44h1v1h-1zM4 45h1v1h-1zM27 45h2v1h-2zM3 46h2v1h-2zM27 46h2v1h-2zM25 47h1v1h-1zM24 48h1v1h-1zM4 49h1v1h-1zM21 49h2v1h-2zM4 50h1v1h-1zM3 51h3v1h-3zM5 52h2v1h-2zM14 52h2v1h-2zM7 53h1v1h-1zM9 53h4v1h-4zM14 53h1v1h-1z"/><path fill="#3232aa" d="M19 27h1v1h-1zM3 35h1v1h-1zM3 36h2v1h-2zM19 37h1v1h-1zM25 38h1v1h-1zM28 39h1v1h-1zM30 42h1v1h-1zM3 47h1v1h-1zM3 48h1v1h-1z"/><path fill="#262691" d="M13 28h1v1h-1zM19 28h1v1h-1zM10 29h3v1h-3zM9 30h1v1h-1zM22 31h1v1h-1zM6 32h2v1h-2zM6 33h1v1h-1zM5 34h1v1h-1zM20 34h2v1h-2zM5 35h1v1h-1zM20 35h1v1h-1zM5 36h1v1h-1zM18 36h2v1h-2zM18 37h1v1h-1zM8 38h1v1h-1zM11 38h1v1h-1zM15 38h4v1h-4zM20 38h2v1h-2zM23 38h1v1h-1zM10 39h4v1h-4zM15 39h1v1h-1zM25 39h3v1h-3zM11 40h1v1h-1zM27 40h3v1h-3zM27 41h1v1h-1zM9 42h1v1h-1zM29 42h1v1h-1zM7 43h2v1h-2zM27 43h2v1h-2zM6 44h2v1h-2zM28 44h1v1h-1zM5 45h1v1h-1zM26 46h1v1h-1zM4 47h1v1h-1zM24 47h1v1h-1zM4 48h1v1h-1zM23 48h1v1h-1zM5 50h1v1h-1zM17 50h3v1h-3zM6 51h2v1h-2zM15 51h3v1h-3zM7 52h4v1h-4zM12 52h2v1h-2zM16 52h1v1h-1zM13 53h1v1h-1z"/><path fill="#272c94" d="M14 28h5v1h-5zM20 28h1v1h-1zM14 29h1v1h-1zM20 29h2v1h-2zM10 30h1v1h-1zM22 30h1v1h-1zM8 31h1v1h-1zM21 32h1v1h-1zM21 33h1v1h-1zM6 34h1v1h-1zM6 35h1v1h-1zM19 35h1v1h-1zM6 36h2v1h-2zM17 36h1v1h-1zM8 37h1v1h-1zM13 37h1v1h-1zM15 37h3v1h-3zM9 38h2v1h-2zM12 38h3v1h-3zM19 38h1v1h-1zM14 39h1v1h-1zM16 39h1v1h-1zM22 39h1v1h-1zM24 39h1v1h-1zM12 40h1v1h-1zM26 40h1v1h-1zM10 41h1v1h-1zM27 42h1v1h-1zM9 43h1v1h-1zM8 44h1v1h-1zM26 44h2v1h-2zM6 45h1v1h-1zM26 45h1v1h-1zM5 46h2v1h-2zM24 46h2v1h-2zM5 47h3v1h-3zM23 47h1v1h-1zM5 48h1v1h-1zM21 48h2v1h-2zM5 49h1v1h-1zM19 49h2v1h-2zM6 50h1v1h-1zM8 50h1v1h-1zM16 50h1v1h-1zM8 51h1v1h-1zM10 51h2v1h-2zM13 51h1v1h-1zM11 52h1v1h-1z"/><path fill="#2b39a0" d="M13 29h1v1h-1zM11 30h2v1h-2zM21 30h1v1h-1zM9 31h1v1h-1zM21 31h1v1h-1zM8 32h1v1h-1zM20 32h1v1h-1zM7 33h1v1h-1zM20 33h1v1h-1zM19 34h1v1h-1zM7 35h1v1h-1zM7 37h1v1h-1zM9 37h2v1h-2zM14 37h1v1h-1zM19 39h3v1h-3zM23 39h1v1h-1zM13 40h2v1h-2zM11 41h2v1h-2zM26 41h1v1h-1zM10 42h1v1h-1zM26 43h1v1h-1zM7 45h2v1h-2zM25 45h1v1h-1zM7 46h1v1h-1zM22 47h1v1h-1zM6 48h2v1h-2zM6 49h2v1h-2zM17 49h2v1h-2zM7 50h1v1h-1zM15 50h1v1h-1zM9 51h1v1h-1zM14 51h1v1h-1z"/><path fill="#3658b4" d="M15 29h1v1h-1zM17 29h3v1h-3zM20 30h1v1h-1zM10 31h1v1h-1zM9 32h1v1h-1zM8 33h1v1h-1zM7 34h1v1h-1zM17 35h2v1h-2zM8 36h1v1h-1zM15 36h2v1h-2zM11 37h2v1h-2zM17 39h2v1h-2zM15 40h2v1h-2zM22 40h4v1h-4zM13 41h1v1h-1zM24 41h2v1h-2zM11 42h1v1h-1zM26 42h1v1h-1zM25 43h1v1h-1zM24 44h1v1h-1zM9 45h1v1h-1zM23 46h1v1h-1zM21 47h1v1h-1zM8 48h1v1h-1zM19 48h2v1h-2zM8 49h2v1h-2zM14 49h1v1h-1zM9 50h6v1h-6zM12 51h1v1h-1z"/><path fill="#4ca2c4" d="M16 29h1v1h-1zM13 30h3v1h-3zM18 30h1v1h-1zM11 31h1v1h-1zM19 32h1v1h-1zM9 33h1v1h-1zM18 33h2v1h-2zM8 34h1v1h-1zM17 34h1v1h-1zM16 35h1v1h-1zM10 36h1v1h-1zM13 36h1v1h-1zM17 41h2v1h-2zM23 42h2v1h-2zM11 43h1v1h-1zM22 45h2v1h-2zM19 47h1v1h-1zM10 48h1v1h-1zM15 49h1v1h-1z"/><path fill="#60c25e" d="M16 30h1v1h-1zM17 31h1v1h-1zM11 32h1v1h-1zM11 33h2v1h-2zM15 34h1v1h-1zM11 35h2v1h-2zM16 42h2v1h-2zM20 42h1v1h-1zM12 44h1v1h-1zM21 45h1v1h-1zM13 46h1v1h-1zM19 46h1v1h-1zM12 47h1v1h-1zM17 47h1v1h-1z"/><path fill="#4fb6a3" d="M17 30h1v1h-1zM18 31h1v1h-1zM10 32h1v1h-1zM9 34h1v1h-1zM9 35h2v1h-2zM14 35h2v1h-2zM12 36h1v1h-1zM16 41h1v1h-1zM19 41h2v1h-2zM14 42h1v1h-1zM13 43h1v1h-1zM23 43h1v1h-1zM11 44h1v1h-1zM22 44h2v1h-2zM10 45h2v1h-2zM10 46h2v1h-2zM21 46h1v1h-1zM10 47h2v1h-2zM11 48h6v1h-6zM12 49h1v1h-1z"/><path fill="#4584cd" d="M19 30h1v1h-1zM19 31h2v1h-2zM18 34h1v1h-1zM8 35h1v1h-1zM9 36h1v1h-1zM11 36h1v1h-1zM14 36h1v1h-1zM17 40h5v1h-5zM14 41h2v1h-2zM22 41h2v1h-2zM12 42h2v1h-2zM25 42h1v1h-1zM10 43h1v1h-1zM24 43h1v1h-1zM9 44h2v1h-2zM25 44h1v1h-1zM24 45h1v1h-1zM8 46h2v1h-2zM22 46h1v1h-1zM8 47h2v1h-2zM20 47h1v1h-1zM9 48h1v1h-1zM17 48h2v1h-2zM10 49h2v1h-2zM13 49h1v1h-1zM16 49h1v1h-1z"/><path fill="#56c081" d="M12 31h2v1h-2zM18 32h1v1h-1zM10 33h1v1h-1zM17 33h1v1h-1zM10 34h2v1h-2zM16 34h1v1h-1zM13 35h1v1h-1zM21 41h1v1h-1zM15 42h1v1h-1zM21 42h2v1h-2zM12 43h1v1h-1zM12 46h1v1h-1zM18 46h1v1h-1zM20 46h1v1h-1zM16 47h1v1h-1zM18 47h1v1h-1z"/><path fill="#74c649" d="M14 31h3v1h-3zM12 32h1v1h-1zM17 32h1v1h-1zM16 33h1v1h-1zM18 42h2v1h-2zM14 43h1v1h-1zM21 43h2v1h-2zM20 44h2v1h-2zM12 45h1v1h-1zM20 45h1v1h-1zM15 46h1v1h-1zM13 47h3v1h-3z"/><path fill="#aad232" d="M13 32h1v1h-1zM16 43h1v1h-1zM15 44h1v1h-1zM14 45h2v1h-2z"/><path fill="#8fcc3e" d="M14 32h3v1h-3zM13 33h1v1h-1zM15 33h1v1h-1zM12 34h3v1h-3zM15 43h1v1h-1zM20 43h1v1h-1zM13 44h2v1h-2zM19 44h1v1h-1zM13 45h1v1h-1zM18 45h2v1h-2zM14 46h1v1h-1zM16 46h2v1h-2z"/><path fill="#c8d22d" d="M14 33h1v1h-1zM17 43h3v1h-3zM16 44h3v1h-3zM17 45h1v1h-1z"/><path fill="#e5d229" d="M16 45h1v1h-1z"/></g>
<g fill="none" stroke="#2a2a90" stroke-opacity="0.75" stroke-width="1.3"><ellipse cx="145.6" cy="532.0" rx="8.2" ry="4.9" transform="rotate(-20 145.6 532.0)"/><ellipse cx="148.4" cy="543.5" rx="10.8" ry="5.6" transform="rotate(-15 148.4 543.5)"/></g>
<path transform="translate(131.20,498.80)" fill="#6a6ad0" fill-opacity="0.5" d="M31.4 43.8h.9v.9h-.9zM8.5 43.7h.9v.9h-.9zM3.3 46.3h.9v.9h-.9zM18.4 47.6h.9v.9h-.9zM9.9 42h.9v.9h-.9zM18.2 46.9h.9v.9h-.9zM7.7 42h.9v.9h-.9zM1.9 33.3h.9v.9h-.9zM24 41.2h.9v.9h-.9zM20.5 40.9h.9v.9h-.9zM12.6 43.4h.9v.9h-.9zM26 39.6h.9v.9h-.9zM23.1 44.4h.9v.9h-.9zM20.9 30.4h.9v.9h-.9zM8.6 38.7h.9v.9h-.9zM9.7 42.3h.9v.9h-.9zM26.2 43.5h.9v.9h-.9zM26.4 38h.9v.9h-.9zM16.2 46.7h.9v.9h-.9zM24.7 33.7h.9v.9h-.9zM27.6 40.6h.9v.9h-.9zM19.4 53.2h.9v.9h-.9zM10.1 39.8h.9v.9h-.9zM18 47.1h.9v.9h-.9zM12.6 39.2h.9v.9h-.9zM15.6 47.2h.9v.9h-.9zM15.1 51.7h.9v.9h-.9zM15.6 42h.9v.9h-.9zM11.8 45.4h.9v.9h-.9zM26 43.9h.9v.9h-.9zM23 42.8h.9v.9h-.9zM25.9 40.7h.9v.9h-.9zM13.6 41.7h.9v.9h-.9zM19 39.6h.9v.9h-.9zM22.6 43.4h.9v.9h-.9zM13 54.2h.9v.9h-.9zM16.6 46.6h.9v.9h-.9zM13.9 38.1h.9v.9h-.9zM21.6 41.4h.9v.9h-.9zM7.4 46.8h.9v.9h-.9zM14.2 40.1h.9v.9h-.9zM20.4 31.8h.9v.9h-.9zM18.7 43.7h.9v.9h-.9zM15.3 42.6h.9v.9h-.9zM10.4 37h.9v.9h-.9zM16.3 43h.9v.9h-.9zM22 36.8h.9v.9h-.9zM21.4 56.8h.9v.9h-.9zM5.3 53.5h.9v.9h-.9zM28.6 40.9h.9v.9h-.9zM15 50.4h.9v.9h-.9zM20.4 45.2h.9v.9h-.9zM17.9 50.4h.9v.9h-.9zM0.3 22.1h.9v.9h-.9zM18.7 31.5h.9v.9h-.9zM17.9 40.6h.9v.9h-.9zM6.2 29.1h.9v.9h-.9zM21.7 42.2h.9v.9h-.9zM5.8 46.3h.9v.9h-.9zM6.2 46.1h.9v.9h-.9zM6.4 42.2h.9v.9h-.9zM30 37.5h.9v.9h-.9zM17.8 33.5h.9v.9h-.9zM20.7 35.9h.9v.9h-.9zM26.9 37.1h.9v.9h-.9zM11.6 39.8h.9v.9h-.9zM12.2 34.5h.9v.9h-.9zM21.5 44.9h.9v.9h-.9zM3.5 54.1h.9v.9h-.9zM9 36.2h.9v.9h-.9zM10.7 34.4h.9v.9h-.9zM14.1 38.9h.9v.9h-.9zM4.6 42.4h.9v.9h-.9zM11.5 52.3h.9v.9h-.9zM31.5 35.3h.9v.9h-.9zM15.4 45h.9v.9h-.9zM11 37.2h.9v.9h-.9zM15.6 41.8h.9v.9h-.9zM5.8 41.8h.9v.9h-.9zM13.8 46.5h.9v.9h-.9zM12.2 30.2h.9v.9h-.9zM13.5 45h.9v.9h-.9zM6.3 42.2h.9v.9h-.9zM17.4 37h.9v.9h-.9zM5.2 46.3h.9v.9h-.9zM35 48.6h.9v.9h-.9zM11 36.4h.9v.9h-.9zM6.1 43.4h.9v.9h-.9zM25.4 39.5h.9v.9h-.9zM30.4 40.4h.9v.9h-.9zM27.9 40.6h.9v.9h-.9zM13.5 36.7h.9v.9h-.9zM25 43.8h.9v.9h-.9zM31.3 38.3h.9v.9h-.9zM14.9 48h.9v.9h-.9zM3.2 45.4h.9v.9h-.9zM18.8 32.9h.9v.9h-.9zM18.6 35.7h.9v.9h-.9zM11.3 38.3h.9v.9h-.9zM30.5 38.4h.9v.9h-.9zM12.2 44.5h.9v.9h-.9zM10.6 48.8h.9v.9h-.9zM24.1 40.1h.9v.9h-.9zM15 43.9h.9v.9h-.9zM27.7 47.8h.9v.9h-.9zM23.4 45h.9v.9h-.9zM36.6 43.2h.9v.9h-.9zM27.7 40.7h.9v.9h-.9zM27.6 44.1h.9v.9h-.9zM19.6 36.9h.9v.9h-.9zM21.4 42.6h.9v.9h-.9zM5.3 27.9h.9v.9h-.9zM19.7 41.5h.9v.9h-.9zM18.9 31.5h.9v.9h-.9zM31.5 39.6h.9v.9h-.9zM4 35.1h.9v.9h-.9zM22.3 55.5h.9v.9h-.9zM27.6 39.1h.9v.9h-.9zM25 52.3h.9v.9h-.9zM29.1 40.7h.9v.9h-.9zM28.4 37.7h.9v.9h-.9zM21.1 40.4h.9v.9h-.9zM16.1 45.9h.9v.9h-.9zM30.3 38h.9v.9h-.9zM23.5 46.6h.9v.9h-.9zM26.8 31.5h.9v.9h-.9zM24.2 43.2h.9v.9h-.9zM14 26.2h.9v.9h-.9zM4.7 26h.9v.9h-.9zM26.2 42.6h.9v.9h-.9zM13.5 41.4h.9v.9h-.9zM20.9 37.1h.9v.9h-.9zM10.4 51.1h.9v.9h-.9zM20.8 42.4h.9v.9h-.9zM19.8 53.7h.9v.9h-.9zM12.8 47.5h.9v.9h-.9zM16.3 43.4h.9v.9h-.9zM21.4 58h.9v.9h-.9zM10.5 51.8h.9v.9h-.9zM21.9 44.4h.9v.9h-.9zM23.4 37.2h.9v.9h-.9zM1.5 43.6h.9v.9h-.9zM9.2 51.9h.9v.9h-.9zM26.7 49.4h.9v.9h-.9zM19.6 35h.9v.9h-.9zM11.6 45.9h.9v.9h-.9zM23 45.5h.9v.9h-.9zM22.6 42.3h.9v.9h-.9zM13.3 45.2h.9v.9h-.9zM9.8 31.8h.9v.9h-.9zM25 36.7h.9v.9h-.9zM29.4 32.2h.9v.9h-.9zM19.2 54.4h.9v.9h-.9zM12.7 41h.9v.9h-.9zM25.7 42.8h.9v.9h-.9zM27.4 37.6h.9v.9h-.9zM18.2 42.3h.9v.9h-.9zM8.5 44.3h.9v.9h-.9zM28.4 39.3h.9v.9h-.9zM23.7 34.2h.9v.9h-.9zM5.3 58.8h.9v.9h-.9zM17.7 39.5h.9v.9h-.9zM14.1 28.7h.9v.9h-.9zM5.1 29.7h.9v.9h-.9zM10.1 36.2h.9v.9h-.9zM19.8 41.1h.9v.9h-.9zM19.9 41.6h.9v.9h-.9zM1.6 45h.9v.9h-.9zM18.9 43.5h.9v.9h-.9zM30.4 37.8h.9v.9h-.9zM24.5 47.5h.9v.9h-.9zM14.1 42.5h.9v.9h-.9zM12.9 52.3h.9v.9h-.9zM14.9 51.4h.9v.9h-.9zM30.5 38.8h.9v.9h-.9zM17.4 41.5h.9v.9h-.9zM33.8 39.2h.9v.9h-.9zM13.7 42.1h.9v.9h-.9zM21.1 39.4h.9v.9h-.9zM15.5 27.4h.9v.9h-.9zM21.4 33.3h.9v.9h-.9zM26.8 48.5h.9v.9h-.9zM14.8 43.9h.9v.9h-.9zM3 28.4h.9v.9h-.9zM24.7 45.6h.9v.9h-.9zM11 39.5h.9v.9h-.9zM23.5 48.7h.9v.9h-.9zM11.5 35.3h.9v.9h-.9zM19.3 42.3h.9v.9h-.9zM27.9 40.9h.9v.9h-.9zM12.5 55.8h.9v.9h-.9zM20 38.5h.9v.9h-.9z"/>
<rect x="131.20" y="498.80" width="60.00" height="60.10" fill="none" stroke="#8a8a8a" stroke-width="0.8"/>
<text transform="translate(161.20,495.30) scale(1.0,1.0)" font-size="6.9" text-anchor="middle" font-weight="normal" fill="#222" color="#222"><tspan>CD19</tspan><tspan dy="-2.6" font-size="4.6">+</tspan><tspan dy="2.6">CD5</tspan><tspan dy="-2.6" font-size="4.6">+</tspan><tspan dy="2.6"> cells</tspan></text>
<text transform="translate(185.40,510.00) scale(1.0,1.0)" font-size="5.2" text-anchor="middle" font-weight="normal" fill="#222" color="#222">b</text>
<text transform="translate(143.80,523.20) scale(1.0,1.0)" font-size="5.4" text-anchor="start" font-weight="normal" fill="#222" color="#222">Lck<tspan dy="-2.4" font-size="4.3">hi</tspan></text>
<text transform="translate(158.80,550.00) scale(1.0,1.0)" font-size="5.4" text-anchor="start" font-weight="normal" fill="#222" color="#222">Lck<tspan dy="-2.4" font-size="4.3">-/low</tspan></text>
<text transform="translate(127.20,501.00) scale(1.0,1.0)" font-size="6.7" text-anchor="end" font-weight="normal" fill="#333" color="#333" style="stroke-width:0.2px">10<tspan dy="-2.6" font-size="4.29">4</tspan></text>
<text transform="translate(127.20,516.00) scale(1.0,1.0)" font-size="6.7" text-anchor="end" font-weight="normal" fill="#333" color="#333" style="stroke-width:0.2px">10<tspan dy="-2.6" font-size="4.29">3</tspan></text>
<text transform="translate(127.20,531.00) scale(1.0,1.0)" font-size="6.7" text-anchor="end" font-weight="normal" fill="#333" color="#333" style="stroke-width:0.2px">10<tspan dy="-2.6" font-size="4.29">2</tspan></text>
<text transform="translate(127.20,546.50) scale(1.0,1.0)" font-size="6.7" text-anchor="end" font-weight="normal" fill="#333" color="#333" style="stroke-width:0.2px">10<tspan dy="-2.6" font-size="4.29">1</tspan></text>
<text transform="translate(127.20,561.10) scale(1.0,1.0)" font-size="6.7" text-anchor="end" font-weight="normal" fill="#333" color="#333" style="stroke-width:0.2px">10<tspan dy="-2.6" font-size="4.29">0</tspan></text>
<text transform="translate(131.20,570.20) scale(1.0,1.0)" font-size="6.7" text-anchor="middle" font-weight="normal" fill="#333" color="#333" style="stroke-width:0.2px">10<tspan dy="-2.6" font-size="4.29">0</tspan></text>
<text transform="translate(156.50,570.20) scale(1.0,1.0)" font-size="6.7" text-anchor="middle" font-weight="normal" fill="#333" color="#333" style="stroke-width:0.2px">10<tspan dy="-2.6" font-size="4.29">1</tspan></text>
<text transform="translate(181.90,570.20) scale(1.0,1.0)" font-size="6.7" text-anchor="middle" font-weight="normal" fill="#333" color="#333" style="stroke-width:0.2px">10<tspan dy="-2.6" font-size="4.29">2</tspan></text>
<line x1="113.00" y1="560.00" x2="113.00" y2="507.90" stroke="#111" stroke-width="1.3"/>
<path d="M113.00,504.40 L111.10,508.70 L114.90,508.70 Z" fill="#111"/>
<line x1="127.70" y1="575.00" x2="183.50" y2="575.00" stroke="#111" stroke-width="1.3"/>
<path d="M187.00,575.00 L182.70,573.10 L182.70,576.90 Z" fill="#111"/>
<text transform="translate(107.80,533.40) rotate(-90) scale(0.6,1)" font-size="9.6" text-anchor="middle" font-weight="bold" fill="#1a1a1a" color="#1a1a1a" style="stroke-width:0.3px">Lck</text>
<text transform="translate(156.00,585.80) scale(0.58,1.0)" font-size="10.0" text-anchor="middle" font-weight="bold" fill="#1a1a1a" color="#1a1a1a" style="stroke-width:0.3px">CD19</text>
<g transform="translate(234.80,499.20)" shape-rendering="crispEdges"><path fill="#8d90de" d="M8 2h1v1h-1zM11 8h1v1h-1zM10 9h1v1h-1zM24 10h1v1h-1zM5 11h1v1h-1zM12 11h1v1h-1zM19 11h1v1h-1zM5 12h1v1h-1zM9 12h1v1h-1zM12 12h1v1h-1zM17 12h1v1h-1zM9 13h2v1h-2zM15 13h2v1h-2zM18 13h2v1h-2zM25 13h1v1h-1zM0 14h1v1h-1zM2 14h1v1h-1zM5 14h2v1h-2zM9 14h1v1h-1zM12 14h2v1h-2zM0 15h1v1h-1zM5 15h1v1h-1zM7 15h2v1h-2zM21 15h1v1h-1zM23 15h2v1h-2zM4 16h4v1h-4zM11 16h1v1h-1zM15 16h1v1h-1zM17 16h1v1h-1zM26 16h1v1h-1zM6 17h1v1h-1zM17 17h1v1h-1zM20 17h1v1h-1zM23 17h2v1h-2zM30 17h1v1h-1zM2 18h2v1h-2zM7 18h1v1h-1zM13 18h1v1h-1zM15 18h1v1h-1zM21 18h1v1h-1zM24 18h1v1h-1zM31 18h1v1h-1zM14 19h1v1h-1zM17 19h1v1h-1zM26 19h2v1h-2zM0 20h3v1h-3zM21 20h1v1h-1zM24 20h1v1h-1zM0 22h1v1h-1zM3 22h1v1h-1zM7 22h1v1h-1zM23 22h2v1h-2zM26 23h2v1h-2zM26 24h1v1h-1zM29 24h1v1h-1zM0 25h2v1h-2zM1 26h1v1h-1zM28 26h2v1h-2zM0 27h1v1h-1zM28 27h1v1h-1zM29 29h1v1h-1zM29 31h1v1h-1zM36 31h1v1h-1zM29 32h2v1h-2zM31 33h1v1h-1zM33 33h1v1h-1zM33 34h1v1h-1zM31 35h1v1h-1zM30 36h1v1h-1zM32 37h1v1h-1zM0 38h1v1h-1zM30 38h3v1h-3zM31 39h2v1h-2zM31 40h2v1h-2zM0 41h1v1h-1zM8 41h1v1h-1zM28 41h1v1h-1zM3 42h1v1h-1zM28 42h1v1h-1zM31 42h2v1h-2zM28 44h2v1h-2zM31 44h1v1h-1zM2 45h1v1h-1zM29 45h2v1h-2zM0 46h1v1h-1zM30 46h1v1h-1zM0 47h2v1h-2zM30 48h1v1h-1zM3 49h1v1h-1zM27 50h1v1h-1zM29 50h1v1h-1zM0 51h2v1h-2zM21 51h2v1h-2zM26 51h1v1h-1zM28 51h1v1h-1zM7 52h1v1h-1zM12 52h2v1h-2zM19 52h1v1h-1zM22 52h1v1h-1zM1 53h1v1h-1zM6 53h3v1h-3zM12 53h2v1h-2zM24 53h1v1h-1zM7 54h1v1h-1zM12 54h2v1h-2zM18 54h2v1h-2zM21 54h1v1h-1zM23 54h1v1h-1zM28 54h1v1h-1zM5 55h1v1h-1zM9 55h3v1h-3zM15 55h2v1h-2zM19 55h1v1h-1zM10 56h2v1h-2zM13 56h1v1h-1zM17 56h1v1h-1zM19 56h1v1h-1zM26 56h1v1h-1zM6 57h1v1h-1zM13 57h1v1h-1zM23 57h1v1h-1zM16 58h1v1h-1zM5 59h1v1h-1z"/><path fill="#8488da" d="M5 9h1v1h-1zM16 9h1v1h-1zM12 10h1v1h-1zM16 10h1v1h-1zM7 11h1v1h-1zM11 12h1v1h-1zM13 12h1v1h-1zM6 13h2v1h-2zM14 13h1v1h-1zM20 13h1v1h-1zM7 14h2v1h-2zM11 14h1v1h-1zM14 14h1v1h-1zM17 14h2v1h-2zM9 15h2v1h-2zM12 15h3v1h-3zM19 15h1v1h-1zM8 16h1v1h-1zM13 16h1v1h-1zM16 16h1v1h-1zM18 16h2v1h-2zM2 17h2v1h-2zM5 17h1v1h-1zM10 17h1v1h-1zM13 17h1v1h-1zM19 17h1v1h-1zM21 17h1v1h-1zM1 18h1v1h-1zM6 18h1v1h-1zM11 18h1v1h-1zM19 18h1v1h-1zM1 19h2v1h-2zM5 19h1v1h-1zM9 19h1v1h-1zM12 19h1v1h-1zM16 19h1v1h-1zM20 19h3v1h-3zM3 20h1v1h-1zM5 20h1v1h-1zM8 20h2v1h-2zM15 20h1v1h-1zM19 20h1v1h-1zM22 20h2v1h-2zM3 21h1v1h-1zM5 21h1v1h-1zM7 21h1v1h-1zM12 21h2v1h-2zM17 21h1v1h-1zM19 21h3v1h-3zM23 21h1v1h-1zM25 21h1v1h-1zM27 21h1v1h-1zM1 22h1v1h-1zM4 22h3v1h-3zM17 22h1v1h-1zM22 22h1v1h-1zM26 22h2v1h-2zM30 22h1v1h-1zM7 23h1v1h-1zM10 23h1v1h-1zM13 23h1v1h-1zM19 23h1v1h-1zM22 23h1v1h-1zM24 23h2v1h-2zM1 24h1v1h-1zM3 24h2v1h-2zM18 24h1v1h-1zM25 24h1v1h-1zM27 24h1v1h-1zM4 25h1v1h-1zM19 25h1v1h-1zM26 25h3v1h-3zM30 25h1v1h-1zM19 26h1v1h-1zM21 26h1v1h-1zM27 26h1v1h-1zM1 27h1v1h-1zM23 27h1v1h-1zM26 27h1v1h-1zM29 27h2v1h-2zM2 28h1v1h-1zM28 28h1v1h-1zM0 29h1v1h-1zM23 29h1v1h-1zM27 29h2v1h-2zM30 29h2v1h-2zM0 30h1v1h-1zM2 30h1v1h-1zM30 30h1v1h-1zM28 31h1v1h-1zM0 32h1v1h-1zM31 32h1v1h-1zM28 33h2v1h-2zM28 34h1v1h-1zM30 34h1v1h-1zM0 35h2v1h-2zM29 35h1v1h-1zM32 35h1v1h-1zM0 36h1v1h-1zM31 36h1v1h-1zM0 37h1v1h-1zM28 37h1v1h-1zM30 37h2v1h-2zM28 38h2v1h-2zM0 39h1v1h-1zM29 39h1v1h-1zM0 40h1v1h-1zM28 40h1v1h-1zM5 41h1v1h-1zM27 41h1v1h-1zM29 41h2v1h-2zM32 41h1v1h-1zM0 42h1v1h-1zM29 42h2v1h-2zM33 42h1v1h-1zM1 43h2v1h-2zM7 44h1v1h-1zM24 44h1v1h-1zM0 45h2v1h-2zM6 45h1v1h-1zM9 45h1v1h-1zM25 45h1v1h-1zM28 45h1v1h-1zM2 46h2v1h-2zM24 46h1v1h-1zM26 46h1v1h-1zM28 46h1v1h-1zM2 47h1v1h-1zM5 47h1v1h-1zM25 47h3v1h-3zM0 48h1v1h-1zM2 48h2v1h-2zM6 48h1v1h-1zM8 48h1v1h-1zM12 48h1v1h-1zM23 48h1v1h-1zM25 48h1v1h-1zM27 48h1v1h-1zM1 49h1v1h-1zM4 49h1v1h-1zM6 49h1v1h-1zM8 49h1v1h-1zM24 49h1v1h-1zM28 49h1v1h-1zM3 50h2v1h-2zM7 50h2v1h-2zM16 50h1v1h-1zM24 50h1v1h-1zM26 50h1v1h-1zM28 50h1v1h-1zM4 51h1v1h-1zM6 51h2v1h-2zM10 51h2v1h-2zM17 51h3v1h-3zM23 51h2v1h-2zM4 52h1v1h-1zM8 52h1v1h-1zM10 52h2v1h-2zM20 52h2v1h-2zM23 52h2v1h-2zM11 53h1v1h-1zM16 53h1v1h-1zM18 53h1v1h-1zM20 53h4v1h-4zM6 54h1v1h-1zM8 54h4v1h-4zM15 54h3v1h-3zM20 54h1v1h-1zM2 55h1v1h-1zM7 55h1v1h-1zM8 56h1v1h-1zM12 56h1v1h-1zM15 56h1v1h-1zM15 57h1v1h-1zM12 58h1v1h-1z"/><path fill="#7a80d7" d="M11 15h1v1h-1zM17 15h1v1h-1zM20 15h1v1h-1zM9 16h1v1h-1zM12 16h1v1h-1zM14 16h1v1h-1zM15 17h2v1h-2zM18 17h1v1h-1zM4 18h1v1h-1zM8 18h2v1h-2zM12 18h1v1h-1zM14 18h1v1h-1zM7 19h2v1h-2zM10 19h2v1h-2zM13 19h1v1h-1zM23 19h1v1h-1zM4 20h1v1h-1zM6 20h2v1h-2zM10 20h3v1h-3zM16 20h2v1h-2zM20 20h1v1h-1zM1 21h1v1h-1zM4 21h1v1h-1zM6 21h1v1h-1zM8 21h3v1h-3zM14 21h1v1h-1zM24 21h1v1h-1zM26 21h1v1h-1zM2 22h1v1h-1zM9 22h1v1h-1zM14 22h1v1h-1zM16 22h1v1h-1zM18 22h1v1h-1zM20 22h1v1h-1zM25 22h1v1h-1zM2 23h5v1h-5zM8 23h1v1h-1zM16 23h1v1h-1zM21 23h1v1h-1zM23 23h1v1h-1zM28 23h1v1h-1zM2 24h1v1h-1zM6 24h1v1h-1zM8 24h2v1h-2zM20 24h2v1h-2zM23 24h1v1h-1zM16 25h1v1h-1zM20 25h1v1h-1zM24 25h2v1h-2zM29 25h1v1h-1zM0 26h1v1h-1zM2 26h2v1h-2zM6 26h2v1h-2zM17 26h1v1h-1zM25 26h2v1h-2zM5 27h2v1h-2zM24 27h2v1h-2zM27 27h1v1h-1zM1 28h1v1h-1zM16 28h1v1h-1zM23 28h1v1h-1zM27 28h1v1h-1zM2 29h1v1h-1zM24 29h3v1h-3zM23 30h2v1h-2zM27 30h2v1h-2zM1 31h1v1h-1zM23 31h1v1h-1zM25 31h1v1h-1zM27 31h1v1h-1zM2 32h1v1h-1zM28 32h1v1h-1zM0 33h1v1h-1zM2 33h1v1h-1zM27 33h1v1h-1zM1 34h1v1h-1zM4 34h1v1h-1zM6 34h1v1h-1zM29 34h1v1h-1zM24 35h1v1h-1zM27 35h2v1h-2zM27 36h1v1h-1zM29 36h1v1h-1zM1 37h2v1h-2zM21 37h1v1h-1zM27 37h1v1h-1zM29 37h1v1h-1zM1 38h1v1h-1zM4 38h1v1h-1zM25 38h1v1h-1zM25 39h2v1h-2zM28 39h1v1h-1zM1 40h2v1h-2zM27 40h1v1h-1zM29 40h1v1h-1zM1 42h1v1h-1zM24 42h1v1h-1zM26 42h2v1h-2zM0 43h1v1h-1zM23 43h1v1h-1zM26 43h1v1h-1zM1 44h2v1h-2zM26 44h1v1h-1zM26 45h1v1h-1zM1 46h1v1h-1zM25 46h1v1h-1zM3 47h1v1h-1zM14 47h2v1h-2zM22 47h1v1h-1zM4 48h1v1h-1zM24 48h1v1h-1zM2 49h1v1h-1zM7 49h1v1h-1zM11 49h1v1h-1zM15 49h3v1h-3zM21 49h1v1h-1zM6 50h1v1h-1zM12 50h1v1h-1zM14 50h2v1h-2zM19 50h2v1h-2zM22 50h2v1h-2zM5 51h1v1h-1zM8 51h2v1h-2zM15 51h2v1h-2zM20 51h1v1h-1zM25 51h1v1h-1zM6 52h1v1h-1zM9 52h1v1h-1zM14 52h1v1h-1zM16 52h1v1h-1zM18 52h1v1h-1zM10 53h1v1h-1zM14 53h2v1h-2z"/><path fill="#6e78d4" d="M7 17h3v1h-3zM10 18h1v1h-1zM16 18h3v1h-3zM18 19h2v1h-2zM13 20h2v1h-2zM15 21h1v1h-1zM18 21h1v1h-1zM10 22h1v1h-1zM13 22h1v1h-1zM15 22h1v1h-1zM19 22h1v1h-1zM21 22h1v1h-1zM9 23h1v1h-1zM17 23h1v1h-1zM20 23h1v1h-1zM0 24h1v1h-1zM7 24h1v1h-1zM10 24h1v1h-1zM13 24h2v1h-2zM16 24h1v1h-1zM19 24h1v1h-1zM22 24h1v1h-1zM24 24h1v1h-1zM3 25h1v1h-1zM5 25h3v1h-3zM13 25h3v1h-3zM21 25h3v1h-3zM4 26h2v1h-2zM9 26h1v1h-1zM12 26h1v1h-1zM18 26h1v1h-1zM23 26h1v1h-1zM2 27h1v1h-1zM7 27h1v1h-1zM15 27h1v1h-1zM22 27h1v1h-1zM3 28h3v1h-3zM19 28h1v1h-1zM21 28h2v1h-2zM25 28h1v1h-1zM1 29h1v1h-1zM21 29h1v1h-1zM8 30h1v1h-1zM13 30h1v1h-1zM25 30h2v1h-2zM2 31h1v1h-1zM26 31h1v1h-1zM1 32h1v1h-1zM23 32h1v1h-1zM26 32h2v1h-2zM23 33h1v1h-1zM26 33h1v1h-1zM0 34h1v1h-1zM25 34h3v1h-3zM2 35h1v1h-1zM25 35h1v1h-1zM25 36h2v1h-2zM28 36h1v1h-1zM26 37h1v1h-1zM2 38h1v1h-1zM27 38h1v1h-1zM1 39h3v1h-3zM27 39h1v1h-1zM3 40h1v1h-1zM5 40h1v1h-1zM2 41h2v1h-2zM25 41h2v1h-2zM2 42h1v1h-1zM7 42h1v1h-1zM25 42h1v1h-1zM3 43h1v1h-1zM5 43h1v1h-1zM24 43h2v1h-2zM4 44h1v1h-1zM21 44h1v1h-1zM23 44h1v1h-1zM25 44h1v1h-1zM27 44h1v1h-1zM3 45h1v1h-1zM5 45h1v1h-1zM24 45h1v1h-1zM4 46h2v1h-2zM11 46h1v1h-1zM23 46h1v1h-1zM4 47h1v1h-1zM6 47h3v1h-3zM23 47h1v1h-1zM5 48h1v1h-1zM9 48h1v1h-1zM13 48h3v1h-3zM20 48h2v1h-2zM9 49h2v1h-2zM13 49h1v1h-1zM19 49h2v1h-2zM22 49h2v1h-2zM5 50h1v1h-1zM10 50h2v1h-2zM13 50h1v1h-1zM17 50h1v1h-1zM12 51h2v1h-2zM15 52h1v1h-1zM17 52h1v1h-1z"/><path fill="#6171d0" d="M18 20h1v1h-1zM11 21h1v1h-1zM16 21h1v1h-1zM8 22h1v1h-1zM12 22h1v1h-1zM11 23h1v1h-1zM14 23h1v1h-1zM18 23h1v1h-1zM5 24h1v1h-1zM12 24h1v1h-1zM17 24h1v1h-1zM2 25h1v1h-1zM10 25h2v1h-2zM18 25h1v1h-1zM10 26h2v1h-2zM13 26h1v1h-1zM20 26h1v1h-1zM24 26h1v1h-1zM3 27h1v1h-1zM10 27h1v1h-1zM19 27h1v1h-1zM21 27h1v1h-1zM7 28h1v1h-1zM18 28h1v1h-1zM26 28h1v1h-1zM3 29h3v1h-3zM8 29h2v1h-2zM19 29h1v1h-1zM22 29h1v1h-1zM1 30h1v1h-1zM3 30h3v1h-3zM10 30h1v1h-1zM22 30h1v1h-1zM0 31h1v1h-1zM3 31h1v1h-1zM3 32h1v1h-1zM5 32h2v1h-2zM9 32h1v1h-1zM24 32h1v1h-1zM1 33h1v1h-1zM3 33h1v1h-1zM5 33h3v1h-3zM24 33h2v1h-2zM2 34h2v1h-2zM4 35h1v1h-1zM6 35h1v1h-1zM26 35h1v1h-1zM1 36h3v1h-3zM7 36h1v1h-1zM24 36h1v1h-1zM3 37h1v1h-1zM25 37h1v1h-1zM3 38h1v1h-1zM26 38h1v1h-1zM6 39h1v1h-1zM4 40h1v1h-1zM25 40h1v1h-1zM1 41h1v1h-1zM4 41h1v1h-1zM4 43h1v1h-1zM6 43h1v1h-1zM21 43h1v1h-1zM5 44h2v1h-2zM22 44h1v1h-1zM4 45h1v1h-1zM11 45h1v1h-1zM20 45h1v1h-1zM22 45h2v1h-2zM6 46h1v1h-1zM20 46h2v1h-2zM10 47h1v1h-1zM17 47h2v1h-2zM20 47h2v1h-2zM10 48h1v1h-1zM16 48h2v1h-2zM22 48h1v1h-1zM18 49h1v1h-1zM9 50h1v1h-1zM18 50h1v1h-1zM21 50h1v1h-1zM14 51h1v1h-1z"/><path fill="#5569cd" d="M11 22h1v1h-1zM12 23h1v1h-1zM15 23h1v1h-1zM8 25h2v1h-2zM12 25h1v1h-1zM8 26h1v1h-1zM16 26h1v1h-1zM22 26h1v1h-1zM4 27h1v1h-1zM12 27h1v1h-1zM14 27h1v1h-1zM16 27h2v1h-2zM13 28h1v1h-1zM20 28h1v1h-1zM24 28h1v1h-1zM6 29h2v1h-2zM18 29h1v1h-1zM20 29h1v1h-1zM6 30h1v1h-1zM9 30h1v1h-1zM18 30h1v1h-1zM4 31h1v1h-1zM6 31h1v1h-1zM10 31h2v1h-2zM17 31h1v1h-1zM24 31h1v1h-1zM4 32h1v1h-1zM8 32h1v1h-1zM20 32h2v1h-2zM19 33h1v1h-1zM22 33h1v1h-1zM3 35h1v1h-1zM9 35h1v1h-1zM5 36h1v1h-1zM16 36h1v1h-1zM6 37h1v1h-1zM24 37h1v1h-1zM5 38h2v1h-2zM4 39h1v1h-1zM26 40h1v1h-1zM22 41h1v1h-1zM24 41h1v1h-1zM5 42h2v1h-2zM22 42h1v1h-1zM15 43h1v1h-1zM8 44h1v1h-1zM20 44h1v1h-1zM7 45h2v1h-2zM16 45h2v1h-2zM19 45h1v1h-1zM21 45h1v1h-1zM7 46h1v1h-1zM10 46h1v1h-1zM12 46h1v1h-1zM17 46h1v1h-1zM22 46h1v1h-1zM9 47h1v1h-1zM11 47h1v1h-1zM19 47h1v1h-1zM7 48h1v1h-1zM11 48h1v1h-1zM18 48h1v1h-1z"/><path fill="#5280d0" d="M11 24h1v1h-1zM15 24h1v1h-1zM17 25h1v1h-1zM14 26h1v1h-1zM9 27h1v1h-1zM18 27h1v1h-1zM6 28h1v1h-1zM11 28h2v1h-2zM10 29h1v1h-1zM13 29h1v1h-1zM7 30h1v1h-1zM16 30h2v1h-2zM19 30h1v1h-1zM22 31h1v1h-1zM11 32h1v1h-1zM17 32h2v1h-2zM22 32h1v1h-1zM25 32h1v1h-1zM4 33h1v1h-1zM5 34h1v1h-1zM7 34h1v1h-1zM9 34h1v1h-1zM23 34h2v1h-2zM11 35h1v1h-1zM23 35h1v1h-1zM4 36h1v1h-1zM4 37h1v1h-1zM23 37h1v1h-1zM7 38h1v1h-1zM24 38h1v1h-1zM5 39h1v1h-1zM9 39h1v1h-1zM22 39h1v1h-1zM24 39h1v1h-1zM23 40h2v1h-2zM16 41h1v1h-1zM4 42h1v1h-1zM9 42h1v1h-1zM12 42h1v1h-1zM23 42h1v1h-1zM8 43h1v1h-1zM20 43h1v1h-1zM22 43h1v1h-1zM8 46h1v1h-1zM15 46h1v1h-1zM19 48h1v1h-1zM12 49h1v1h-1z"/><path fill="#5096d2" d="M15 26h1v1h-1zM11 27h1v1h-1zM13 27h1v1h-1zM20 27h1v1h-1zM8 28h3v1h-3zM15 28h1v1h-1zM14 29h1v1h-1zM16 29h1v1h-1zM11 30h1v1h-1zM7 31h1v1h-1zM14 31h2v1h-2zM16 32h1v1h-1zM11 33h2v1h-2zM21 33h1v1h-1zM10 34h1v1h-1zM16 34h1v1h-1zM5 35h1v1h-1zM7 35h1v1h-1zM22 35h1v1h-1zM6 36h1v1h-1zM20 36h3v1h-3zM9 37h1v1h-1zM12 37h1v1h-1zM22 37h1v1h-1zM22 38h1v1h-1zM8 39h1v1h-1zM6 40h1v1h-1zM9 40h1v1h-1zM6 41h2v1h-2zM23 41h1v1h-1zM8 42h1v1h-1zM7 43h1v1h-1zM12 43h1v1h-1zM17 43h1v1h-1zM19 43h1v1h-1zM9 44h1v1h-1zM13 44h1v1h-1zM10 45h1v1h-1zM12 45h1v1h-1zM15 45h1v1h-1zM18 45h1v1h-1zM14 46h1v1h-1zM18 46h1v1h-1zM13 47h1v1h-1zM16 47h1v1h-1zM14 49h1v1h-1z"/><path fill="#55aaaf" d="M8 27h1v1h-1zM17 28h1v1h-1zM21 30h1v1h-1zM5 31h1v1h-1zM8 31h1v1h-1zM13 31h1v1h-1zM16 31h1v1h-1zM19 31h3v1h-3zM7 32h1v1h-1zM19 32h1v1h-1zM8 33h1v1h-1zM17 33h1v1h-1zM21 34h2v1h-2zM8 35h1v1h-1zM20 35h2v1h-2zM11 36h1v1h-1zM23 36h1v1h-1zM5 37h1v1h-1zM8 37h1v1h-1zM8 38h1v1h-1zM10 38h1v1h-1zM19 38h3v1h-3zM7 39h1v1h-1zM12 39h1v1h-1zM7 40h1v1h-1zM10 40h1v1h-1zM12 41h1v1h-1zM20 41h2v1h-2zM20 42h1v1h-1zM10 43h1v1h-1zM18 43h1v1h-1zM10 44h2v1h-2zM14 44h1v1h-1zM17 44h1v1h-1zM19 44h1v1h-1zM14 45h1v1h-1zM9 46h1v1h-1zM13 46h1v1h-1zM16 46h1v1h-1zM12 47h1v1h-1z"/><path fill="#64c069" d="M14 28h1v1h-1zM12 29h1v1h-1zM14 30h1v1h-1zM9 31h1v1h-1zM10 32h1v1h-1zM14 32h2v1h-2zM9 33h1v1h-1zM18 33h1v1h-1zM14 34h1v1h-1zM20 34h1v1h-1zM13 35h1v1h-1zM19 35h1v1h-1zM7 37h1v1h-1zM20 37h1v1h-1zM10 39h1v1h-1zM16 39h1v1h-1zM21 39h1v1h-1zM18 40h1v1h-1zM13 41h1v1h-1zM17 41h1v1h-1zM13 42h1v1h-1zM16 42h1v1h-1zM18 42h1v1h-1zM12 44h1v1h-1zM13 45h1v1h-1z"/><path fill="#5abe8c" d="M11 29h1v1h-1zM15 29h1v1h-1zM17 29h1v1h-1zM12 30h1v1h-1zM15 30h1v1h-1zM20 30h1v1h-1zM12 32h1v1h-1zM10 33h1v1h-1zM20 33h1v1h-1zM19 34h1v1h-1zM10 35h1v1h-1zM14 35h2v1h-2zM8 36h1v1h-1zM10 36h1v1h-1zM13 36h1v1h-1zM15 36h1v1h-1zM18 38h1v1h-1zM23 38h1v1h-1zM23 39h1v1h-1zM22 40h1v1h-1zM9 41h1v1h-1zM14 42h1v1h-1zM17 42h1v1h-1zM21 42h1v1h-1zM9 43h1v1h-1zM15 44h2v1h-2zM18 44h1v1h-1zM19 46h1v1h-1z"/><path fill="#7fc63f" d="M12 31h1v1h-1zM13 32h1v1h-1zM13 33h1v1h-1zM8 34h1v1h-1zM15 34h1v1h-1zM17 35h1v1h-1zM16 37h1v1h-1zM18 37h1v1h-1zM13 38h1v1h-1zM17 38h1v1h-1zM8 40h1v1h-1zM11 40h2v1h-2zM20 40h2v1h-2zM14 41h1v1h-1zM19 41h1v1h-1zM11 42h1v1h-1zM13 43h1v1h-1z"/><path fill="#6ec346" d="M18 31h1v1h-1zM11 34h2v1h-2zM17 34h2v1h-2zM10 37h1v1h-1zM14 37h1v1h-1zM19 37h1v1h-1zM9 38h1v1h-1zM15 38h2v1h-2zM13 39h1v1h-1zM18 39h1v1h-1zM14 40h1v1h-1zM19 40h1v1h-1zM10 41h1v1h-1zM15 41h1v1h-1zM11 43h1v1h-1zM14 43h1v1h-1z"/><path fill="#afce30" d="M14 33h1v1h-1zM12 35h1v1h-1zM16 35h1v1h-1zM14 36h1v1h-1zM11 37h1v1h-1zM12 38h1v1h-1zM14 38h1v1h-1zM19 39h1v1h-1z"/><path fill="#8fca39" d="M15 33h1v1h-1zM18 35h1v1h-1zM12 36h1v1h-1zM17 36h3v1h-3zM15 37h1v1h-1zM11 38h1v1h-1zM17 39h1v1h-1zM20 39h1v1h-1zM11 41h1v1h-1zM18 41h1v1h-1zM15 42h1v1h-1zM19 42h1v1h-1z"/><path fill="#bed02d" d="M16 33h1v1h-1zM13 34h1v1h-1zM16 40h1v1h-1z"/><path fill="#a0cd32" d="M9 36h1v1h-1zM17 37h1v1h-1zM11 39h1v1h-1zM14 39h1v1h-1zM13 40h1v1h-1zM15 40h1v1h-1zM17 40h1v1h-1zM10 42h1v1h-1zM16 43h1v1h-1z"/><path fill="#cdd12a" d="M13 37h1v1h-1z"/><path fill="#dcd228" d="M15 39h1v1h-1z"/></g>
<path transform="translate(234.80,499.20)" fill="#7078d0" fill-opacity="0.5" d="M7.1 35.1h.9v.9h-.9zM27.8 42h.9v.9h-.9zM0.9 38.5h.9v.9h-.9zM20.5 43.3h.9v.9h-.9zM21.3 48.2h.9v.9h-.9zM9.8 21.7h.9v.9h-.9zM17.7 41.1h.9v.9h-.9zM5.5 26.6h.9v.9h-.9zM5.6 32.1h.9v.9h-.9zM30.4 38.2h.9v.9h-.9zM24.9 49.4h.9v.9h-.9zM21.7 48.4h.9v.9h-.9zM19.2 44h.9v.9h-.9zM18.1 50.4h.9v.9h-.9zM8.6 46.3h.9v.9h-.9zM38.7 56.7h.9v.9h-.9zM16.2 16.9h.9v.9h-.9zM19 31.7h.9v.9h-.9zM24.1 52.8h.9v.9h-.9zM22.7 54.6h.9v.9h-.9zM17.3 32.5h.9v.9h-.9zM10.8 26.9h.9v.9h-.9zM42.1 49.9h.9v.9h-.9zM21.3 19.9h.9v.9h-.9zM1.1 40.5h.9v.9h-.9zM20 46.2h.9v.9h-.9zM28.5 45.3h.9v.9h-.9zM19.6 49h.9v.9h-.9zM21.5 53.5h.9v.9h-.9zM27.3 46.4h.9v.9h-.9zM35.3 31.4h.9v.9h-.9zM24.3 45.1h.9v.9h-.9zM11.6 48.9h.9v.9h-.9zM11.7 40h.9v.9h-.9zM19.8 27h.9v.9h-.9zM7.9 28.6h.9v.9h-.9zM2.6 35.5h.9v.9h-.9zM7.1 30.2h.9v.9h-.9zM2.7 19.1h.9v.9h-.9zM0.9 21.1h.9v.9h-.9zM3.1 18.1h.9v.9h-.9zM0.3 44h.9v.9h-.9zM43.6 56.7h.9v.9h-.9zM25.6 47.5h.9v.9h-.9zM34.5 36h.9v.9h-.9zM21.8 39.2h.9v.9h-.9zM15.5 43.5h.9v.9h-.9zM17.6 41.2h.9v.9h-.9zM0.3 31.4h.9v.9h-.9zM25.9 45.5h.9v.9h-.9zM10.2 50.8h.9v.9h-.9zM7.9 36h.9v.9h-.9zM11.5 25.1h.9v.9h-.9zM3.6 43.1h.9v.9h-.9zM6.7 35h.9v.9h-.9zM16.3 45.5h.9v.9h-.9zM2.3 30.5h.9v.9h-.9zM28.3 57.2h.9v.9h-.9zM36.4 39.3h.9v.9h-.9zM0.1 47.2h.9v.9h-.9zM18.6 27.4h.9v.9h-.9zM19.3 37.1h.9v.9h-.9zM15 36.9h.9v.9h-.9zM15.6 14.7h.9v.9h-.9zM27.5 49.4h.9v.9h-.9zM25.9 39.9h.9v.9h-.9zM23.1 44.7h.9v.9h-.9zM0.3 40.9h.9v.9h-.9zM3.1 41.4h.9v.9h-.9zM11.2 8.6h.9v.9h-.9zM23.6 54.3h.9v.9h-.9zM4.2 23.3h.9v.9h-.9zM14.7 29.5h.9v.9h-.9zM11.7 19.7h.9v.9h-.9zM6.7 30.9h.9v.9h-.9zM16.8 56.7h.9v.9h-.9zM14 39h.9v.9h-.9zM0.5 24h.9v.9h-.9zM23.7 57h.9v.9h-.9zM12.6 49.8h.9v.9h-.9zM4.2 47.2h.9v.9h-.9zM19.6 48.4h.9v.9h-.9zM7 33.5h.9v.9h-.9zM28.4 46.4h.9v.9h-.9zM16.5 32.7h.9v.9h-.9zM7.9 35.8h.9v.9h-.9zM3.8 50.2h.9v.9h-.9zM15.4 19.2h.9v.9h-.9zM18.5 49.5h.9v.9h-.9zM11.3 49h.9v.9h-.9zM26.2 53.1h.9v.9h-.9zM13.1 57.2h.9v.9h-.9zM21.7 28h.9v.9h-.9zM21.1 58.4h.9v.9h-.9zM18.1 34.1h.9v.9h-.9zM21 38.1h.9v.9h-.9zM6.2 28.2h.9v.9h-.9zM8.8 10.9h.9v.9h-.9zM17.2 43.5h.9v.9h-.9zM8.6 30.6h.9v.9h-.9zM23.1 48.1h.9v.9h-.9zM9.4 36.8h.9v.9h-.9zM22.3 45.3h.9v.9h-.9zM15.8 48.2h.9v.9h-.9zM22.4 51.1h.9v.9h-.9zM16.7 38.9h.9v.9h-.9zM11.2 46.1h.9v.9h-.9zM2.5 27h.9v.9h-.9zM28.4 45.3h.9v.9h-.9zM8.6 36.2h.9v.9h-.9zM10.5 41.8h.9v.9h-.9zM22.5 41.1h.9v.9h-.9zM18.5 37.7h.9v.9h-.9zM31.1 52.1h.9v.9h-.9zM15.6 55.3h.9v.9h-.9zM9 29.3h.9v.9h-.9zM11.7 34.6h.9v.9h-.9zM7.5 36.2h.9v.9h-.9zM5 26h.9v.9h-.9zM34.1 40.3h.9v.9h-.9zM23 38.4h.9v.9h-.9zM9.9 44.3h.9v.9h-.9zM23.2 1h.9v.9h-.9zM24.3 48.5h.9v.9h-.9zM23.9 27.2h.9v.9h-.9zM12.4 22.8h.9v.9h-.9zM7.7 38.3h.9v.9h-.9zM18.3 18h.9v.9h-.9zM25.5 54.5h.9v.9h-.9zM6.5 43.2h.9v.9h-.9zM13.6 52.2h.9v.9h-.9zM13.9 33.8h.9v.9h-.9zM20.5 47.1h.9v.9h-.9zM21.6 47.8h.9v.9h-.9zM27 48.4h.9v.9h-.9zM38.8 34h.9v.9h-.9zM28.1 56.8h.9v.9h-.9zM12.3 12.4h.9v.9h-.9zM18.4 35.8h.9v.9h-.9zM18.4 53.2h.9v.9h-.9zM11.7 32.6h.9v.9h-.9zM18.9 29.3h.9v.9h-.9zM6.9 38.1h.9v.9h-.9zM21.8 54.2h.9v.9h-.9zM24.7 38.3h.9v.9h-.9zM38.2 54.8h.9v.9h-.9zM14.3 17.1h.9v.9h-.9zM19.6 40.4h.9v.9h-.9zM19.5 37.5h.9v.9h-.9zM18.3 42h.9v.9h-.9zM5.9 58.4h.9v.9h-.9zM20.6 12h.9v.9h-.9zM22.3 46.4h.9v.9h-.9zM18.4 42.1h.9v.9h-.9zM34.8 41.4h.9v.9h-.9zM6.5 53.8h.9v.9h-.9zM7.9 48.5h.9v.9h-.9zM29.4 47.4h.9v.9h-.9zM18.8 53.9h.9v.9h-.9zM11.1 37h.9v.9h-.9zM15.5 20h.9v.9h-.9zM9 48.8h.9v.9h-.9zM17.3 39.6h.9v.9h-.9zM3.9 26h.9v.9h-.9zM6.5 26.5h.9v.9h-.9zM8.4 22.4h.9v.9h-.9zM14.4 30.8h.9v.9h-.9zM8.4 9.3h.9v.9h-.9zM11.9 54.1h.9v.9h-.9zM5.8 10.6h.9v.9h-.9zM9.2 56.4h.9v.9h-.9zM26 48h.9v.9h-.9zM25.9 44.4h.9v.9h-.9zM16.9 38.3h.9v.9h-.9zM5.7 27.4h.9v.9h-.9zM13.3 16.6h.9v.9h-.9zM21.9 40h.9v.9h-.9zM12.4 12h.9v.9h-.9zM0.7 30.4h.9v.9h-.9zM8 31.2h.9v.9h-.9zM14.1 57.6h.9v.9h-.9zM13.8 52.5h.9v.9h-.9zM28.4 41.3h.9v.9h-.9zM23.8 44.5h.9v.9h-.9zM19.9 46.2h.9v.9h-.9zM6.5 42.5h.9v.9h-.9zM12.9 42.7h.9v.9h-.9zM13 11.4h.9v.9h-.9zM14 19.4h.9v.9h-.9zM19.2 46.9h.9v.9h-.9zM14.7 27.6h.9v.9h-.9zM3.7 37.4h.9v.9h-.9zM5.5 22.3h.9v.9h-.9zM11.6 50.8h.9v.9h-.9zM7.5 21.8h.9v.9h-.9zM18.5 39.8h.9v.9h-.9zM14.1 44.8h.9v.9h-.9zM22 49.5h.9v.9h-.9zM14.5 26.1h.9v.9h-.9zM25.4 35.1h.9v.9h-.9zM14.3 49.2h.9v.9h-.9zM5.1 42.4h.9v.9h-.9zM4.8 35.6h.9v.9h-.9zM33.1 55h.9v.9h-.9zM25.5 46.8h.9v.9h-.9zM5.3 30.4h.9v.9h-.9zM19 47h.9v.9h-.9zM14.7 47.5h.9v.9h-.9zM1.4 48.5h.9v.9h-.9zM2.9 42.3h.9v.9h-.9zM5.2 27.6h.9v.9h-.9zM8 58.2h.9v.9h-.9zM4.3 51.8h.9v.9h-.9zM5.2 46.7h.9v.9h-.9zM14.3 44.9h.9v.9h-.9zM19.9 39.8h.9v.9h-.9zM12.8 48.8h.9v.9h-.9zM26.1 45.7h.9v.9h-.9zM17.4 52.9h.9v.9h-.9zM3.2 37.3h.9v.9h-.9zM11.8 44.8h.9v.9h-.9zM32.1 38.4h.9v.9h-.9zM9.3 31.5h.9v.9h-.9zM4 25.6h.9v.9h-.9zM13 42.6h.9v.9h-.9zM15 39.5h.9v.9h-.9zM21 45.5h.9v.9h-.9zM12.7 41.7h.9v.9h-.9zM32.1 52.3h.9v.9h-.9zM10.7 44.4h.9v.9h-.9zM29.4 46.8h.9v.9h-.9zM23.2 46.1h.9v.9h-.9zM11 26.2h.9v.9h-.9zM34.9 34.9h.9v.9h-.9zM5.7 39.4h.9v.9h-.9zM5.5 34.5h.9v.9h-.9zM20.2 50.1h.9v.9h-.9zM18.5 53.7h.9v.9h-.9zM32 43.3h.9v.9h-.9zM22 50.6h.9v.9h-.9zM7 30h.9v.9h-.9zM21 53.2h.9v.9h-.9zM22.9 28.5h.9v.9h-.9zM24.2 50.9h.9v.9h-.9zM32 49.7h.9v.9h-.9zM23.3 21.6h.9v.9h-.9zM1.9 36.1h.9v.9h-.9zM25.2 40.4h.9v.9h-.9zM23.5 51.5h.9v.9h-.9zM24.6 58h.9v.9h-.9zM17.6 30h.9v.9h-.9zM17 45.5h.9v.9h-.9zM28.8 16.8h.9v.9h-.9zM16 54.3h.9v.9h-.9zM8.3 42.1h.9v.9h-.9zM13.3 56.6h.9v.9h-.9zM14.5 17.9h.9v.9h-.9zM14.8 38.9h.9v.9h-.9zM19 16.8h.9v.9h-.9zM31 43.9h.9v.9h-.9zM4.5 29.2h.9v.9h-.9zM25.3 47.2h.9v.9h-.9zM18.3 51.8h.9v.9h-.9zM9.9 28.4h.9v.9h-.9zM5.4 31.6h.9v.9h-.9zM13.9 51.3h.9v.9h-.9zM13 49.5h.9v.9h-.9zM26.4 57.6h.9v.9h-.9zM22.2 46.8h.9v.9h-.9zM23.9 52.6h.9v.9h-.9zM3.7 29.5h.9v.9h-.9zM19.9 43.2h.9v.9h-.9zM24.2 16.7h.9v.9h-.9zM5 35.6h.9v.9h-.9zM12.2 46.2h.9v.9h-.9zM22.9 28.7h.9v.9h-.9zM23.1 51.9h.9v.9h-.9zM26.3 39.9h.9v.9h-.9zM9.1 17.8h.9v.9h-.9zM22.5 28.2h.9v.9h-.9zM12.7 28.6h.9v.9h-.9zM12.9 40.2h.9v.9h-.9zM35.2 45.6h.9v.9h-.9zM22 53.5h.9v.9h-.9zM21.1 43.3h.9v.9h-.9zM13.8 32.4h.9v.9h-.9zM5 27.4h.9v.9h-.9zM25.1 45.9h.9v.9h-.9zM28 43.4h.9v.9h-.9zM28.1 43.9h.9v.9h-.9zM2.8 30.2h.9v.9h-.9zM29.5 50.4h.9v.9h-.9zM9.2 57.9h.9v.9h-.9zM9.7 13.4h.9v.9h-.9zM31.4 32.5h.9v.9h-.9zM4.1 49.6h.9v.9h-.9zM24.6 16.9h.9v.9h-.9zM20.4 24.2h.9v.9h-.9zM13.4 29.6h.9v.9h-.9zM12.2 48.5h.9v.9h-.9zM30.6 46.7h.9v.9h-.9zM24.8 28.9h.9v.9h-.9zM14.4 38.3h.9v.9h-.9zM3 57.4h.9v.9h-.9zM17 39.1h.9v.9h-.9zM21.3 50.6h.9v.9h-.9zM20.8 54.1h.9v.9h-.9zM22.8 50.8h.9v.9h-.9zM9.6 22.8h.9v.9h-.9zM24.7 40.8h.9v.9h-.9zM22.5 37.6h.9v.9h-.9zM2 38.3h.9v.9h-.9zM9.4 19.9h.9v.9h-.9zM17.2 24.8h.9v.9h-.9zM4.7 37.5h.9v.9h-.9zM28.8 54.8h.9v.9h-.9zM14.3 27.4h.9v.9h-.9zM7.7 28.8h.9v.9h-.9zM21.9 46.1h.9v.9h-.9zM2.3 43.6h.9v.9h-.9zM5.5 17.6h.9v.9h-.9zM30.2 54.9h.9v.9h-.9zM3.4 50.6h.9v.9h-.9zM9.7 41.9h.9v.9h-.9zM41.2 57.8h.9v.9h-.9zM24.7 55.6h.9v.9h-.9zM9.9 43.4h.9v.9h-.9zM15.4 30.9h.9v.9h-.9zM12.3 56.4h.9v.9h-.9zM23 34.6h.9v.9h-.9zM15.4 47.8h.9v.9h-.9zM7.1 33h.9v.9h-.9zM16.8 27h.9v.9h-.9zM14.2 44.4h.9v.9h-.9zM31.7 58.4h.9v.9h-.9zM45.1 18h.9v.9h-.9zM20.3 16.2h.9v.9h-.9zM17 45.2h.9v.9h-.9zM8.8 13.4h.9v.9h-.9zM30.5 43.1h.9v.9h-.9zM12.2 33.6h.9v.9h-.9zM7.2 56.2h.9v.9h-.9zM16 29.7h.9v.9h-.9zM31.5 56.2h.9v.9h-.9zM25.3 32.9h.9v.9h-.9zM15.5 35.4h.9v.9h-.9zM31.2 57h.9v.9h-.9zM31.6 43.4h.9v.9h-.9zM24.2 53.8h.9v.9h-.9zM10.3 42.3h.9v.9h-.9zM7.4 41.1h.9v.9h-.9zM28.7 43.2h.9v.9h-.9zM15.6 43.4h.9v.9h-.9zM19.3 46.4h.9v.9h-.9zM20.2 36.1h.9v.9h-.9zM11.4 43.9h.9v.9h-.9zM13.5 29.3h.9v.9h-.9zM1.6 47.6h.9v.9h-.9zM4.5 48.5h.9v.9h-.9zM13.8 51.8h.9v.9h-.9zM12.3 23.5h.9v.9h-.9zM15.2 53h.9v.9h-.9zM22.2 53.9h.9v.9h-.9zM10.3 42.4h.9v.9h-.9zM1.7 44.9h.9v.9h-.9zM18.4 45.3h.9v.9h-.9zM5.4 46.8h.9v.9h-.9zM10.2 53.4h.9v.9h-.9zM18.5 53h.9v.9h-.9zM14.9 57.9h.9v.9h-.9zM7.5 55.1h.9v.9h-.9zM27.4 50.5h.9v.9h-.9zM34 53h.9v.9h-.9zM21.5 39.8h.9v.9h-.9zM13.4 30.1h.9v.9h-.9zM26.8 50.7h.9v.9h-.9zM4.7 41.2h.9v.9h-.9zM22.2 41.4h.9v.9h-.9zM10.1 29.8h.9v.9h-.9zM17.7 51.5h.9v.9h-.9zM12.4 39.8h.9v.9h-.9zM6.2 48.1h.9v.9h-.9zM24.8 47.1h.9v.9h-.9zM14.2 51.5h.9v.9h-.9zM8 24.8h.9v.9h-.9zM26.6 40.3h.9v.9h-.9zM26.7 41h.9v.9h-.9zM15.5 38.5h.9v.9h-.9zM11.2 31.5h.9v.9h-.9zM28.3 28.4h.9v.9h-.9zM20.3 54.4h.9v.9h-.9zM15.5 51.8h.9v.9h-.9zM21.6 42.7h.9v.9h-.9zM22.7 40.8h.9v.9h-.9zM11.8 45.3h.9v.9h-.9zM28.2 16.7h.9v.9h-.9zM14.5 31.6h.9v.9h-.9zM14.9 35.6h.9v.9h-.9zM4.5 31.3h.9v.9h-.9zM7.5 26.6h.9v.9h-.9zM2.1 55.1h.9v.9h-.9zM10.6 57.5h.9v.9h-.9zM8.5 33.4h.9v.9h-.9zM16.6 45.7h.9v.9h-.9zM6.3 37h.9v.9h-.9zM12 33.2h.9v.9h-.9zM11 36.8h.9v.9h-.9zM19.5 40.9h.9v.9h-.9zM20 44.6h.9v.9h-.9zM25.1 45.1h.9v.9h-.9zM30.8 48.3h.9v.9h-.9zM7.7 13h.9v.9h-.9zM5 32.6h.9v.9h-.9zM19.3 53.1h.9v.9h-.9zM16.1 19.6h.9v.9h-.9zM11.7 45.3h.9v.9h-.9zM5.8 29.2h.9v.9h-.9zM9.5 28.8h.9v.9h-.9zM14.8 42.8h.9v.9h-.9zM9.9 26.6h.9v.9h-.9zM23.5 50.1h.9v.9h-.9zM18.1 55.9h.9v.9h-.9zM27.3 39.5h.9v.9h-.9zM18.2 46.5h.9v.9h-.9zM26 21.9h.9v.9h-.9zM17.1 49h.9v.9h-.9zM32 15.7h.9v.9h-.9zM4.2 24.1h.9v.9h-.9zM18.6 44.6h.9v.9h-.9zM17.9 21h.9v.9h-.9zM25.7 23.2h.9v.9h-.9zM14.8 20.2h.9v.9h-.9zM4.8 40.6h.9v.9h-.9zM20.8 54.9h.9v.9h-.9zM15.6 28.7h.9v.9h-.9zM32.2 44h.9v.9h-.9zM3 41.4h.9v.9h-.9zM9.7 27.9h.9v.9h-.9zM12.2 18.2h.9v.9h-.9zM19.7 30.5h.9v.9h-.9zM7.8 41.8h.9v.9h-.9zM13.4 40.8h.9v.9h-.9zM22.9 31.7h.9v.9h-.9zM14.1 55h.9v.9h-.9zM23.6 45.8h.9v.9h-.9zM21.6 38.1h.9v.9h-.9zM18.9 46.3h.9v.9h-.9zM9 9h.9v.9h-.9zM2.6 45.8h.9v.9h-.9zM18.4 27.9h.9v.9h-.9zM10.8 51.4h.9v.9h-.9zM9.5 20.9h.9v.9h-.9zM10.3 36.4h.9v.9h-.9zM11.7 50.5h.9v.9h-.9zM15.3 28.1h.9v.9h-.9zM3.3 22.2h.9v.9h-.9zM24.1 34.9h.9v.9h-.9zM23.5 42.6h.9v.9h-.9zM27 53.8h.9v.9h-.9zM3.9 20.9h.9v.9h-.9zM4.3 23.7h.9v.9h-.9zM9.4 25.4h.9v.9h-.9zM8.3 58.8h.9v.9h-.9zM7.6 43.6h.9v.9h-.9zM39.3 55.9h.9v.9h-.9zM22.7 45.7h.9v.9h-.9zM1.7 28.7h.9v.9h-.9zM36.8 43.9h.9v.9h-.9zM1.9 29.7h.9v.9h-.9zM10.5 34.3h.9v.9h-.9zM17.2 44h.9v.9h-.9zM19.5 14.6h.9v.9h-.9zM27.2 53.2h.9v.9h-.9zM19.2 40.4h.9v.9h-.9zM32.5 16.1h.9v.9h-.9zM11 24.7h.9v.9h-.9zM31.3 43h.9v.9h-.9zM26.6 40.2h.9v.9h-.9zM26.1 31h.9v.9h-.9zM1.9 22.3h.9v.9h-.9zM15 47h.9v.9h-.9zM20.7 41.5h.9v.9h-.9zM27.4 41.5h.9v.9h-.9zM4.6 46.1h.9v.9h-.9zM24.2 41.1h.9v.9h-.9zM8.4 48.6h.9v.9h-.9zM8.4 16.4h.9v.9h-.9zM12.7 23h.9v.9h-.9zM4.9 41.3h.9v.9h-.9zM1.1 52.4h.9v.9h-.9zM6.8 17.9h.9v.9h-.9zM6.9 35.2h.9v.9h-.9zM18.7 45.4h.9v.9h-.9zM25.2 46.2h.9v.9h-.9zM25.6 25.2h.9v.9h-.9zM26.3 55.9h.9v.9h-.9zM5 28.6h.9v.9h-.9zM41.2 52.6h.9v.9h-.9zM12.2 19.6h.9v.9h-.9zM22.8 46.2h.9v.9h-.9zM10.6 33.2h.9v.9h-.9zM36 45h.9v.9h-.9zM22.3 52h.9v.9h-.9zM11.8 53h.9v.9h-.9zM12.7 22.9h.9v.9h-.9zM27.1 34.4h.9v.9h-.9zM9.9 27.7h.9v.9h-.9zM10.2 45.2h.9v.9h-.9zM28 52.3h.9v.9h-.9zM31.1 35.5h.9v.9h-.9zM11 48.2h.9v.9h-.9zM18.1 56.5h.9v.9h-.9zM19.2 42.9h.9v.9h-.9zM23.2 43.9h.9v.9h-.9zM16.4 41h.9v.9h-.9zM11.8 38.5h.9v.9h-.9zM1.6 44.4h.9v.9h-.9zM13.6 58.4h.9v.9h-.9zM12.3 25.6h.9v.9h-.9zM26.3 57.5h.9v.9h-.9zM21.9 48.6h.9v.9h-.9zM1.8 22.4h.9v.9h-.9zM30.4 32.2h.9v.9h-.9zM20.1 55h.9v.9h-.9zM17.7 13.3h.9v.9h-.9zM21.6 49.5h.9v.9h-.9zM3.1 52.2h.9v.9h-.9zM12.6 28.4h.9v.9h-.9zM18.6 53h.9v.9h-.9zM24.3 42.2h.9v.9h-.9zM12.4 42.8h.9v.9h-.9zM12.1 47.8h.9v.9h-.9zM16.2 46h.9v.9h-.9zM36.7 53.2h.9v.9h-.9zM12.1 10.6h.9v.9h-.9zM21.7 37.1h.9v.9h-.9zM6.1 28.2h.9v.9h-.9zM14.9 9.7h.9v.9h-.9zM0.5 42.8h.9v.9h-.9zM6.2 26.8h.9v.9h-.9zM2.6 54.8h.9v.9h-.9zM14.4 49.6h.9v.9h-.9zM19.5 29.1h.9v.9h-.9zM18.2 47h.9v.9h-.9zM19.1 22.6h.9v.9h-.9zM7.2 55.8h.9v.9h-.9zM1 52.7h.9v.9h-.9zM32.2 46.3h.9v.9h-.9zM25.6 48.3h.9v.9h-.9zM23.4 36.9h.9v.9h-.9zM12 49.8h.9v.9h-.9zM18.1 51.5h.9v.9h-.9zM38.2 34.6h.9v.9h-.9zM24.5 28.9h.9v.9h-.9zM4 33.6h.9v.9h-.9zM22.5 51.4h.9v.9h-.9zM18.3 30.9h.9v.9h-.9zM18 35.3h.9v.9h-.9zM31 45.1h.9v.9h-.9zM22.2 48.9h.9v.9h-.9zM8.1 37h.9v.9h-.9zM31.5 18.3h.9v.9h-.9zM24.4 52.6h.9v.9h-.9zM26.1 39.8h.9v.9h-.9zM22.9 32.3h.9v.9h-.9zM7.3 24.5h.9v.9h-.9zM20.8 56.1h.9v.9h-.9zM5.9 54.2h.9v.9h-.9zM33.9 51.5h.9v.9h-.9zM4.2 42.4h.9v.9h-.9zM7.6 17h.9v.9h-.9zM14.8 9.2h.9v.9h-.9zM12.7 20.8h.9v.9h-.9zM5.5 52h.9v.9h-.9zM14.4 31.3h.9v.9h-.9zM12.5 50.3h.9v.9h-.9zM11.9 52.7h.9v.9h-.9zM17.8 45.7h.9v.9h-.9zM30.9 53.4h.9v.9h-.9zM25.3 48.6h.9v.9h-.9zM9.7 38.9h.9v.9h-.9zM2.5 32.4h.9v.9h-.9zM2.6 40.2h.9v.9h-.9zM1.9 14.3h.9v.9h-.9zM7.3 23.5h.9v.9h-.9zM6 17.9h.9v.9h-.9zM38.7 34.7h.9v.9h-.9zM29.5 41.9h.9v.9h-.9zM19.5 41.7h.9v.9h-.9zM21.6 41.6h.9v.9h-.9zM21.7 49.1h.9v.9h-.9zM2.3 21.6h.9v.9h-.9zM13.5 42.7h.9v.9h-.9zM29.6 10h.9v.9h-.9zM24 48.4h.9v.9h-.9zM4.1 32.3h.9v.9h-.9zM25.6 46.4h.9v.9h-.9zM10.6 31.6h.9v.9h-.9zM35.8 51.3h.9v.9h-.9zM17.9 50.9h.9v.9h-.9zM16.2 51.9h.9v.9h-.9zM1.5 50.6h.9v.9h-.9zM18.2 29.2h.9v.9h-.9zM11.1 24h.9v.9h-.9zM12.4 33.7h.9v.9h-.9zM16.2 43.5h.9v.9h-.9zM19.8 46.8h.9v.9h-.9zM11.4 26.7h.9v.9h-.9zM32.2 45.8h.9v.9h-.9zM24.9 37.3h.9v.9h-.9zM20.5 8.8h.9v.9h-.9zM31.2 12.6h.9v.9h-.9zM7.7 26.5h.9v.9h-.9zM22.5 46.7h.9v.9h-.9zM2.1 44.6h.9v.9h-.9zM21.2 28.4h.9v.9h-.9zM18 47.7h.9v.9h-.9zM11.9 43.7h.9v.9h-.9z"/>
<rect x="234.80" y="499.20" width="59.60" height="59.70" fill="none" stroke="#8a8a8a" stroke-width="0.8"/>
<rect x="235.0" y="515.2" width="7.1" height="7.4" fill="none" stroke="#5a68b8" stroke-width="0.8"/>
<rect x="235.2" y="539.4" width="27.1" height="7.4" fill="none" stroke="#3a3f8f" stroke-width="0.8"/>
<text transform="translate(264.80,495.60) scale(1.0,1.0)" font-size="6.6" text-anchor="middle" font-weight="normal" fill="#222" color="#222"><tspan>Lck</tspan><tspan dy="-2.6" font-size="4.6">hi</tspan><tspan dy="2.6"> subset</tspan></text>
<text transform="translate(236.70,507.10) scale(1.0,1.0)" font-size="5.3" text-anchor="start" font-weight="normal" fill="#222" color="#222"><tspan>CXCR4</tspan><tspan dy="-2.4" font-size="4.3">bright</tspan><tspan dy="2.4">CD5</tspan><tspan dy="-2.4" font-size="4.3">dim</tspan></text>
<text transform="translate(249.50,511.50) scale(1.0,1.0)" font-size="2.6" text-anchor="middle" font-weight="normal" fill="#777" color="#777">x.x</text>
<text transform="translate(288.20,509.40) scale(1.0,1.0)" font-size="5.6" text-anchor="middle" font-weight="normal" fill="#222" color="#222">b1</text>
<text transform="translate(263.60,544.10) scale(1.0,1.0)" font-size="5.6" text-anchor="start" font-weight="normal" fill="#222" color="#222"><tspan>CXCR4</tspan><tspan dy="-2.4" font-size="4.3">dim</tspan><tspan dy="2.4">CD5</tspan><tspan dy="-2.4" font-size="4.3">bright</tspan></text>
<text transform="translate(273.00,548.30) scale(1.0,1.0)" font-size="2.6" text-anchor="middle" font-weight="normal" fill="#777" color="#777">x.x</text>
<text transform="translate(230.60,501.80) scale(1.0,1.0)" font-size="6.7" text-anchor="end" font-weight="normal" fill="#333" color="#333" style="stroke-width:0.2px">10<tspan dy="-2.6" font-size="4.29">3</tspan></text>
<text transform="translate(230.60,521.90) scale(1.0,1.0)" font-size="6.7" text-anchor="end" font-weight="normal" fill="#333" color="#333" style="stroke-width:0.2px">10<tspan dy="-2.6" font-size="4.29">2</tspan></text>
<text transform="translate(230.60,542.00) scale(1.0,1.0)" font-size="6.7" text-anchor="end" font-weight="normal" fill="#333" color="#333" style="stroke-width:0.2px">10<tspan dy="-2.6" font-size="4.29">1</tspan></text>
<text transform="translate(230.60,561.10) scale(1.0,1.0)" font-size="6.7" text-anchor="end" font-weight="normal" fill="#333" color="#333" style="stroke-width:0.2px">10<tspan dy="-2.6" font-size="4.29">0</tspan></text>
<text transform="translate(235.20,569.90) scale(1.0,1.0)" font-size="6.7" text-anchor="middle" font-weight="normal" fill="#333" color="#333" style="stroke-width:0.2px">10<tspan dy="-2.6" font-size="4.29">0</tspan></text>
<text transform="translate(259.50,569.90) scale(1.0,1.0)" font-size="6.7" text-anchor="middle" font-weight="normal" fill="#333" color="#333" style="stroke-width:0.2px">10<tspan dy="-2.6" font-size="4.29">1</tspan></text>
<text transform="translate(286.00,569.90) scale(1.0,1.0)" font-size="6.7" text-anchor="middle" font-weight="normal" fill="#333" color="#333" style="stroke-width:0.2px">10<tspan dy="-2.6" font-size="4.29">2</tspan></text>
<line x1="216.20" y1="560.00" x2="216.20" y2="507.10" stroke="#111" stroke-width="1.3"/>
<path d="M216.20,503.60 L214.30,507.90 L218.10,507.90 Z" fill="#111"/>
<line x1="232.00" y1="574.70" x2="286.10" y2="574.70" stroke="#111" stroke-width="1.3"/>
<path d="M289.60,574.70 L285.30,572.80 L285.30,576.60 Z" fill="#111"/>
<text transform="translate(210.50,533.70) rotate(-90) scale(0.64,1)" font-size="8.6" text-anchor="middle" font-weight="bold" fill="#1a1a1a" color="#1a1a1a" style="stroke-width:0.3px">CXCR4</text>
<text transform="translate(259.55,585.60) scale(0.62,1.0)" font-size="9.4" text-anchor="middle" font-weight="bold" fill="#1a1a1a" color="#1a1a1a" style="stroke-width:0.3px">CD5</text>
<line x1="70.00" y1="433.80" x2="109.56" y2="397.89" stroke="#7a1232" stroke-width="1.3"/>
<path d="M112.30,395.40 L110.67,399.85 L107.71,396.59 Z" fill="#7a1232"/>
<line x1="63.50" y1="453.10" x2="108.44" y2="493.24" stroke="#7a1232" stroke-width="1.3"/>
<path d="M111.20,495.70 L106.60,494.54 L109.53,491.26 Z" fill="#7a1232"/>
<line x1="138.80" y1="346.40" x2="207.43" y2="327.86" stroke="#7a1232" stroke-width="1.3"/>
<path d="M211.00,326.90 L207.52,330.12 L206.37,325.87 Z" fill="#7a1232"/>
<line x1="161.20" y1="380.80" x2="208.97" y2="417.74" stroke="#7a1232" stroke-width="1.3"/>
<path d="M211.90,420.00 L207.23,419.17 L209.92,415.69 Z" fill="#7a1232"/>
<line x1="154.20" y1="528.40" x2="195.50" y2="528.40" stroke="#7a1232" stroke-width="1.3"/>
<path d="M199.20,528.40 L195.00,530.60 L195.00,526.20 Z" fill="#7a1232"/>
<line x1="354.30" y1="315.20" x2="354.30" y2="402.80" stroke="#111" stroke-width="1.2"/>
<line x1="351.30" y1="329.60" x2="354.30" y2="329.60" stroke="#111" stroke-width="1.0"/>
<text transform="translate(348.50,331.90) scale(1.08,1.0)" font-size="6.4" text-anchor="end" font-weight="normal" fill="#333" color="#333">100</text>
<line x1="351.30" y1="366.00" x2="354.30" y2="366.00" stroke="#111" stroke-width="1.0"/>
<text transform="translate(348.50,368.30) scale(1.08,1.0)" font-size="6.4" text-anchor="end" font-weight="normal" fill="#333" color="#333">50</text>
<line x1="351.30" y1="402.50" x2="354.30" y2="402.50" stroke="#111" stroke-width="1.0"/>
<text transform="translate(348.50,404.80) scale(1.08,1.0)" font-size="6.4" text-anchor="end" font-weight="normal" fill="#333" color="#333">0</text>
<line x1="354.30" y1="402.50" x2="486.20" y2="402.50" stroke="#111" stroke-width="1.2"/>
<line x1="371.00" y1="402.50" x2="371.00" y2="405.30" stroke="#111" stroke-width="1.0"/>
<line x1="404.40" y1="402.50" x2="404.40" y2="405.30" stroke="#111" stroke-width="1.0"/>
<line x1="436.40" y1="402.50" x2="436.40" y2="405.30" stroke="#111" stroke-width="1.0"/>
<line x1="469.20" y1="402.50" x2="469.20" y2="405.30" stroke="#111" stroke-width="1.0"/>
<line x1="367.40" y1="409.10" x2="410.50" y2="409.10" stroke="#444" stroke-width="1.1"/>
<line x1="433.30" y1="409.10" x2="475.60" y2="409.10" stroke="#444" stroke-width="1.1"/>
<text transform="translate(420.20,309.00) scale(1.0,1.0)" font-size="8.5" text-anchor="middle" font-weight="normal" fill="#222" color="#222">Cellular composition of fractions</text>
<text transform="translate(331.2,358.8) rotate(-90) scale(0.66,1)" font-size="9.0" font-weight="bold" text-anchor="middle" fill="#222" color="#222">% of cells</text>
<text transform="translate(329.00,418.00) scale(1.0,1.0)" font-size="6.6" text-anchor="start" font-weight="normal" fill="#222" color="#222">fractions:</text>
<text transform="translate(362.20,418.00) scale(1.0,1.0)" font-size="6.7" text-anchor="start" font-weight="normal" fill="#222" color="#222"><tspan>CXCR4</tspan><tspan dy="-2.7" font-size="3.8">bright</tspan><tspan dy="2.7">CD5</tspan><tspan dy="-2.7" font-size="3.8">dim</tspan></text>
<text transform="translate(428.00,418.00) scale(1.0,1.0)" font-size="6.7" text-anchor="start" font-weight="normal" fill="#222" color="#222"><tspan>CXCR4</tspan><tspan dy="-2.7" font-size="3.8">dim</tspan><tspan dy="2.7">CD5</tspan><tspan dy="-2.7" font-size="3.8">bright</tspan></text>
<path d="M371.00,324.00 V322.00 H404.40 V324.00" fill="none" stroke="#1a1a1a" stroke-width="1.0"/>
<text transform="translate(387.70,322.00) scale(1.0,1.0)" font-size="5.5" text-anchor="middle" font-weight="normal" fill="#1c1c1c" color="#1c1c1c">**</text>
<path d="M436.40,324.00 V322.00 H469.20 V324.00" fill="none" stroke="#1a1a1a" stroke-width="1.0"/>
<text transform="translate(452.80,322.00) scale(1.0,1.0)" font-size="5.5" text-anchor="middle" font-weight="normal" fill="#1c1c1c" color="#1c1c1c">*</text>
<circle cx="370.8" cy="330.4" r="1.6" fill="#8e0f33"/>
<circle cx="376.4" cy="334.0" r="1.6" fill="#8e0f33"/>
<circle cx="365.0" cy="336.4" r="1.6" fill="#8e0f33"/>
<circle cx="368.8" cy="336.8" r="1.6" fill="#8e0f33"/>
<circle cx="372.7" cy="336.8" r="1.6" fill="#8e0f33"/>
<circle cx="369.0" cy="341.5" r="1.6" fill="#8e0f33"/>
<circle cx="372.7" cy="343.5" r="1.6" fill="#8e0f33"/>
<circle cx="370.6" cy="363.6" r="1.6" fill="#8e0f33"/>
<line x1="360.00" y1="336.60" x2="382.20" y2="336.60" stroke="#111" stroke-width="1.2"/>
<rect x="402.1" y="365.1" width="3.0" height="3.0" fill="#233c72"/>
<rect x="402.1" y="388.8" width="3.0" height="3.0" fill="#233c72"/>
<rect x="399.6" y="393.7" width="3.0" height="3.0" fill="#233c72"/>
<rect x="404.2" y="394.5" width="3.0" height="3.0" fill="#233c72"/>
<rect x="396.2" y="398.9" width="3.0" height="3.0" fill="#233c72"/>
<rect x="400.0" y="398.8" width="3.0" height="3.0" fill="#233c72"/>
<rect x="404.2" y="398.8" width="3.0" height="3.0" fill="#233c72"/>
<rect x="408.0" y="398.1" width="3.0" height="3.0" fill="#233c72"/>
<rect x="402.1" y="402.7" width="3.0" height="3.0" fill="#233c72"/>
<line x1="392.80" y1="398.40" x2="415.00" y2="398.40" stroke="#111" stroke-width="1.2"/>
<circle cx="436.6" cy="351.7" r="1.6" fill="#8e0f33"/>
<circle cx="436.6" cy="363.2" r="1.6" fill="#8e0f33"/>
<circle cx="436.6" cy="386.8" r="1.6" fill="#8e0f33"/>
<circle cx="438.2" cy="386.8" r="1.6" fill="#8e0f33"/>
<circle cx="434.4" cy="390.1" r="1.6" fill="#8e0f33"/>
<circle cx="436.6" cy="395.0" r="1.6" fill="#8e0f33"/>
<circle cx="434.4" cy="400.0" r="1.6" fill="#8e0f33"/>
<circle cx="438.5" cy="400.0" r="1.6" fill="#8e0f33"/>
<line x1="425.90" y1="388.70" x2="447.70" y2="388.70" stroke="#111" stroke-width="1.2"/>
<rect x="463.7" y="335.7" width="3.0" height="3.0" fill="#233c72"/>
<rect x="467.1" y="335.9" width="3.0" height="3.0" fill="#233c72"/>
<rect x="471.1" y="333.2" width="3.0" height="3.0" fill="#233c72"/>
<rect x="463.7" y="343.8" width="3.0" height="3.0" fill="#233c72"/>
<rect x="467.8" y="346.7" width="3.0" height="3.0" fill="#233c72"/>
<rect x="470.7" y="346.7" width="3.0" height="3.0" fill="#233c72"/>
<rect x="467.8" y="370.1" width="3.0" height="3.0" fill="#233c72"/>
<rect x="467.8" y="386.7" width="3.0" height="3.0" fill="#233c72"/>
<line x1="458.70" y1="346.80" x2="480.20" y2="346.80" stroke="#111" stroke-width="1.2"/>
<circle cx="491.4" cy="326.3" r="1.5" fill="#8e0f33"/>
<text transform="translate(495.70,328.30) scale(1.0,1.0)" font-size="5.4" text-anchor="start" font-weight="normal" fill="#222" color="#222">Lck<tspan dy="-2.0" font-size="3.4">-/low</tspan></text>
<rect x="490.0" y="332.7" width="2.8" height="2.8" fill="#233c72"/>
<text transform="translate(495.70,336.10) scale(1.0,1.0)" font-size="5.4" text-anchor="start" font-weight="normal" fill="#222" color="#222">Lck<tspan dy="-2.0" font-size="3.4">hi</tspan></text>
<line x1="354.40" y1="456.30" x2="354.40" y2="542.10" stroke="#111" stroke-width="1.2"/>
<line x1="351.40" y1="471.90" x2="354.40" y2="471.90" stroke="#111" stroke-width="1.0"/>
<text transform="translate(348.60,474.20) scale(1.08,1.0)" font-size="6.4" text-anchor="end" font-weight="normal" fill="#333" color="#333">100</text>
<line x1="351.40" y1="506.90" x2="354.40" y2="506.90" stroke="#111" stroke-width="1.0"/>
<text transform="translate(348.60,509.20) scale(1.08,1.0)" font-size="6.4" text-anchor="end" font-weight="normal" fill="#333" color="#333">50</text>
<line x1="351.40" y1="541.90" x2="354.40" y2="541.90" stroke="#111" stroke-width="1.0"/>
<text transform="translate(348.60,544.20) scale(1.08,1.0)" font-size="6.4" text-anchor="end" font-weight="normal" fill="#333" color="#333">0</text>
<line x1="354.40" y1="541.90" x2="450.60" y2="541.90" stroke="#111" stroke-width="1.2"/>
<line x1="370.60" y1="541.90" x2="370.60" y2="544.60" stroke="#111" stroke-width="1.0"/>
<line x1="402.00" y1="541.90" x2="402.00" y2="544.60" stroke="#111" stroke-width="1.0"/>
<line x1="434.40" y1="541.90" x2="434.40" y2="544.60" stroke="#111" stroke-width="1.0"/>
<text transform="translate(366.20,440.30) scale(1.04,1.0)" font-size="8.5" text-anchor="start" font-weight="normal" fill="#222" color="#222">Distribution of Lck<tspan dy="-3.2" font-size="5.0">hi</tspan></text>
<text transform="translate(366.20,450.20) scale(1.04,1.0)" font-size="8.5" text-anchor="start" font-weight="normal" fill="#222" color="#222">subsets in fractions</text>
<text transform="translate(331.2,499.6) rotate(-90) scale(0.66,1)" font-size="9.0" font-weight="bold" text-anchor="middle" fill="#222" color="#222">% of cells</text>
<path d="M368.60,469.40 V467.40 H402.00 V469.40" fill="none" stroke="#1a1a1a" stroke-width="1.0"/>
<text transform="translate(385.30,467.00) scale(1.0,1.0)" font-size="5.5" text-anchor="middle" font-weight="normal" fill="#1c1c1c" color="#1c1c1c">*</text>
<path d="M403.00,469.40 V467.40 H434.40 V469.40" fill="none" stroke="#1a1a1a" stroke-width="1.0"/>
<text transform="translate(418.70,467.00) scale(1.0,1.0)" font-size="5.5" text-anchor="middle" font-weight="normal" fill="#1c1c1c" color="#1c1c1c">**</text>
<rect x="367.5" y="534.7" width="2.6" height="2.6" fill="#233c72"/>
<rect x="370.6" y="534.7" width="2.6" height="2.6" fill="#233c72"/>
<rect x="360.2" y="539.9" width="2.6" height="2.6" fill="#233c72"/>
<rect x="363.2" y="540.1" width="2.6" height="2.6" fill="#233c72"/>
<rect x="366.2" y="540.3" width="2.6" height="2.6" fill="#233c72"/>
<rect x="369.2" y="541.3" width="2.6" height="2.6" fill="#233c72"/>
<rect x="372.2" y="540.1" width="2.6" height="2.6" fill="#233c72"/>
<rect x="375.2" y="539.7" width="2.6" height="2.6" fill="#233c72"/>
<rect x="378.2" y="539.3" width="2.6" height="2.6" fill="#233c72"/>
<rect x="367.2" y="543.2" width="2.6" height="2.6" fill="#233c72"/>
<line x1="360.00" y1="541.30" x2="381.00" y2="541.30" stroke="#111" stroke-width="1.2"/>
<rect x="395.2" y="528.7" width="2.6" height="2.6" fill="#233c72"/>
<rect x="398.2" y="528.7" width="2.6" height="2.6" fill="#233c72"/>
<rect x="401.2" y="528.7" width="2.6" height="2.6" fill="#233c72"/>
<rect x="404.2" y="528.3" width="2.6" height="2.6" fill="#233c72"/>
<rect x="406.2" y="527.5" width="2.6" height="2.6" fill="#233c72"/>
<rect x="397.2" y="533.5" width="2.6" height="2.6" fill="#233c72"/>
<rect x="400.7" y="533.5" width="2.6" height="2.6" fill="#233c72"/>
<rect x="400.6" y="538.7" width="2.6" height="2.6" fill="#233c72"/>
<line x1="391.90" y1="530.80" x2="414.10" y2="530.80" stroke="#111" stroke-width="1.2"/>
<rect x="433.1" y="472.8" width="2.6" height="2.6" fill="#233c72"/>
<rect x="433.1" y="478.3" width="2.6" height="2.6" fill="#233c72"/>
<rect x="425.2" y="482.7" width="2.6" height="2.6" fill="#233c72"/>
<rect x="428.2" y="482.7" width="2.6" height="2.6" fill="#233c72"/>
<rect x="431.2" y="482.7" width="2.6" height="2.6" fill="#233c72"/>
<rect x="434.2" y="482.3" width="2.6" height="2.6" fill="#233c72"/>
<rect x="437.2" y="481.9" width="2.6" height="2.6" fill="#233c72"/>
<rect x="440.2" y="481.3" width="2.6" height="2.6" fill="#233c72"/>
<rect x="433.1" y="488.4" width="2.6" height="2.6" fill="#233c72"/>
<line x1="423.30" y1="483.60" x2="445.50" y2="483.60" stroke="#111" stroke-width="1.2"/>
<text transform="translate(373.00,551.50) scale(1.18,1) rotate(-45)" font-size="6.2" text-anchor="end" fill="#222"><tspan>CXCR4</tspan><tspan dy="-2.3" font-size="3.8">bright</tspan><tspan dy="2.3">CD5</tspan><tspan dy="-2.3" font-size="3.8">dim</tspan></text>
<text transform="translate(409.00,552.50) scale(1.18,1) rotate(-45)" font-size="6.2" text-anchor="end" fill="#222"><tspan>CXCR4</tspan><tspan dy="-2.3" font-size="3.8">dim</tspan><tspan dy="2.3">CD5bright</tspan></text>
<text transform="translate(438.50,551.00) scale(1.18,1) rotate(-45)" font-size="6.2" text-anchor="end" fill="#222">Bulk intermediate</text>
<text transform="translate(438.00,562.50) scale(1.18,1) rotate(-45)" font-size="6.2" text-anchor="end" fill="#222">population</text>
</g>
</svg></body></html>
